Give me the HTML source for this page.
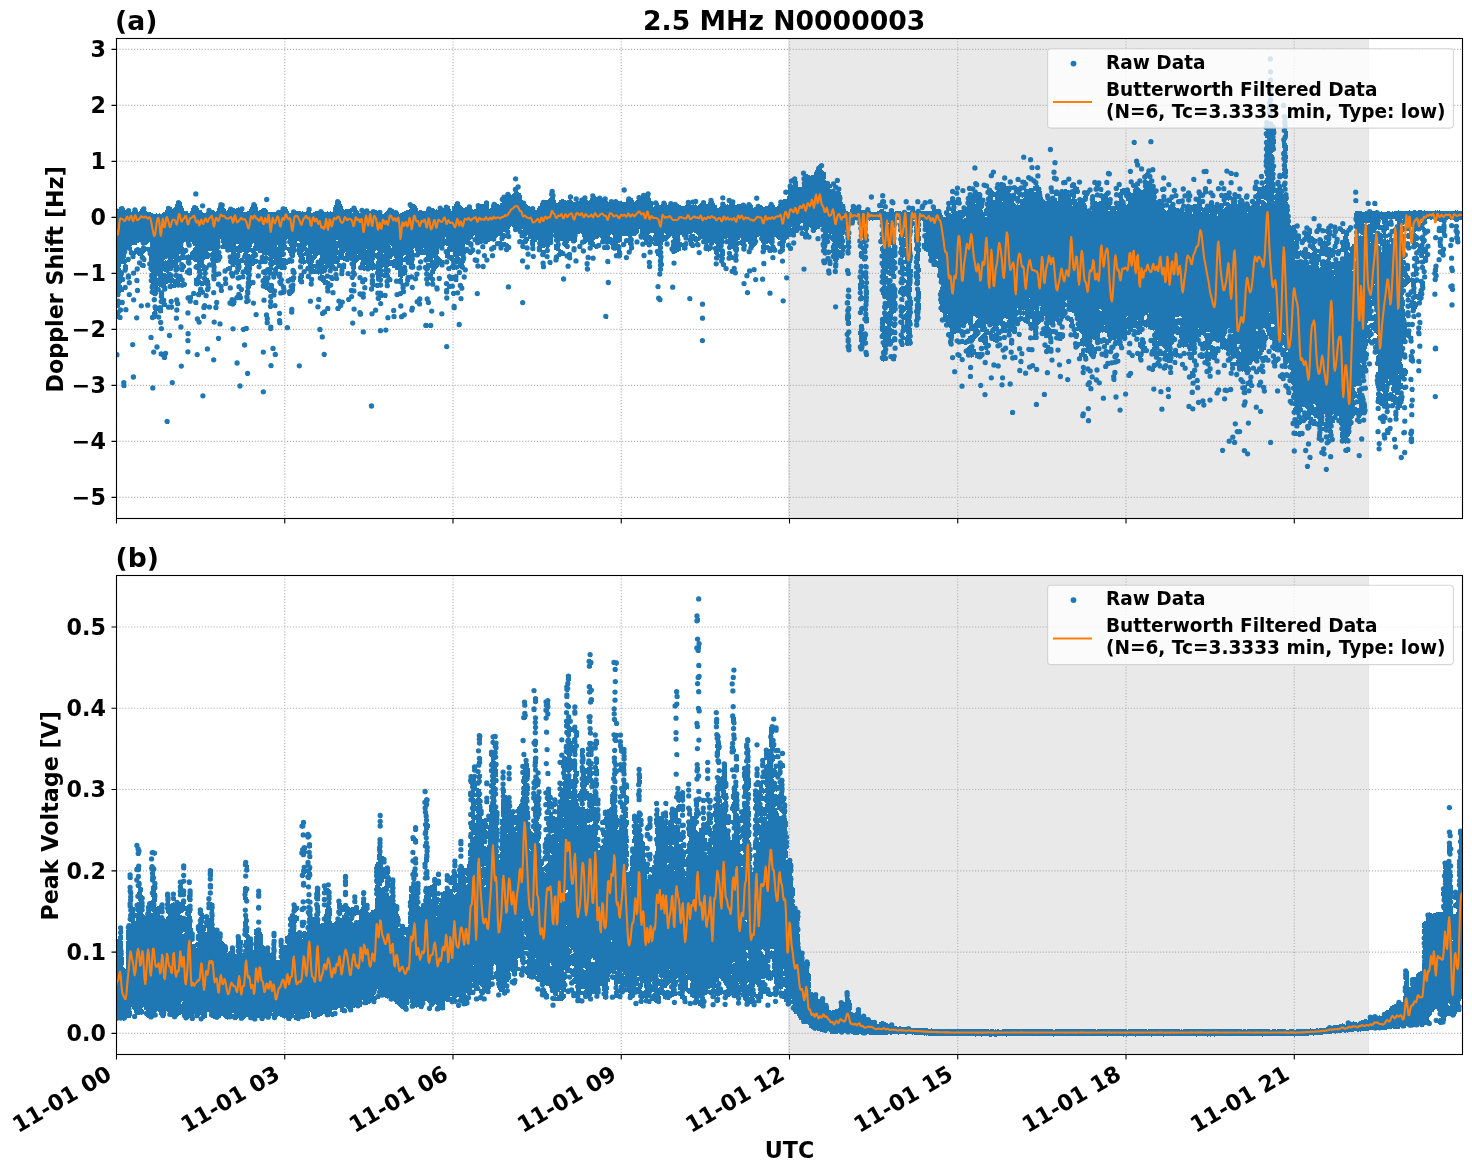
<!DOCTYPE html>
<html><head><meta charset="utf-8"><title>2.5 MHz N0000003</title>
<style>html,body{margin:0;padding:0;background:#fff}svg{display:block}</style></head>
<body>
<svg width="1472" height="1172" viewBox="0 0 1472 1172" font-family='"DejaVu Sans","Liberation Sans",sans-serif' font-weight="bold" fill="#000">
<rect width="1472" height="1172" fill="#fff"/>
<clipPath id="c1"><rect x="116.5" y="38.5" width="1346.0" height="480.0"/></clipPath>
<clipPath id="c2"><rect x="116.5" y="575.5" width="1346.0" height="479.0"/></clipPath>
<rect x="788.50" y="38.5" width="580.00" height="480.0" fill="#d3d3d3" fill-opacity="0.5" stroke="#d3d3d3" stroke-opacity="0.5" stroke-width="1"/>
<path d="M116.50 38.5V518.5M284.75 38.5V518.5M453.00 38.5V518.5M621.25 38.5V518.5M789.50 38.5V518.5M957.75 38.5V518.5M1126.00 38.5V518.5M1294.25 38.5V518.5M116.5 49.40H1462.5M116.5 105.40H1462.5M116.5 161.40H1462.5M116.5 217.40H1462.5M116.5 273.40H1462.5M116.5 329.40H1462.5M116.5 385.40H1462.5M116.5 441.40H1462.5M116.5 497.40H1462.5" stroke="#b0b0b0" stroke-width="1.1" stroke-dasharray="1.11 1.83" fill="none"/>
<g clip-path="url(#c1)"><path d="M114.5 220v4M115.5 213v25M115.5 239v5M115.5 245v14M115.5 263v4M115.5 272v4M115.5 290v4M115.5 302v4M116.5 209v69M116.5 279v4M116.5 289v7M116.5 300v8M116.5 311v8M116.5 353v4M117.5 209v88M117.5 299v9M117.5 311v8M117.5 353v4M118.5 209v88M118.5 299v9M118.5 310v9M118.5 353v4M119.5 207v90M119.5 299v8M119.5 308v12M120.5 207v60M120.5 268v16M120.5 285v8M120.5 301v4M120.5 308v5M120.5 315v5M121.5 206v58M121.5 270v13M121.5 285v7M121.5 301v4M121.5 308v4M121.5 316v4M122.5 207v57M122.5 272v10M122.5 287v5M122.5 301v4M122.5 381v6M123.5 207v57M123.5 267v8M123.5 278v4M123.5 286v6M123.5 301v4M123.5 381v7M124.5 208v64M124.5 286v4M124.5 381v7M125.5 210v48M125.5 259v13M125.5 286v4M125.5 308v4M125.5 381v7M126.5 210v40M126.5 258v5M126.5 265v7M126.5 286v4M126.5 308v4M127.5 209v40M127.5 258v4M127.5 265v5M127.5 274v5M127.5 308v4M128.5 209v41M128.5 258v4M128.5 274v5M128.5 281v4M128.5 293v4M129.5 209v41M129.5 258v4M129.5 274v5M129.5 281v4M129.5 293v4M130.5 209v46M130.5 275v4M130.5 281v4M130.5 293v4M131.5 212v34M131.5 247v11M131.5 343v4M132.5 211v34M132.5 251v8M132.5 271v4M132.5 298v4M132.5 343v4M132.5 375v4M133.5 209v36M133.5 251v8M133.5 271v4M133.5 298v4M133.5 343v4M133.5 375v4M134.5 208v37M134.5 251v8M134.5 271v4M134.5 298v4M134.5 375v4M135.5 208v37M135.5 249v6M135.5 268v7M135.5 316v4M136.5 208v37M136.5 248v6M136.5 267v4M136.5 279v4M136.5 289v4M136.5 316v4M137.5 210v33M137.5 248v7M137.5 267v4M137.5 279v4M137.5 289v4M137.5 316v4M138.5 212v31M138.5 248v8M138.5 261v4M138.5 267v4M138.5 279v4M138.5 289v4M139.5 211v31M139.5 248v8M139.5 261v4M140.5 209v33M140.5 248v8M140.5 261v6M140.5 304v4M141.5 208v36M141.5 248v12M141.5 262v5M141.5 304v4M142.5 208v37M142.5 246v15M142.5 263v5M142.5 304v4M143.5 207v38M143.5 246v8M143.5 256v6M143.5 263v5M144.5 207v38M144.5 246v7M144.5 256v6M144.5 264v4M145.5 207v38M145.5 247v5M145.5 258v4M146.5 211v34M146.5 247v4M146.5 303v4M147.5 212v32M147.5 247v5M147.5 303v4M148.5 212v31M148.5 247v4M148.5 303v4M149.5 212v30M149.5 247v11M149.5 262v4M150.5 212v60M150.5 273v10M150.5 336v4M151.5 213v76M151.5 290v4M151.5 316v4M151.5 336v4M152.5 213v82M152.5 312v8M152.5 336v4M152.5 350v4M152.5 386v4M153.5 214v75M153.5 290v5M153.5 298v4M153.5 306v4M153.5 311v9M153.5 350v4M153.5 386v4M154.5 214v82M154.5 298v4M154.5 305v14M154.5 350v4M154.5 386v4M155.5 214v82M155.5 298v4M155.5 305v14M156.5 213v83M156.5 305v13M156.5 345v4M157.5 214v62M157.5 278v16M157.5 307v4M157.5 315v4M157.5 345v4M158.5 214v72M158.5 287v5M158.5 306v6M158.5 315v4M158.5 345v4M159.5 213v74M159.5 288v4M159.5 306v7M159.5 315v4M159.5 321v4M160.5 214v73M160.5 291v13M160.5 306v7M160.5 321v4M160.5 327v4M160.5 352v4M161.5 214v74M161.5 291v13M161.5 306v7M161.5 321v4M161.5 327v4M161.5 352v5M162.5 213v75M162.5 291v14M162.5 306v7M162.5 327v4M162.5 352v4M163.5 212v59M163.5 273v34M163.5 352v8M164.5 212v48M164.5 261v11M164.5 273v18M164.5 298v9M164.5 352v8M165.5 210v49M165.5 260v12M165.5 273v18M165.5 303v4M165.5 351v9M166.5 208v51M166.5 261v12M166.5 274v10M166.5 286v5M166.5 303v4M166.5 352v7M166.5 420v4M167.5 207v48M167.5 260v13M167.5 274v10M167.5 305v4M167.5 420v4M168.5 207v76M168.5 305v4M168.5 334v4M168.5 420v4M169.5 207v64M169.5 272v11M169.5 285v4M169.5 305v4M169.5 334v4M170.5 207v64M170.5 272v17M170.5 300v4M170.5 305v4M170.5 334v4M171.5 207v64M171.5 273v16M171.5 300v4M171.5 305v5M171.5 381v4M172.5 209v61M172.5 274v9M172.5 284v4M172.5 300v4M172.5 305v4M172.5 381v4M173.5 208v51M173.5 260v8M173.5 278v10M173.5 381v4M174.5 207v65M174.5 279v9M175.5 204v68M175.5 274v4M175.5 279v9M175.5 298v6M175.5 316v4M176.5 202v70M176.5 274v13M176.5 298v8M176.5 308v4M176.5 316v4M177.5 201v71M177.5 274v13M177.5 298v8M177.5 308v4M177.5 316v4M178.5 201v61M178.5 265v6M178.5 275v12M178.5 299v7M178.5 308v4M179.5 201v53M179.5 256v6M179.5 275v12M180.5 201v53M180.5 258v4M180.5 275v7M180.5 325v4M180.5 364v4M181.5 202v58M181.5 263v9M181.5 275v7M181.5 283v4M181.5 325v4M181.5 364v4M182.5 206v54M182.5 263v9M182.5 277v11M182.5 325v4M182.5 364v4M183.5 208v35M183.5 247v13M183.5 263v9M183.5 278v9M184.5 211v31M184.5 249v11M184.5 264v5M184.5 282v5M185.5 211v31M185.5 248v6M185.5 283v4M186.5 211v33M186.5 249v4M186.5 255v5M186.5 270v4M187.5 211v36M187.5 255v10M187.5 270v5M187.5 296v4M187.5 311v4M187.5 332v4M187.5 339v4M187.5 350v4M188.5 213v34M188.5 254v11M188.5 268v7M188.5 296v7M188.5 311v4M188.5 332v4M188.5 339v4M188.5 350v4M189.5 213v34M189.5 255v10M189.5 268v7M189.5 296v7M189.5 311v4M189.5 332v4M189.5 339v4M189.5 350v4M190.5 211v31M190.5 243v4M190.5 252v13M190.5 268v7M190.5 295v8M191.5 208v34M191.5 251v9M191.5 269v6M191.5 296v7M192.5 207v37M192.5 250v10M192.5 292v7M193.5 206v40M193.5 248v13M193.5 292v4M194.5 206v40M194.5 247v15M194.5 278v7M194.5 292v4M195.5 192v4M195.5 205v57M195.5 264v5M195.5 278v8M195.5 301v4M196.5 192v4M196.5 206v56M196.5 264v6M196.5 277v9M196.5 301v4M196.5 317v4M196.5 353v4M197.5 192v4M197.5 206v67M197.5 276v10M197.5 292v5M197.5 301v4M197.5 317v7M197.5 353v4M198.5 208v78M198.5 289v8M198.5 317v7M198.5 353v4M199.5 210v75M199.5 287v10M199.5 318v6M200.5 210v69M200.5 280v6M200.5 287v9M200.5 320v4M201.5 204v4M201.5 210v58M201.5 269v8M201.5 281v5M201.5 287v7M202.5 204v4M202.5 212v59M202.5 281v5M202.5 288v7M202.5 315v4M202.5 394v4M203.5 204v4M203.5 213v62M203.5 276v10M203.5 290v4M203.5 304v6M203.5 315v4M203.5 394v4M204.5 213v47M204.5 264v11M204.5 276v9M204.5 291v6M204.5 304v6M204.5 315v4M204.5 394v4M205.5 213v46M205.5 265v10M205.5 276v9M205.5 294v4M205.5 304v6M206.5 212v47M206.5 266v9M206.5 277v15M206.5 294v4M206.5 304v4M206.5 347v4M207.5 209v50M207.5 265v5M207.5 278v14M207.5 294v4M207.5 347v4M208.5 209v42M208.5 252v7M208.5 263v4M208.5 278v14M208.5 305v4M208.5 347v4M209.5 209v42M209.5 253v5M209.5 263v4M209.5 280v11M209.5 305v4M210.5 209v42M210.5 253v4M210.5 263v4M210.5 305v4M211.5 210v41M211.5 252v15M212.5 210v59M212.5 274v7M212.5 291v4M212.5 358v4M213.5 210v71M213.5 291v4M213.5 320v4M213.5 358v4M214.5 211v70M214.5 291v4M214.5 320v4M214.5 358v4M215.5 212v69M215.5 301v4M215.5 306v4M215.5 320v4M216.5 211v52M216.5 272v5M216.5 301v9M217.5 208v55M217.5 273v4M217.5 282v4M217.5 301v4M217.5 306v4M217.5 337v4M218.5 206v56M218.5 272v4M218.5 282v4M218.5 337v4M219.5 203v46M219.5 250v12M219.5 272v4M219.5 282v6M219.5 322v4M219.5 337v4M220.5 203v36M220.5 251v10M220.5 272v4M220.5 283v10M220.5 322v4M221.5 203v40M221.5 245v4M221.5 255v4M221.5 285v8M221.5 322v4M222.5 203v46M222.5 285v8M223.5 203v46M224.5 208v41M224.5 269v4M224.5 277v9M225.5 209v40M225.5 269v4M225.5 277v9M226.5 211v41M226.5 267v6M226.5 277v9M227.5 210v42M227.5 267v4M228.5 209v43M228.5 266v5M229.5 207v45M229.5 255v9M229.5 266v5M229.5 286v4M229.5 301v4M230.5 207v45M230.5 255v9M230.5 267v4M230.5 272v5M230.5 286v4M230.5 298v8M231.5 207v63M231.5 272v6M231.5 286v4M231.5 298v8M232.5 208v59M232.5 272v6M232.5 298v8M232.5 327v4M233.5 208v59M233.5 272v6M233.5 298v8M233.5 327v4M234.5 208v59M234.5 299v7M234.5 327v4M235.5 209v56M235.5 270v4M235.5 300v5M236.5 208v36M236.5 246v6M236.5 253v21M236.5 295v5M236.5 361v4M237.5 208v36M237.5 246v28M237.5 276v4M237.5 293v7M237.5 361v4M238.5 207v37M238.5 245v29M238.5 276v4M238.5 285v4M238.5 293v7M238.5 361v4M239.5 208v50M239.5 259v13M239.5 276v4M239.5 285v5M239.5 293v7M239.5 384v4M240.5 208v45M240.5 259v11M240.5 276v4M240.5 285v7M240.5 293v7M240.5 384v4M241.5 207v46M241.5 259v4M241.5 287v5M241.5 294v6M241.5 384v4M242.5 207v45M242.5 259v4M242.5 270v4M242.5 275v4M242.5 288v4M242.5 328v4M243.5 207v4M243.5 212v40M243.5 253v10M243.5 270v4M243.5 275v4M243.5 328v4M243.5 343v4M244.5 212v47M244.5 260v5M244.5 267v7M244.5 275v4M244.5 327v5M244.5 343v4M245.5 212v62M245.5 300v4M245.5 327v4M245.5 343v4M246.5 212v63M246.5 290v14M246.5 327v4M246.5 372v4M247.5 211v65M247.5 277v27M247.5 327v4M247.5 372v4M248.5 211v42M248.5 254v49M248.5 372v4M249.5 209v43M249.5 254v35M249.5 290v5M249.5 299v4M250.5 207v45M250.5 255v33M251.5 205v42M251.5 248v5M251.5 254v16M251.5 281v5M252.5 203v41M252.5 248v18M252.5 281v4M252.5 301v4M253.5 203v40M253.5 246v20M253.5 281v4M253.5 301v4M254.5 203v62M254.5 281v4M254.5 301v4M255.5 203v55M255.5 259v5M255.5 313v4M256.5 204v47M256.5 252v5M256.5 259v5M256.5 313v4M257.5 207v44M257.5 259v4M257.5 274v4M257.5 313v4M258.5 211v42M258.5 265v4M258.5 274v4M259.5 210v43M259.5 260v4M259.5 265v4M259.5 274v4M260.5 210v43M260.5 260v4M260.5 265v4M261.5 209v44M261.5 256v8M262.5 208v47M262.5 256v8M262.5 270v4M262.5 278v5M262.5 284v4M262.5 350v4M262.5 390v4M263.5 208v56M263.5 270v5M263.5 276v12M263.5 298v4M263.5 350v4M263.5 390v4M264.5 208v47M264.5 256v8M264.5 269v6M264.5 276v13M264.5 298v4M264.5 350v4M264.5 390v4M265.5 198v4M265.5 208v56M265.5 269v21M265.5 298v4M265.5 313v4M266.5 198v4M266.5 209v55M266.5 268v7M266.5 276v14M266.5 313v12M267.5 198v4M267.5 210v45M267.5 256v4M267.5 268v6M267.5 276v15M267.5 313v12M268.5 212v44M268.5 257v4M268.5 267v7M268.5 276v9M268.5 286v6M268.5 314v11M269.5 212v63M269.5 276v4M269.5 284v9M269.5 300v4M269.5 305v4M269.5 326v5M270.5 212v63M270.5 284v9M270.5 295v4M270.5 300v4M270.5 305v4M270.5 325v6M270.5 364v4M271.5 212v63M271.5 284v9M271.5 295v4M271.5 300v4M271.5 305v4M271.5 325v6M271.5 364v4M272.5 212v58M272.5 272v7M272.5 284v9M272.5 294v5M272.5 325v5M272.5 347v4M272.5 364v4M273.5 212v47M273.5 260v6M273.5 275v4M273.5 284v13M273.5 347v4M274.5 212v53M274.5 267v12M274.5 289v8M274.5 304v4M274.5 347v4M274.5 353v4M275.5 212v53M275.5 266v13M275.5 289v8M275.5 304v4M275.5 353v4M276.5 212v63M276.5 304v4M276.5 353v4M277.5 211v34M277.5 247v28M278.5 211v58M278.5 272v7M278.5 312v4M278.5 319v6M279.5 210v59M279.5 272v14M279.5 312v4M279.5 319v6M280.5 210v60M280.5 272v14M280.5 291v4M280.5 312v4M280.5 319v6M281.5 208v62M281.5 273v14M281.5 291v4M281.5 319v6M282.5 207v50M282.5 258v12M282.5 278v17M283.5 207v50M283.5 258v12M283.5 284v11M284.5 207v44M284.5 252v4M284.5 258v12M284.5 285v9M285.5 207v43M285.5 258v12M285.5 286v8M286.5 207v33M286.5 245v5M286.5 259v6M286.5 326v4M287.5 209v30M287.5 247v4M287.5 260v5M287.5 279v4M287.5 326v4M288.5 211v33M288.5 247v6M288.5 258v6M288.5 278v5M288.5 290v6M288.5 326v4M289.5 213v33M289.5 247v6M289.5 258v6M289.5 277v6M289.5 289v7M290.5 213v44M290.5 258v5M290.5 277v5M290.5 285v11M290.5 308v6M291.5 212v46M291.5 259v5M291.5 269v5M291.5 276v6M291.5 284v11M291.5 308v6M292.5 210v48M292.5 259v4M292.5 269v5M292.5 276v6M292.5 283v11M292.5 308v6M293.5 210v48M293.5 269v13M293.5 283v10M293.5 308v6M294.5 210v47M294.5 269v6M294.5 276v6M294.5 283v8M295.5 211v41M295.5 270v5M295.5 276v4M296.5 211v36M297.5 211v30M297.5 243v12M298.5 211v30M298.5 243v14M298.5 276v6M298.5 364v4M299.5 211v31M299.5 243v15M299.5 265v4M299.5 275v8M299.5 364v4M300.5 211v52M300.5 265v4M300.5 274v10M300.5 364v4M301.5 212v52M301.5 265v4M301.5 274v10M302.5 211v53M302.5 270v14M303.5 212v40M303.5 253v12M303.5 270v8M303.5 280v4M304.5 212v39M304.5 252v4M304.5 257v7M304.5 270v4M305.5 212v44M305.5 260v4M305.5 270v4M306.5 211v35M306.5 247v16M306.5 267v4M307.5 208v37M307.5 248v16M307.5 267v4M307.5 275v4M308.5 208v63M308.5 275v4M309.5 208v66M309.5 275v4M309.5 299v4M310.5 208v66M310.5 275v11M310.5 299v4M311.5 213v61M311.5 278v8M311.5 299v4M312.5 213v41M312.5 255v19M312.5 278v8M313.5 212v51M313.5 264v10M314.5 212v48M314.5 264v4M314.5 270v4M315.5 211v48M315.5 264v10M316.5 211v47M316.5 261v8M316.5 270v4M317.5 211v45M317.5 260v14M317.5 305v4M318.5 211v44M318.5 260v15M318.5 298v4M318.5 305v4M319.5 210v45M319.5 258v16M319.5 276v4M319.5 298v4M319.5 305v4M319.5 328v4M320.5 210v71M320.5 298v4M320.5 328v4M321.5 210v72M321.5 312v4M321.5 328v4M321.5 335v4M322.5 210v64M322.5 275v8M322.5 312v4M322.5 335v4M323.5 211v63M323.5 275v10M323.5 310v6M323.5 335v4M323.5 353v4M324.5 212v52M324.5 265v8M324.5 276v9M324.5 310v5M324.5 353v4M325.5 212v61M325.5 276v9M325.5 310v4M325.5 353v4M326.5 212v60M326.5 274v4M326.5 280v5M326.5 286v7M326.5 307v7M327.5 211v58M327.5 274v4M327.5 280v13M327.5 307v4M328.5 212v56M328.5 274v4M328.5 281v12M328.5 307v4M329.5 212v61M329.5 275v4M329.5 281v12M329.5 307v4M330.5 211v62M330.5 275v5M330.5 283v5M331.5 212v61M331.5 275v6M331.5 283v4M332.5 212v57M332.5 275v6M332.5 291v4M333.5 207v62M333.5 277v4M333.5 291v4M334.5 205v59M334.5 265v6M334.5 291v4M335.5 202v62M335.5 267v4M335.5 273v8M336.5 200v40M336.5 241v23M336.5 267v4M336.5 273v8M337.5 200v40M337.5 241v14M337.5 256v8M337.5 267v4M337.5 273v8M337.5 307v4M338.5 200v48M338.5 250v18M338.5 299v4M338.5 305v6M339.5 200v62M339.5 264v4M339.5 299v12M340.5 201v59M340.5 264v11M340.5 299v10M341.5 204v56M341.5 264v12M341.5 300v8M342.5 206v54M342.5 263v13M342.5 300v7M343.5 209v52M343.5 263v13M343.5 300v4M344.5 210v43M344.5 256v5M344.5 263v6M345.5 209v43M345.5 253v8M345.5 264v5M346.5 209v53M347.5 209v53M347.5 272v4M347.5 298v4M348.5 209v53M348.5 272v4M348.5 298v4M349.5 209v51M349.5 272v4M349.5 298v4M350.5 208v53M350.5 289v4M350.5 295v6M351.5 208v53M351.5 262v4M351.5 276v4M351.5 289v4M351.5 295v4M351.5 321v4M352.5 207v5M352.5 213v57M352.5 271v9M352.5 289v4M352.5 295v4M352.5 321v4M353.5 206v64M353.5 271v9M353.5 283v4M353.5 289v4M353.5 307v4M353.5 321v4M354.5 206v64M354.5 271v6M354.5 283v4M354.5 289v4M354.5 307v4M355.5 206v63M355.5 271v5M355.5 283v4M355.5 289v4M355.5 307v4M356.5 208v55M357.5 210v44M357.5 255v7M358.5 211v50M358.5 311v4M359.5 213v47M359.5 266v4M359.5 276v4M359.5 292v4M359.5 311v5M360.5 213v47M360.5 265v5M360.5 276v4M360.5 292v5M360.5 311v5M361.5 209v61M361.5 276v8M361.5 292v6M361.5 311v5M362.5 209v61M362.5 279v5M362.5 292v7M362.5 312v4M362.5 330v4M363.5 209v62M363.5 278v6M363.5 292v7M363.5 330v4M364.5 210v61M364.5 278v6M364.5 286v4M364.5 292v7M364.5 330v4M365.5 210v55M365.5 266v4M365.5 278v4M365.5 286v4M366.5 209v40M366.5 250v21M366.5 278v4M366.5 286v4M367.5 209v62M368.5 209v62M369.5 211v60M370.5 211v59M370.5 287v4M370.5 404v4M371.5 211v59M371.5 274v4M371.5 279v12M371.5 312v4M371.5 404v4M372.5 210v61M372.5 274v4M372.5 279v12M372.5 312v4M372.5 404v4M373.5 210v60M373.5 274v4M373.5 279v12M373.5 312v4M374.5 210v50M374.5 263v7M374.5 279v8M374.5 308v4M375.5 210v41M375.5 253v5M375.5 308v4M376.5 210v40M376.5 253v6M376.5 261v18M376.5 284v4M376.5 308v4M377.5 211v40M377.5 252v29M377.5 284v4M377.5 291v4M377.5 296v5M378.5 211v70M378.5 284v4M378.5 291v10M379.5 211v71M379.5 283v4M379.5 291v10M379.5 302v4M379.5 329v4M380.5 211v71M380.5 283v4M380.5 291v9M380.5 302v4M380.5 329v4M381.5 211v66M381.5 278v4M381.5 283v4M381.5 291v7M381.5 302v4M381.5 329v4M382.5 214v54M382.5 269v8M382.5 292v6M383.5 214v39M383.5 254v13M383.5 273v5M384.5 213v55M384.5 273v5M384.5 294v4M385.5 212v66M385.5 294v4M385.5 328v4M386.5 211v67M386.5 280v8M386.5 294v4M386.5 328v4M387.5 210v78M387.5 316v4M387.5 328v4M388.5 209v58M388.5 268v20M388.5 316v4M389.5 208v58M389.5 269v4M389.5 275v7M389.5 316v4M390.5 208v37M390.5 246v13M390.5 260v6M390.5 277v5M391.5 208v38M391.5 248v11M391.5 260v6M391.5 278v4M392.5 209v48M392.5 260v8M392.5 309v4M393.5 209v47M393.5 259v9M393.5 309v4M393.5 315v4M394.5 211v47M394.5 259v9M394.5 309v4M394.5 315v4M395.5 211v59M395.5 279v4M395.5 315v4M396.5 211v59M396.5 279v4M396.5 293v4M397.5 211v59M397.5 279v4M397.5 293v4M398.5 212v65M398.5 279v4M398.5 293v4M399.5 214v63M399.5 278v6M399.5 292v4M400.5 213v71M400.5 292v4M400.5 304v4M400.5 315v4M401.5 213v77M401.5 292v4M401.5 304v4M401.5 315v4M402.5 212v53M402.5 266v12M402.5 279v16M402.5 304v4M402.5 315v4M403.5 212v44M403.5 258v4M403.5 266v10M403.5 284v10M403.5 313v5M404.5 211v44M404.5 257v5M404.5 266v10M404.5 284v10M404.5 313v4M405.5 211v44M405.5 256v6M405.5 266v9M405.5 313v4M406.5 210v54M406.5 266v9M406.5 276v10M407.5 210v55M407.5 276v10M408.5 210v55M408.5 275v11M409.5 203v5M409.5 209v56M409.5 276v6M410.5 203v66M410.5 275v4M410.5 308v4M411.5 203v66M411.5 275v4M411.5 286v4M411.5 306v6M412.5 204v66M412.5 275v4M412.5 286v4M412.5 306v6M413.5 204v45M413.5 250v19M413.5 286v4M413.5 306v6M414.5 204v44M414.5 253v4M414.5 264v5M414.5 277v4M415.5 205v46M415.5 253v4M415.5 277v4M416.5 206v51M416.5 272v4M416.5 277v4M416.5 300v4M417.5 208v49M417.5 272v4M417.5 299v6M418.5 211v46M418.5 266v4M418.5 272v4M418.5 298v8M419.5 210v46M419.5 260v4M419.5 266v4M419.5 297v9M420.5 210v45M420.5 260v4M420.5 266v4M420.5 297v9M421.5 210v45M421.5 260v4M421.5 297v4M422.5 211v44M423.5 211v37M423.5 249v6M424.5 211v44M424.5 266v4M425.5 211v44M425.5 257v5M425.5 265v6M425.5 272v4M425.5 277v4M425.5 323v5M426.5 209v53M426.5 263v8M426.5 272v4M426.5 277v4M426.5 282v4M426.5 297v4M426.5 323v5M427.5 208v54M427.5 263v8M427.5 272v4M427.5 277v4M427.5 282v4M427.5 297v8M427.5 323v5M428.5 207v55M428.5 263v8M428.5 273v8M428.5 282v4M428.5 297v8M429.5 207v55M429.5 263v7M429.5 273v7M429.5 301v4M429.5 324v4M430.5 207v61M430.5 272v8M430.5 309v4M430.5 324v4M431.5 208v78M431.5 309v4M431.5 324v4M432.5 208v78M432.5 309v4M433.5 208v50M433.5 260v14M433.5 278v8M434.5 209v65M435.5 210v61M435.5 287v4M436.5 209v60M436.5 286v5M437.5 210v58M437.5 286v5M438.5 207v47M438.5 256v11M438.5 277v4M438.5 286v5M439.5 206v42M439.5 257v8M439.5 277v4M440.5 206v44M440.5 258v9M440.5 277v4M441.5 206v44M441.5 259v8M441.5 312v4M442.5 208v42M442.5 260v7M442.5 312v4M443.5 208v42M443.5 260v7M443.5 312v4M444.5 207v39M445.5 205v32M445.5 239v6M445.5 250v8M445.5 260v4M445.5 282v4M445.5 289v5M445.5 345v4M446.5 205v41M446.5 249v9M446.5 260v4M446.5 282v4M446.5 289v5M446.5 296v4M446.5 345v4M447.5 205v41M447.5 247v12M447.5 260v4M447.5 282v4M447.5 289v5M447.5 296v4M447.5 345v4M448.5 206v52M448.5 267v4M448.5 275v4M448.5 282v12M448.5 296v4M449.5 206v54M449.5 266v5M449.5 275v5M449.5 285v4M450.5 209v43M450.5 255v6M450.5 265v6M450.5 275v6M450.5 285v4M451.5 211v41M451.5 255v6M451.5 264v5M451.5 275v6M451.5 284v4M452.5 206v46M452.5 255v15M452.5 275v6M452.5 284v4M452.5 292v4M452.5 305v4M453.5 206v64M453.5 275v5M453.5 284v4M453.5 292v4M453.5 305v5M454.5 204v53M454.5 258v12M454.5 275v6M454.5 292v4M454.5 305v5M455.5 202v62M455.5 265v4M455.5 275v7M455.5 305v5M456.5 202v62M456.5 265v5M456.5 275v7M456.5 291v4M457.5 202v62M457.5 265v4M457.5 275v7M457.5 291v4M458.5 202v67M458.5 271v4M458.5 291v4M458.5 323v4M459.5 202v54M459.5 257v11M459.5 271v4M459.5 284v4M459.5 323v4M460.5 205v51M460.5 258v11M460.5 271v4M460.5 284v6M460.5 297v4M460.5 323v4M461.5 206v63M461.5 284v6M461.5 297v4M462.5 207v63M462.5 284v6M462.5 297v4M463.5 208v61M463.5 275v4M463.5 286v4M464.5 208v55M464.5 266v6M464.5 275v4M465.5 207v37M465.5 248v6M465.5 268v4M465.5 275v4M466.5 207v38M466.5 248v5M466.5 268v4M467.5 206v39M467.5 248v5M468.5 205v40M468.5 248v6M469.5 205v42M469.5 249v6M470.5 205v35M470.5 241v6M470.5 250v5M471.5 206v33M471.5 242v5M471.5 248v7M472.5 209v30M472.5 242v5M472.5 248v6M473.5 210v26M473.5 248v5M474.5 209v26M474.5 238v4M474.5 258v4M475.5 209v34M475.5 258v5M476.5 204v41M476.5 258v5M476.5 292v4M477.5 204v41M477.5 250v4M477.5 259v4M477.5 264v4M477.5 292v4M478.5 203v42M478.5 250v4M478.5 264v4M478.5 292v4M479.5 204v40M479.5 250v4M479.5 264v4M480.5 204v40M481.5 204v40M482.5 204v39M482.5 245v4M482.5 265v4M483.5 204v36M483.5 245v4M483.5 254v4M483.5 265v4M484.5 203v41M484.5 245v4M484.5 254v4M484.5 265v4M485.5 201v43M485.5 254v4M486.5 201v43M486.5 258v4M487.5 201v42M487.5 258v4M488.5 202v40M488.5 258v4M489.5 209v33M490.5 208v33M490.5 247v4M491.5 208v33M491.5 247v4M491.5 254v4M492.5 203v38M492.5 246v5M492.5 254v4M493.5 203v39M493.5 246v5M493.5 254v4M494.5 203v38M494.5 246v4M495.5 203v38M495.5 246v4M496.5 203v35M496.5 242v4M497.5 204v33M497.5 242v4M498.5 204v32M498.5 241v5M499.5 205v31M499.5 241v5M500.5 203v47M501.5 198v4M501.5 203v47M502.5 196v45M502.5 242v8M503.5 195v37M503.5 233v8M503.5 242v5M504.5 195v37M504.5 233v6M504.5 242v5M505.5 195v37M505.5 234v4M505.5 242v10M506.5 193v45M506.5 243v9M507.5 193v46M507.5 243v9M507.5 285v4M508.5 193v46M508.5 244v7M508.5 285v4M509.5 193v36M509.5 230v9M509.5 246v4M509.5 285v4M510.5 194v33M511.5 195v31M512.5 194v33M513.5 193v35M514.5 177v4M514.5 188v44M515.5 177v4M515.5 188v44M516.5 177v4M516.5 186v46M517.5 185v46M518.5 185v4M518.5 192v40M519.5 185v4M519.5 193v41M519.5 240v4M520.5 193v45M520.5 239v5M521.5 195v34M521.5 230v8M521.5 240v4M521.5 259v4M521.5 301v4M522.5 200v29M522.5 230v8M522.5 240v4M522.5 245v4M522.5 259v4M522.5 301v4M523.5 201v37M523.5 239v10M523.5 259v4M523.5 301v4M524.5 201v37M524.5 239v5M524.5 245v4M525.5 202v42M525.5 246v4M526.5 204v32M526.5 237v7M526.5 246v4M526.5 265v4M527.5 205v30M527.5 237v6M527.5 246v4M527.5 252v4M527.5 265v4M528.5 206v35M528.5 246v4M528.5 252v4M528.5 265v4M529.5 206v33M529.5 252v4M530.5 207v32M530.5 240v4M531.5 207v39M532.5 207v44M532.5 255v4M533.5 207v44M533.5 255v4M534.5 207v44M534.5 255v4M535.5 210v32M536.5 210v32M537.5 208v32M538.5 206v46M539.5 206v46M540.5 203v49M541.5 202v55M542.5 201v47M542.5 250v7M542.5 261v8M543.5 201v47M543.5 250v7M543.5 261v8M544.5 201v47M544.5 250v7M544.5 261v8M545.5 200v47M545.5 250v4M546.5 200v48M546.5 249v4M546.5 255v4M547.5 200v48M547.5 249v4M547.5 255v4M548.5 199v49M548.5 249v4M548.5 255v4M549.5 198v49M549.5 261v4M550.5 190v6M550.5 197v48M550.5 261v4M551.5 190v55M551.5 261v4M552.5 190v54M553.5 190v43M554.5 194v44M554.5 244v6M555.5 200v42M555.5 244v6M555.5 255v7M556.5 203v48M556.5 255v7M557.5 203v48M557.5 253v9M558.5 202v57M559.5 200v42M559.5 243v14M560.5 200v41M560.5 249v8M561.5 199v42M561.5 250v6M562.5 199v42M562.5 250v6M562.5 277v4M563.5 199v47M563.5 251v5M563.5 277v4M564.5 200v47M564.5 252v4M564.5 277v4M565.5 200v47M565.5 254v4M566.5 201v48M566.5 254v4M567.5 200v49M567.5 254v5M567.5 264v4M568.5 200v43M568.5 245v4M568.5 253v7M568.5 264v4M569.5 195v46M569.5 253v7M569.5 264v4M570.5 195v46M570.5 253v7M571.5 195v4M571.5 200v42M571.5 253v7M572.5 201v42M572.5 247v5M573.5 202v41M573.5 247v5M574.5 202v41M574.5 247v5M575.5 197v4M575.5 202v41M575.5 247v5M575.5 259v4M576.5 197v45M576.5 259v4M577.5 197v37M577.5 259v4M578.5 201v33M579.5 201v33M579.5 245v4M580.5 199v34M580.5 245v4M581.5 198v36M581.5 240v9M582.5 198v39M582.5 240v4M582.5 249v4M583.5 197v47M583.5 249v4M584.5 196v48M584.5 249v4M585.5 196v48M586.5 196v47M586.5 262v4M586.5 267v4M587.5 200v42M587.5 256v4M587.5 262v4M587.5 267v4M588.5 201v44M588.5 256v4M588.5 262v4M588.5 267v4M589.5 200v45M589.5 246v4M589.5 256v4M590.5 198v52M591.5 195v55M592.5 194v53M592.5 256v4M593.5 194v53M593.5 256v4M594.5 194v46M594.5 242v6M594.5 256v4M595.5 196v43M595.5 244v5M596.5 197v42M596.5 244v5M597.5 197v42M597.5 244v5M598.5 196v42M598.5 243v5M599.5 196v41M599.5 244v4M600.5 196v42M601.5 197v47M602.5 198v46M603.5 198v46M603.5 246v4M604.5 197v47M604.5 246v4M605.5 197v47M605.5 246v4M605.5 315v4M606.5 197v47M606.5 246v4M606.5 315v4M607.5 201v43M607.5 245v5M607.5 260v4M607.5 281v4M607.5 315v4M608.5 202v42M608.5 246v4M608.5 260v4M608.5 281v4M609.5 201v43M609.5 260v4M609.5 281v4M610.5 200v35M610.5 237v8M611.5 200v34M611.5 237v9M612.5 200v35M612.5 238v12M613.5 200v50M614.5 200v50M615.5 200v50M615.5 254v4M616.5 200v50M616.5 253v5M617.5 200v58M618.5 201v42M618.5 244v14M619.5 201v42M619.5 244v14M620.5 201v41M620.5 245v13M621.5 201v41M621.5 251v6M622.5 202v34M622.5 243v4M623.5 188v4M623.5 202v34M623.5 243v4M624.5 188v4M624.5 202v34M624.5 243v4M625.5 188v4M625.5 202v34M625.5 239v7M625.5 256v4M626.5 199v37M626.5 239v4M626.5 256v4M627.5 198v38M627.5 239v4M627.5 256v4M628.5 197v40M628.5 239v6M628.5 250v4M629.5 197v49M629.5 250v4M630.5 197v57M631.5 198v53M632.5 198v38M632.5 238v12M633.5 200v36M634.5 202v34M635.5 201v35M636.5 200v35M636.5 240v4M637.5 196v38M637.5 240v4M638.5 196v37M638.5 240v4M639.5 195v34M640.5 196v43M641.5 195v44M642.5 194v45M642.5 242v4M643.5 194v46M643.5 242v4M643.5 254v4M644.5 194v52M644.5 254v4M645.5 194v51M645.5 254v4M646.5 193v52M647.5 192v55M648.5 192v48M648.5 242v5M648.5 261v8M649.5 192v42M649.5 235v12M649.5 250v4M649.5 261v8M650.5 198v35M650.5 235v12M650.5 250v4M650.5 261v8M651.5 201v32M651.5 236v10M651.5 250v4M652.5 202v31M652.5 237v7M653.5 207v26M653.5 235v6M654.5 206v35M654.5 242v4M655.5 201v45M656.5 201v45M656.5 250v6M657.5 201v45M657.5 249v7M657.5 285v4M657.5 296v4M658.5 203v54M658.5 285v4M658.5 296v5M659.5 205v66M659.5 272v4M659.5 285v4M659.5 296v6M660.5 205v71M660.5 297v5M661.5 204v46M661.5 251v20M661.5 272v4M661.5 298v4M662.5 202v43M662.5 255v12M663.5 201v41M664.5 201v32M664.5 235v6M665.5 201v33M665.5 235v6M666.5 203v38M666.5 242v4M667.5 205v35M667.5 242v4M668.5 204v35M668.5 242v4M669.5 202v36M670.5 202v35M671.5 202v34M671.5 244v8M671.5 285v4M672.5 202v36M672.5 240v14M672.5 285v4M673.5 203v51M673.5 261v4M673.5 285v4M674.5 203v51M674.5 261v4M675.5 203v50M675.5 261v4M676.5 203v50M677.5 204v48M678.5 204v48M679.5 205v46M680.5 205v30M680.5 242v9M681.5 206v29M681.5 242v5M682.5 206v31M682.5 243v7M683.5 206v31M683.5 243v7M684.5 206v34M684.5 242v9M685.5 205v35M685.5 242v8M686.5 203v37M686.5 242v8M687.5 201v39M687.5 242v4M688.5 201v33M689.5 201v33M689.5 235v11M689.5 297v4M690.5 201v45M690.5 297v4M691.5 205v43M691.5 297v4M692.5 200v4M692.5 205v28M692.5 234v14M693.5 200v32M693.5 234v7M693.5 242v6M694.5 200v4M694.5 205v28M694.5 234v8M695.5 199v34M695.5 236v6M696.5 200v4M696.5 205v29M696.5 236v11M697.5 206v29M697.5 237v5M697.5 243v4M698.5 205v36M698.5 243v4M698.5 251v4M699.5 204v37M699.5 243v4M699.5 251v4M700.5 203v37M700.5 251v4M701.5 202v37M701.5 302v4M701.5 316v4M701.5 339v4M702.5 201v38M702.5 240v4M702.5 302v4M702.5 316v4M702.5 339v4M703.5 201v43M703.5 302v4M703.5 316v4M703.5 339v4M704.5 201v43M705.5 201v43M705.5 245v6M706.5 204v47M707.5 204v40M707.5 245v6M708.5 202v41M708.5 245v7M709.5 199v45M709.5 246v5M710.5 199v52M711.5 199v46M711.5 246v4M712.5 199v46M713.5 201v44M714.5 203v40M714.5 247v7M715.5 205v39M715.5 246v9M715.5 256v4M715.5 262v4M716.5 205v55M716.5 262v4M717.5 208v52M717.5 262v4M718.5 208v52M719.5 207v45M719.5 254v4M720.5 206v46M720.5 254v9M721.5 203v60M722.5 196v4M722.5 202v46M722.5 249v18M723.5 196v4M723.5 202v42M723.5 249v18M724.5 196v4M724.5 202v37M724.5 250v6M724.5 263v7M725.5 204v35M725.5 263v8M726.5 205v34M726.5 240v4M726.5 267v4M727.5 204v34M727.5 239v5M727.5 267v4M728.5 199v4M728.5 205v45M728.5 252v8M729.5 199v51M729.5 252v8M730.5 199v51M730.5 252v8M731.5 200v49M731.5 252v8M731.5 270v4M732.5 200v49M732.5 255v5M732.5 267v7M733.5 200v51M733.5 256v4M733.5 267v7M734.5 200v52M734.5 254v8M734.5 267v8M735.5 205v48M735.5 254v8M735.5 267v8M736.5 205v48M736.5 254v8M736.5 271v4M737.5 204v49M737.5 254v8M738.5 204v36M738.5 241v5M738.5 247v4M739.5 204v36M739.5 241v4M740.5 204v34M740.5 240v5M741.5 204v42M742.5 203v43M742.5 247v4M743.5 203v48M743.5 282v4M744.5 203v48M744.5 282v4M745.5 204v39M745.5 244v7M745.5 282v4M746.5 205v37M746.5 274v4M746.5 291v4M747.5 203v39M747.5 274v4M747.5 291v4M748.5 203v41M748.5 250v4M748.5 269v9M748.5 291v4M749.5 203v51M749.5 269v4M750.5 203v51M750.5 269v4M751.5 204v46M752.5 205v45M753.5 208v40M753.5 268v4M754.5 207v40M754.5 268v4M754.5 278v4M755.5 196v4M755.5 207v39M755.5 268v4M755.5 278v4M756.5 196v4M756.5 205v40M756.5 278v4M757.5 196v4M757.5 205v32M758.5 204v33M759.5 205v31M760.5 205v36M761.5 205v38M761.5 245v4M761.5 277v4M762.5 206v48M762.5 277v4M763.5 207v47M763.5 262v4M763.5 277v4M764.5 207v47M764.5 262v4M765.5 206v46M765.5 262v4M766.5 206v38M766.5 245v5M767.5 206v38M767.5 245v5M768.5 205v38M768.5 245v7M769.5 203v41M769.5 246v7M769.5 291v4M770.5 203v42M770.5 247v6M770.5 291v4M771.5 203v42M771.5 246v7M771.5 291v4M772.5 203v49M772.5 256v4M773.5 204v40M773.5 245v7M773.5 256v4M774.5 205v32M774.5 245v7M774.5 256v4M775.5 207v30M775.5 247v5M776.5 207v31M777.5 206v33M778.5 204v36M779.5 201v39M779.5 241v5M779.5 250v4M780.5 200v54M781.5 200v54M781.5 259v4M782.5 200v53M782.5 259v4M782.5 299v4M783.5 199v53M783.5 259v4M783.5 299v4M784.5 199v49M784.5 299v4M785.5 190v4M785.5 199v44M785.5 276v4M786.5 190v5M786.5 199v41M786.5 276v4M787.5 190v4M787.5 196v43M787.5 243v4M787.5 276v4M788.5 185v54M788.5 243v4M789.5 184v53M789.5 243v8M790.5 179v4M790.5 184v53M790.5 244v7M791.5 179v4M791.5 184v43M791.5 228v8M791.5 247v4M792.5 179v4M792.5 185v52M792.5 241v4M793.5 177v60M793.5 241v4M794.5 177v60M794.5 241v4M795.5 177v60M796.5 178v55M797.5 181v52M798.5 187v45M799.5 187v43M800.5 187v37M800.5 226v4M801.5 187v36M801.5 226v4M801.5 232v4M802.5 171v4M802.5 184v39M802.5 226v4M802.5 232v4M803.5 171v5M803.5 177v4M803.5 182v48M803.5 232v4M803.5 267v4M804.5 171v60M804.5 232v7M804.5 267v4M805.5 172v67M805.5 267v4M806.5 174v65M807.5 174v65M808.5 175v55M808.5 233v6M809.5 175v52M809.5 235v4M810.5 176v52M810.5 235v4M811.5 175v56M812.5 175v58M813.5 175v58M814.5 172v61M815.5 170v62M816.5 169v61M817.5 167v62M817.5 237v4M818.5 165v64M818.5 237v4M819.5 164v65M819.5 237v4M820.5 164v63M821.5 163v64M822.5 164v4M822.5 170v62M822.5 235v4M822.5 242v6M822.5 249v4M822.5 259v4M823.5 171v84M823.5 259v6M824.5 172v83M824.5 259v6M825.5 172v7M825.5 180v75M825.5 259v6M826.5 182v66M826.5 250v5M826.5 257v7M827.5 181v63M827.5 250v4M827.5 257v4M827.5 269v6M828.5 182v51M828.5 234v10M828.5 250v5M828.5 257v8M828.5 269v6M829.5 182v57M829.5 250v4M829.5 257v9M829.5 269v6M830.5 184v4M830.5 189v51M830.5 250v4M830.5 260v6M830.5 270v5M831.5 184v4M831.5 190v44M831.5 235v6M831.5 249v4M831.5 260v6M832.5 182v4M832.5 190v52M832.5 243v11M832.5 255v4M833.5 182v4M833.5 190v71M834.5 182v80M834.5 263v5M834.5 270v4M834.5 305v4M835.5 182v7M835.5 191v77M835.5 270v4M835.5 305v4M836.5 179v4M836.5 185v4M836.5 191v77M836.5 270v4M836.5 305v4M837.5 179v4M837.5 186v76M837.5 263v5M838.5 179v4M838.5 187v61M838.5 249v11M839.5 187v62M839.5 250v8M840.5 187v4M840.5 192v57M840.5 250v8M841.5 195v64M842.5 202v56M843.5 204v31M843.5 236v22M844.5 204v30M844.5 245v7M845.5 209v19M845.5 245v4M845.5 315v4M846.5 211v12M846.5 224v12M846.5 242v6M846.5 250v5M846.5 269v5M846.5 301v4M846.5 313v11M846.5 333v4M846.5 338v5M847.5 211v44M847.5 269v7M847.5 288v4M847.5 294v5M847.5 301v4M847.5 307v19M847.5 331v6M847.5 338v6M847.5 345v7M848.5 212v43M848.5 269v7M848.5 288v4M848.5 294v5M848.5 301v4M848.5 307v19M848.5 330v7M848.5 338v14M849.5 212v11M849.5 224v31M849.5 269v7M849.5 288v4M849.5 294v5M849.5 301v4M849.5 307v19M849.5 330v5M849.5 338v14M850.5 209v16M850.5 231v4M850.5 245v4M850.5 295v4M850.5 307v4M850.5 315v4M850.5 321v4M850.5 330v4M850.5 344v8M851.5 208v17M852.5 205v20M853.5 205v20M854.5 205v18M855.5 205v15M856.5 206v14M857.5 206v14M858.5 205v15M858.5 283v7M858.5 331v4M859.5 205v15M859.5 221v4M859.5 239v9M859.5 275v20M859.5 296v5M859.5 311v4M859.5 327v15M859.5 345v6M860.5 205v33M860.5 239v10M860.5 252v7M860.5 265v4M860.5 270v4M860.5 275v26M860.5 307v8M860.5 325v26M861.5 210v28M861.5 239v11M861.5 252v7M861.5 265v36M861.5 307v8M861.5 325v26M862.5 210v28M862.5 240v20M862.5 265v4M862.5 270v19M862.5 295v6M862.5 307v7M862.5 325v26M863.5 210v16M863.5 228v16M863.5 246v15M863.5 271v7M863.5 280v8M863.5 296v4M863.5 307v4M863.5 325v6M863.5 333v17M864.5 210v14M864.5 227v27M864.5 256v5M864.5 264v5M864.5 271v8M864.5 285v4M864.5 295v11M864.5 308v4M864.5 313v9M864.5 332v13M864.5 351v4M865.5 210v14M865.5 227v27M865.5 255v6M865.5 264v5M865.5 271v9M865.5 281v4M865.5 286v21M865.5 308v15M865.5 332v14M865.5 351v6M866.5 208v16M866.5 227v16M866.5 244v10M866.5 256v5M866.5 264v5M866.5 271v36M866.5 308v15M866.5 332v8M866.5 341v4M866.5 351v6M867.5 208v15M867.5 234v8M867.5 244v4M867.5 265v4M867.5 271v9M867.5 281v4M867.5 286v21M867.5 312v11M867.5 351v6M868.5 208v12M868.5 290v5M868.5 317v6M869.5 208v13M870.5 195v4M870.5 211v9M871.5 195v4M871.5 212v8M872.5 195v4M872.5 212v9M873.5 212v8M874.5 212v8M875.5 212v8M876.5 212v8M877.5 211v9M878.5 204v4M878.5 211v9M879.5 203v5M879.5 210v10M880.5 203v5M880.5 209v11M880.5 237v7M880.5 247v4M881.5 194v4M881.5 200v8M881.5 209v19M881.5 229v15M881.5 246v7M881.5 254v4M881.5 262v6M881.5 274v10M881.5 287v8M881.5 318v14M881.5 333v6M881.5 356v5M882.5 194v4M882.5 200v8M882.5 209v35M882.5 245v24M882.5 270v15M882.5 286v10M882.5 317v22M882.5 341v6M882.5 350v11M883.5 194v4M883.5 199v5M883.5 209v89M883.5 302v7M883.5 311v37M883.5 349v13M884.5 200v4M884.5 205v4M884.5 211v88M884.5 302v8M884.5 311v50M885.5 205v4M885.5 211v88M885.5 301v9M885.5 311v12M885.5 326v35M886.5 205v4M886.5 212v62M886.5 276v8M886.5 286v14M886.5 302v8M886.5 312v12M886.5 326v29M886.5 357v4M887.5 212v62M887.5 276v32M887.5 312v35M888.5 212v11M888.5 224v45M888.5 271v4M888.5 278v30M888.5 311v35M889.5 210v66M889.5 278v68M890.5 209v36M890.5 246v24M890.5 271v5M890.5 279v67M890.5 355v4M891.5 200v4M891.5 209v21M891.5 231v14M891.5 248v29M891.5 279v4M891.5 284v42M891.5 328v8M891.5 339v7M891.5 354v6M892.5 200v5M892.5 209v21M892.5 232v46M892.5 284v36M892.5 321v6M892.5 329v6M892.5 338v7M892.5 355v6M893.5 200v5M893.5 209v20M893.5 236v43M893.5 284v30M893.5 317v4M893.5 322v6M893.5 329v6M893.5 337v6M893.5 354v7M894.5 201v4M894.5 212v16M894.5 236v22M894.5 259v20M894.5 284v29M894.5 317v4M894.5 322v6M894.5 330v5M894.5 337v5M894.5 346v4M894.5 355v6M895.5 211v16M895.5 237v21M895.5 261v4M895.5 266v5M895.5 274v5M895.5 286v27M895.5 317v4M895.5 322v6M895.5 330v5M895.5 337v5M895.5 346v4M895.5 355v6M896.5 211v15M896.5 245v12M896.5 266v4M896.5 288v10M896.5 301v10M896.5 317v4M896.5 322v4M896.5 331v4M896.5 337v5M896.5 346v4M897.5 211v9M898.5 211v9M899.5 211v9M899.5 223v9M899.5 234v11M899.5 247v8M899.5 258v7M899.5 270v4M899.5 288v6M899.5 340v4M900.5 211v46M900.5 258v7M900.5 269v6M900.5 278v7M900.5 287v8M900.5 305v13M900.5 320v5M900.5 333v5M900.5 339v7M901.5 212v45M901.5 258v18M901.5 277v8M901.5 286v10M901.5 298v4M901.5 305v14M901.5 320v5M901.5 329v18M902.5 212v46M902.5 259v17M902.5 277v8M902.5 286v11M902.5 298v4M902.5 305v42M903.5 211v14M903.5 227v31M903.5 260v5M903.5 266v10M903.5 277v8M903.5 286v11M903.5 298v4M903.5 305v8M903.5 315v18M903.5 335v5M903.5 341v6M904.5 211v14M904.5 227v10M904.5 238v19M904.5 260v4M904.5 266v5M904.5 272v4M904.5 278v5M904.5 286v11M904.5 306v6M904.5 314v6M904.5 325v8M904.5 336v4M905.5 200v4M905.5 211v36M905.5 248v16M905.5 267v4M905.5 279v4M905.5 285v11M905.5 305v6M905.5 313v19M905.5 337v5M906.5 200v4M906.5 211v53M906.5 265v11M906.5 280v17M906.5 301v9M906.5 311v23M906.5 335v11M907.5 200v4M907.5 212v87M907.5 301v45M908.5 206v4M908.5 212v134M909.5 206v4M909.5 212v133M910.5 206v4M910.5 211v135M911.5 207v30M911.5 243v20M911.5 269v17M911.5 287v5M911.5 297v19M911.5 320v6M911.5 328v10M911.5 339v6M912.5 206v22M912.5 269v4M912.5 300v6M913.5 207v13M913.5 222v4M914.5 207v13M915.5 211v10M915.5 226v25M915.5 254v15M915.5 271v14M915.5 297v4M915.5 307v7M915.5 315v12M916.5 210v76M916.5 287v15M916.5 303v24M917.5 200v4M917.5 210v76M917.5 287v40M918.5 200v4M918.5 210v76M918.5 287v35M919.5 200v4M919.5 210v51M919.5 264v9M919.5 274v5M919.5 280v5M919.5 288v27M919.5 316v4M920.5 211v10M920.5 228v4M920.5 236v5M920.5 248v4M920.5 268v4M920.5 291v8M920.5 303v7M921.5 205v5M921.5 211v9M922.5 204v6M922.5 211v10M922.5 243v4M923.5 201v9M923.5 211v16M923.5 243v6M924.5 201v7M924.5 211v21M924.5 234v17M925.5 201v4M925.5 211v21M925.5 233v18M926.5 201v4M926.5 211v41M927.5 211v41M928.5 211v45M929.5 200v4M929.5 211v47M930.5 200v4M930.5 211v52M931.5 200v4M931.5 211v52M932.5 205v61M933.5 205v62M934.5 205v62M935.5 206v61M936.5 209v50M936.5 260v7M937.5 210v49M937.5 261v7M938.5 209v69M939.5 210v72M939.5 290v14M940.5 210v74M940.5 287v25M941.5 213v99M941.5 318v4M942.5 215v98M942.5 318v4M943.5 217v105M944.5 217v105M945.5 211v5M945.5 217v105M945.5 323v4M946.5 211v116M947.5 202v4M947.5 207v107M947.5 315v12M947.5 333v4M948.5 202v4M948.5 207v120M948.5 332v6M949.5 202v4M949.5 207v4M949.5 213v115M949.5 332v14M950.5 200v5M950.5 207v4M950.5 213v133M951.5 190v4M951.5 197v8M951.5 208v5M951.5 214v132M951.5 356v4M952.5 190v4M952.5 197v149M952.5 356v4M953.5 190v4M953.5 197v141M953.5 356v4M953.5 370v4M954.5 190v4M954.5 197v137M954.5 370v4M955.5 191v4M955.5 200v134M955.5 370v4M956.5 186v4M956.5 191v4M956.5 199v6M956.5 211v122M956.5 339v4M957.5 186v4M957.5 191v4M957.5 198v7M957.5 211v122M957.5 339v5M957.5 353v4M958.5 186v4M958.5 198v7M958.5 210v123M958.5 339v5M958.5 353v5M959.5 198v7M959.5 210v122M959.5 340v4M959.5 353v5M960.5 198v7M960.5 210v125M960.5 340v4M960.5 354v7M961.5 210v117M961.5 329v8M961.5 340v4M961.5 358v4M961.5 384v4M962.5 189v4M962.5 207v121M962.5 330v7M962.5 340v4M962.5 358v4M962.5 384v4M963.5 189v4M963.5 206v12M963.5 219v109M963.5 330v7M963.5 340v4M963.5 358v4M963.5 384v4M964.5 189v4M964.5 206v11M964.5 218v110M964.5 330v7M964.5 341v4M965.5 206v10M965.5 218v109M965.5 330v4M965.5 340v5M965.5 349v4M966.5 207v117M966.5 329v5M966.5 340v5M966.5 348v6M967.5 197v126M967.5 329v5M967.5 338v6M967.5 347v10M968.5 187v4M968.5 193v132M968.5 329v4M968.5 336v8M968.5 346v11M969.5 187v4M969.5 193v140M969.5 336v7M969.5 345v12M969.5 366v4M969.5 375v4M970.5 187v4M970.5 193v138M970.5 335v8M970.5 345v12M970.5 366v4M970.5 375v4M971.5 187v4M971.5 193v138M971.5 335v8M971.5 345v13M971.5 366v4M971.5 375v4M972.5 187v4M972.5 194v137M972.5 334v9M972.5 345v12M973.5 187v129M973.5 324v18M973.5 345v12M974.5 166v4M974.5 182v4M974.5 187v129M974.5 323v18M974.5 349v6M975.5 166v4M975.5 182v5M975.5 190v13M975.5 204v113M975.5 321v18M975.5 349v9M976.5 166v4M976.5 182v5M976.5 190v128M976.5 320v18M976.5 352v6M977.5 182v5M977.5 192v126M977.5 319v18M977.5 352v7M978.5 192v136M978.5 329v7M978.5 352v7M979.5 192v136M979.5 331v4M979.5 338v4M979.5 352v7M979.5 384v4M980.5 192v136M980.5 336v6M980.5 347v4M980.5 352v7M980.5 384v4M981.5 193v139M981.5 335v7M981.5 347v4M981.5 352v7M981.5 384v4M982.5 198v11M982.5 210v122M982.5 334v9M982.5 347v4M982.5 353v5M983.5 183v4M983.5 198v10M983.5 212v120M983.5 333v12M983.5 353v4M984.5 183v5M984.5 198v4M984.5 209v136M984.5 361v4M984.5 393v4M985.5 183v5M985.5 208v8M985.5 217v133M985.5 361v4M985.5 393v4M986.5 184v4M986.5 202v14M986.5 217v107M986.5 327v23M986.5 351v4M986.5 361v4M986.5 393v4M987.5 184v4M987.5 190v5M987.5 197v127M987.5 329v6M987.5 336v14M987.5 351v4M988.5 185v142M988.5 329v6M988.5 343v5M988.5 351v4M989.5 188v139M989.5 331v7M989.5 343v5M990.5 174v4M990.5 188v139M990.5 331v9M990.5 376v4M991.5 174v4M991.5 189v138M991.5 329v12M991.5 376v4M992.5 170v8M992.5 190v136M992.5 327v14M992.5 376v4M993.5 170v7M993.5 191v6M993.5 200v133M993.5 334v8M993.5 363v4M994.5 170v4M994.5 192v5M994.5 200v142M994.5 363v4M995.5 192v139M995.5 333v10M995.5 363v4M996.5 183v7M996.5 191v140M996.5 333v10M996.5 364v4M997.5 183v160M997.5 344v4M997.5 364v4M998.5 182v144M998.5 327v9M998.5 337v5M998.5 343v5M998.5 364v4M999.5 183v4M999.5 188v137M999.5 331v4M999.5 336v5M999.5 343v5M999.5 364v4M1000.5 182v144M1000.5 329v6M1000.5 337v4M1000.5 343v4M1001.5 182v151M1001.5 376v4M1001.5 383v4M1002.5 182v19M1002.5 202v131M1002.5 348v4M1002.5 376v4M1002.5 383v4M1003.5 176v4M1003.5 183v136M1003.5 321v12M1003.5 336v4M1003.5 348v4M1003.5 355v4M1003.5 376v4M1003.5 383v4M1004.5 176v4M1004.5 183v135M1004.5 321v12M1004.5 336v4M1004.5 346v6M1004.5 355v4M1005.5 176v4M1005.5 184v134M1005.5 322v11M1005.5 336v4M1005.5 346v5M1005.5 355v4M1006.5 186v133M1006.5 322v6M1006.5 329v4M1006.5 346v4M1007.5 186v133M1007.5 320v8M1008.5 186v151M1009.5 180v4M1009.5 186v151M1009.5 341v4M1009.5 382v4M1010.5 180v4M1010.5 186v6M1010.5 193v144M1010.5 339v6M1010.5 350v4M1010.5 382v4M1011.5 180v4M1011.5 186v4M1011.5 194v138M1011.5 339v7M1011.5 350v4M1011.5 356v4M1011.5 382v4M1011.5 411v4M1012.5 194v138M1012.5 339v6M1012.5 350v4M1012.5 356v4M1012.5 411v4M1013.5 186v4M1013.5 194v140M1013.5 339v6M1013.5 356v4M1013.5 411v4M1014.5 186v7M1014.5 194v7M1014.5 203v131M1014.5 356v4M1015.5 186v15M1015.5 204v121M1015.5 326v8M1015.5 356v4M1016.5 186v8M1016.5 196v7M1016.5 205v121M1016.5 327v6M1016.5 356v4M1017.5 178v4M1017.5 187v7M1017.5 196v7M1017.5 204v104M1017.5 310v6M1017.5 317v9M1018.5 178v4M1018.5 187v17M1018.5 205v110M1018.5 317v9M1018.5 333v4M1018.5 347v4M1019.5 178v4M1019.5 187v16M1019.5 205v110M1019.5 316v9M1019.5 333v4M1019.5 347v4M1019.5 369v4M1020.5 186v5M1020.5 192v5M1020.5 199v123M1020.5 333v4M1020.5 347v4M1020.5 360v4M1020.5 369v4M1021.5 186v5M1021.5 192v5M1021.5 199v116M1021.5 316v5M1021.5 352v4M1021.5 360v4M1021.5 369v4M1022.5 155v4M1022.5 180v4M1022.5 186v4M1022.5 193v5M1022.5 199v111M1022.5 311v4M1022.5 316v5M1022.5 352v4M1022.5 360v4M1023.5 155v4M1023.5 180v5M1023.5 186v4M1023.5 192v5M1023.5 198v118M1023.5 317v5M1023.5 352v4M1024.5 155v4M1024.5 180v130M1024.5 311v4M1024.5 317v6M1024.5 371v4M1025.5 180v143M1025.5 371v4M1026.5 182v4M1026.5 189v135M1026.5 371v4M1027.5 176v4M1027.5 189v135M1028.5 176v4M1028.5 189v137M1028.5 348v4M1028.5 365v4M1029.5 158v4M1029.5 176v5M1029.5 188v110M1029.5 299v31M1029.5 336v4M1029.5 347v5M1029.5 365v4M1030.5 158v4M1030.5 176v5M1030.5 188v131M1030.5 322v8M1030.5 336v4M1030.5 348v4M1030.5 365v4M1031.5 158v4M1031.5 166v4M1031.5 177v4M1031.5 188v131M1031.5 322v9M1031.5 336v4M1031.5 348v4M1031.5 364v5M1032.5 166v4M1032.5 177v6M1032.5 188v142M1032.5 336v4M1032.5 348v4M1032.5 364v4M1033.5 166v4M1033.5 179v4M1033.5 186v147M1033.5 334v6M1033.5 348v4M1033.5 364v4M1034.5 179v5M1034.5 186v5M1034.5 192v118M1034.5 311v29M1035.5 179v12M1035.5 192v148M1035.5 368v4M1035.5 403v4M1036.5 166v4M1036.5 181v159M1036.5 368v4M1036.5 403v4M1037.5 166v4M1037.5 174v4M1037.5 181v159M1037.5 368v4M1037.5 403v4M1038.5 166v4M1038.5 174v4M1038.5 185v140M1039.5 174v4M1039.5 187v119M1039.5 311v13M1040.5 187v119M1040.5 307v16M1041.5 191v131M1041.5 332v4M1042.5 197v125M1042.5 327v9M1043.5 199v122M1043.5 327v9M1043.5 393v4M1044.5 200v116M1044.5 326v12M1044.5 343v4M1044.5 393v4M1045.5 201v116M1045.5 321v17M1045.5 343v5M1045.5 349v5M1045.5 393v4M1046.5 194v6M1046.5 201v137M1046.5 343v11M1046.5 371v4M1047.5 194v144M1047.5 345v9M1047.5 371v4M1048.5 194v145M1048.5 345v8M1048.5 371v4M1049.5 148v4M1049.5 195v130M1049.5 327v17M1049.5 345v8M1050.5 148v4M1050.5 186v7M1050.5 200v125M1050.5 328v16M1050.5 347v6M1051.5 148v4M1051.5 186v8M1051.5 197v130M1051.5 329v15M1051.5 347v6M1051.5 358v4M1052.5 186v8M1052.5 196v131M1052.5 329v5M1052.5 337v7M1052.5 348v5M1052.5 358v4M1053.5 170v4M1053.5 176v4M1053.5 190v4M1053.5 196v131M1053.5 329v5M1053.5 358v4M1054.5 161v4M1054.5 170v4M1054.5 176v5M1054.5 191v136M1054.5 329v5M1055.5 161v4M1055.5 170v4M1055.5 176v5M1055.5 190v6M1055.5 198v123M1055.5 330v5M1055.5 336v4M1056.5 161v4M1056.5 177v4M1056.5 190v6M1056.5 198v124M1056.5 330v10M1057.5 177v4M1057.5 190v6M1057.5 201v123M1057.5 331v9M1057.5 348v4M1058.5 191v134M1058.5 332v8M1058.5 348v4M1058.5 363v4M1059.5 192v125M1059.5 318v7M1059.5 332v9M1059.5 348v4M1059.5 363v4M1059.5 375v4M1060.5 190v139M1060.5 332v9M1060.5 363v4M1060.5 375v4M1061.5 190v139M1061.5 332v9M1061.5 375v4M1062.5 181v4M1062.5 189v132M1062.5 325v4M1062.5 333v6M1063.5 181v4M1063.5 190v129M1063.5 325v4M1063.5 333v6M1064.5 180v5M1064.5 189v129M1064.5 334v4M1065.5 181v4M1065.5 189v112M1065.5 302v5M1065.5 309v7M1066.5 181v4M1066.5 189v111M1066.5 303v4M1066.5 310v5M1066.5 316v4M1066.5 378v4M1067.5 190v109M1067.5 303v4M1067.5 316v5M1067.5 360v4M1067.5 378v4M1068.5 177v4M1068.5 190v121M1068.5 316v5M1068.5 360v4M1068.5 378v4M1069.5 177v4M1069.5 194v118M1069.5 317v5M1069.5 360v4M1070.5 177v4M1070.5 190v122M1070.5 317v11M1070.5 333v4M1071.5 184v4M1071.5 190v7M1071.5 199v113M1071.5 317v11M1071.5 333v4M1072.5 183v5M1072.5 189v16M1072.5 206v107M1072.5 317v14M1072.5 333v4M1073.5 183v130M1073.5 319v18M1074.5 183v133M1074.5 324v14M1074.5 342v7M1075.5 183v15M1075.5 199v118M1075.5 328v11M1075.5 342v7M1076.5 186v8M1076.5 199v122M1076.5 327v4M1076.5 332v7M1076.5 342v7M1077.5 187v7M1077.5 202v119M1077.5 322v9M1077.5 333v6M1077.5 342v7M1078.5 180v4M1078.5 187v7M1078.5 198v133M1078.5 333v4M1078.5 342v6M1078.5 357v4M1079.5 180v4M1079.5 198v134M1079.5 342v5M1079.5 353v8M1080.5 180v4M1080.5 197v136M1080.5 339v7M1080.5 353v8M1081.5 198v136M1081.5 338v8M1081.5 352v8M1082.5 198v148M1082.5 349v8M1082.5 366v4M1082.5 371v4M1082.5 412v6M1083.5 191v4M1083.5 196v151M1083.5 349v9M1083.5 366v9M1083.5 412v6M1084.5 191v155M1084.5 349v12M1084.5 366v4M1084.5 371v4M1084.5 412v6M1085.5 191v11M1085.5 203v144M1085.5 348v4M1085.5 354v7M1086.5 191v10M1086.5 205v148M1086.5 354v7M1087.5 190v9M1087.5 210v143M1087.5 356v5M1087.5 367v4M1087.5 383v4M1087.5 407v4M1087.5 419v4M1088.5 189v7M1088.5 209v145M1088.5 367v6M1088.5 381v6M1088.5 407v4M1088.5 419v4M1089.5 188v6M1089.5 209v147M1089.5 367v6M1089.5 381v9M1089.5 407v4M1089.5 419v4M1090.5 188v4M1090.5 209v148M1090.5 369v4M1090.5 381v4M1090.5 387v4M1091.5 188v4M1091.5 195v15M1091.5 211v147M1091.5 369v4M1091.5 375v4M1091.5 387v4M1092.5 195v144M1092.5 344v15M1092.5 375v4M1092.5 387v4M1093.5 195v145M1093.5 345v14M1093.5 375v4M1094.5 181v4M1094.5 195v145M1094.5 347v12M1095.5 181v10M1095.5 201v142M1095.5 347v10M1095.5 378v4M1096.5 181v10M1096.5 193v4M1096.5 201v144M1096.5 346v8M1096.5 368v4M1096.5 378v4M1097.5 181v10M1097.5 193v4M1097.5 202v143M1097.5 347v4M1097.5 368v4M1097.5 378v4M1098.5 181v7M1098.5 193v4M1098.5 202v143M1098.5 347v4M1098.5 368v4M1098.5 379v6M1099.5 181v6M1099.5 201v108M1099.5 310v34M1099.5 347v4M1099.5 381v4M1100.5 181v5M1100.5 188v4M1100.5 194v4M1100.5 201v108M1100.5 311v22M1100.5 338v5M1100.5 347v4M1100.5 381v4M1101.5 188v4M1101.5 194v116M1101.5 311v21M1101.5 339v5M1101.5 352v4M1102.5 188v4M1102.5 194v139M1102.5 338v5M1102.5 352v5M1102.5 396v4M1103.5 194v138M1103.5 338v5M1103.5 345v4M1103.5 352v4M1103.5 396v4M1104.5 193v132M1104.5 326v6M1104.5 338v5M1104.5 345v4M1104.5 350v7M1104.5 365v4M1104.5 396v4M1105.5 192v141M1105.5 338v11M1105.5 350v8M1105.5 365v4M1106.5 181v4M1106.5 192v141M1106.5 339v9M1106.5 350v8M1106.5 362v7M1107.5 172v4M1107.5 181v4M1107.5 191v146M1107.5 339v6M1107.5 350v8M1107.5 362v6M1108.5 172v4M1108.5 181v4M1108.5 191v5M1108.5 198v12M1108.5 211v134M1108.5 362v4M1109.5 172v4M1109.5 191v4M1109.5 197v13M1109.5 211v132M1109.5 350v4M1109.5 362v4M1110.5 172v4M1110.5 198v145M1110.5 346v8M1110.5 361v4M1111.5 198v7M1111.5 206v135M1111.5 346v8M1111.5 361v4M1112.5 206v134M1112.5 345v8M1112.5 361v4M1112.5 375v6M1113.5 206v134M1113.5 345v5M1113.5 361v4M1113.5 371v11M1114.5 206v134M1114.5 341v8M1114.5 354v5M1114.5 360v4M1114.5 371v11M1115.5 187v4M1115.5 193v4M1115.5 201v145M1115.5 353v6M1115.5 360v4M1115.5 371v11M1115.5 395v4M1116.5 187v4M1116.5 193v4M1116.5 201v9M1116.5 211v128M1116.5 340v6M1116.5 353v6M1116.5 360v4M1116.5 371v4M1116.5 395v4M1117.5 183v8M1117.5 193v4M1117.5 201v144M1117.5 353v5M1117.5 359v5M1117.5 395v4M1118.5 183v7M1118.5 193v5M1118.5 201v145M1118.5 359v4M1119.5 183v4M1119.5 192v156M1119.5 359v4M1119.5 408v4M1120.5 183v4M1120.5 189v161M1120.5 408v4M1121.5 189v161M1121.5 408v4M1122.5 188v151M1122.5 344v6M1123.5 188v7M1123.5 199v142M1124.5 188v8M1124.5 201v140M1124.5 392v4M1125.5 189v9M1125.5 204v137M1125.5 392v4M1126.5 188v13M1126.5 205v112M1126.5 318v22M1126.5 392v4M1127.5 188v13M1127.5 204v112M1127.5 317v12M1127.5 331v4M1128.5 188v147M1128.5 342v4M1128.5 351v4M1128.5 374v4M1129.5 170v4M1129.5 189v146M1129.5 342v4M1129.5 351v4M1129.5 372v6M1130.5 170v4M1130.5 180v4M1130.5 192v142M1130.5 342v4M1130.5 351v4M1130.5 372v6M1131.5 170v4M1131.5 180v5M1131.5 193v139M1131.5 342v4M1131.5 354v4M1131.5 372v4M1132.5 180v8M1132.5 193v139M1132.5 354v4M1133.5 141v4M1133.5 183v5M1133.5 189v139M1133.5 329v8M1133.5 354v4M1134.5 141v4M1134.5 184v144M1134.5 329v8M1135.5 141v4M1135.5 159v4M1135.5 184v144M1135.5 329v8M1136.5 159v8M1136.5 182v147M1136.5 330v5M1136.5 337v4M1136.5 352v4M1137.5 159v8M1137.5 182v138M1137.5 321v14M1137.5 337v4M1137.5 352v4M1138.5 160v7M1138.5 180v6M1138.5 187v148M1138.5 337v4M1138.5 342v5M1138.5 352v8M1139.5 179v7M1139.5 188v147M1139.5 342v6M1139.5 352v10M1140.5 167v4M1140.5 179v4M1140.5 189v145M1140.5 341v8M1140.5 352v10M1141.5 167v4M1141.5 179v4M1141.5 190v144M1141.5 338v11M1141.5 352v10M1142.5 167v4M1142.5 190v136M1142.5 327v5M1142.5 338v19M1142.5 358v4M1143.5 189v137M1143.5 327v4M1143.5 338v15M1144.5 174v5M1144.5 180v136M1144.5 320v7M1144.5 338v15M1145.5 173v142M1145.5 320v7M1145.5 346v7M1146.5 172v7M1146.5 180v135M1146.5 319v9M1146.5 346v7M1147.5 170v8M1147.5 181v146M1147.5 349v4M1148.5 169v9M1148.5 181v132M1148.5 314v15M1148.5 366v4M1149.5 169v10M1149.5 180v149M1149.5 366v4M1150.5 140v4M1150.5 169v4M1150.5 175v155M1150.5 339v4M1150.5 352v4M1150.5 366v4M1151.5 140v4M1151.5 168v4M1151.5 175v155M1151.5 338v5M1151.5 350v6M1151.5 368v4M1152.5 140v4M1152.5 168v4M1152.5 179v4M1152.5 185v145M1152.5 338v8M1152.5 347v9M1152.5 368v4M1153.5 168v4M1153.5 179v4M1153.5 185v146M1153.5 333v23M1153.5 364v8M1153.5 387v4M1154.5 168v4M1154.5 185v145M1154.5 331v25M1154.5 364v7M1154.5 387v4M1155.5 189v170M1155.5 364v4M1155.5 387v4M1156.5 189v5M1156.5 200v159M1156.5 362v5M1157.5 189v4M1157.5 201v139M1157.5 341v9M1157.5 351v9M1157.5 361v5M1158.5 200v168M1159.5 200v146M1159.5 350v6M1159.5 357v11M1160.5 200v146M1160.5 350v6M1160.5 358v4M1160.5 363v5M1160.5 390v4M1161.5 188v4M1161.5 200v146M1161.5 350v6M1161.5 364v4M1161.5 390v4M1161.5 407v4M1162.5 176v4M1162.5 187v5M1162.5 195v152M1162.5 351v5M1162.5 366v4M1162.5 390v4M1162.5 407v4M1163.5 176v4M1163.5 187v5M1163.5 195v153M1163.5 351v6M1163.5 365v5M1163.5 407v4M1164.5 176v4M1164.5 187v5M1164.5 195v7M1164.5 204v4M1164.5 209v140M1164.5 350v11M1164.5 364v6M1165.5 187v4M1165.5 195v7M1165.5 203v4M1165.5 210v152M1165.5 364v6M1166.5 203v4M1166.5 211v151M1166.5 364v6M1167.5 198v4M1167.5 203v4M1167.5 210v142M1167.5 353v10M1167.5 388v4M1167.5 395v4M1168.5 183v4M1168.5 198v5M1168.5 204v159M1168.5 388v4M1168.5 395v4M1169.5 183v4M1169.5 198v5M1169.5 205v158M1169.5 366v4M1169.5 371v4M1169.5 388v4M1169.5 395v4M1170.5 183v4M1170.5 196v7M1170.5 204v159M1170.5 366v4M1170.5 371v4M1171.5 195v168M1171.5 366v4M1171.5 371v4M1172.5 195v5M1172.5 203v142M1172.5 351v10M1173.5 189v4M1173.5 195v4M1173.5 203v141M1173.5 350v6M1174.5 189v4M1174.5 194v4M1174.5 203v131M1174.5 336v6M1174.5 349v8M1174.5 361v4M1175.5 189v4M1175.5 194v4M1175.5 207v110M1175.5 319v14M1175.5 338v4M1175.5 349v8M1175.5 361v4M1176.5 194v4M1176.5 208v109M1176.5 319v11M1176.5 331v4M1176.5 349v9M1176.5 361v4M1177.5 194v4M1177.5 200v4M1177.5 208v109M1177.5 319v16M1177.5 349v8M1178.5 200v4M1178.5 208v109M1178.5 319v6M1178.5 326v9M1178.5 344v4M1178.5 353v5M1179.5 199v5M1179.5 209v107M1179.5 319v6M1179.5 327v11M1179.5 340v8M1179.5 354v4M1180.5 199v5M1180.5 208v108M1180.5 318v30M1180.5 354v4M1181.5 199v4M1181.5 208v109M1181.5 318v29M1181.5 354v4M1181.5 363v4M1182.5 187v4M1182.5 199v148M1182.5 352v4M1182.5 363v4M1183.5 187v4M1183.5 199v4M1183.5 204v144M1183.5 352v4M1183.5 363v7M1184.5 187v4M1184.5 194v4M1184.5 204v4M1184.5 212v135M1184.5 352v4M1184.5 363v7M1185.5 194v4M1185.5 205v137M1185.5 343v4M1185.5 352v4M1185.5 366v4M1186.5 193v5M1186.5 206v141M1186.5 366v4M1187.5 191v6M1187.5 198v4M1187.5 205v144M1188.5 191v6M1188.5 198v4M1188.5 205v138M1188.5 344v7M1188.5 352v4M1188.5 375v4M1188.5 405v4M1189.5 191v11M1189.5 205v146M1189.5 352v8M1189.5 375v4M1189.5 405v4M1190.5 192v6M1190.5 205v146M1190.5 352v8M1190.5 371v8M1190.5 405v4M1191.5 194v4M1191.5 205v146M1191.5 352v8M1191.5 371v8M1191.5 390v5M1191.5 407v4M1192.5 205v7M1192.5 214v146M1192.5 370v8M1192.5 381v4M1192.5 390v5M1192.5 407v4M1193.5 178v4M1193.5 204v159M1193.5 368v10M1193.5 381v4M1193.5 390v5M1193.5 407v4M1194.5 178v4M1194.5 204v151M1194.5 359v5M1194.5 368v10M1194.5 381v4M1194.5 407v4M1195.5 178v4M1195.5 197v4M1195.5 204v151M1195.5 359v8M1195.5 368v4M1195.5 379v4M1196.5 197v5M1196.5 204v138M1196.5 360v7M1196.5 379v4M1196.5 386v4M1197.5 191v4M1197.5 197v145M1197.5 363v4M1197.5 379v4M1197.5 386v4M1197.5 401v4M1198.5 190v138M1198.5 329v14M1198.5 379v4M1198.5 386v4M1198.5 401v4M1199.5 190v147M1199.5 338v8M1199.5 354v4M1199.5 401v4M1200.5 190v147M1200.5 342v5M1200.5 353v6M1201.5 192v6M1201.5 200v11M1201.5 212v123M1201.5 342v8M1201.5 353v6M1202.5 193v5M1202.5 199v5M1202.5 207v128M1202.5 342v9M1202.5 353v6M1202.5 399v8M1203.5 170v4M1203.5 192v5M1203.5 200v4M1203.5 208v128M1203.5 341v10M1203.5 353v6M1203.5 399v8M1204.5 169v5M1204.5 187v10M1204.5 207v131M1204.5 341v10M1204.5 354v4M1204.5 361v4M1204.5 399v8M1205.5 170v4M1205.5 187v7M1205.5 208v142M1205.5 352v13M1205.5 403v4M1206.5 170v4M1206.5 187v7M1206.5 204v128M1206.5 333v18M1206.5 352v14M1206.5 370v4M1207.5 170v4M1207.5 187v7M1207.5 204v128M1207.5 333v33M1207.5 369v5M1208.5 180v4M1208.5 204v128M1208.5 333v17M1208.5 352v22M1209.5 180v4M1209.5 203v10M1209.5 214v118M1209.5 333v17M1209.5 352v9M1209.5 362v11M1209.5 374v4M1209.5 398v4M1210.5 180v4M1210.5 191v4M1210.5 201v160M1210.5 367v6M1210.5 374v4M1210.5 398v4M1211.5 191v6M1211.5 201v143M1211.5 345v14M1211.5 367v4M1211.5 374v4M1211.5 398v4M1212.5 191v7M1212.5 201v141M1212.5 345v14M1213.5 193v5M1213.5 201v140M1213.5 346v14M1214.5 194v4M1214.5 205v136M1214.5 346v14M1215.5 203v138M1215.5 347v16M1216.5 203v139M1216.5 347v11M1216.5 359v4M1216.5 391v4M1217.5 187v4M1217.5 203v11M1217.5 216v126M1217.5 347v8M1217.5 359v4M1217.5 370v4M1217.5 388v7M1218.5 187v4M1218.5 203v140M1218.5 347v6M1218.5 359v4M1218.5 370v4M1218.5 388v7M1219.5 187v4M1219.5 204v138M1219.5 347v6M1219.5 370v4M1219.5 388v4M1220.5 181v4M1220.5 194v4M1220.5 203v146M1221.5 181v4M1221.5 194v4M1221.5 203v146M1221.5 449v4M1222.5 181v4M1222.5 194v7M1222.5 203v147M1222.5 449v4M1223.5 187v4M1223.5 194v14M1223.5 209v140M1223.5 364v4M1223.5 397v4M1223.5 449v4M1224.5 187v4M1224.5 193v13M1224.5 208v142M1224.5 364v4M1224.5 388v4M1224.5 397v4M1225.5 187v4M1225.5 193v13M1225.5 207v129M1225.5 338v12M1225.5 364v4M1225.5 388v5M1225.5 397v4M1226.5 169v4M1226.5 193v7M1226.5 202v132M1226.5 339v12M1226.5 388v5M1227.5 169v4M1227.5 192v8M1227.5 202v127M1227.5 338v18M1227.5 358v4M1227.5 389v4M1228.5 169v4M1228.5 191v10M1228.5 202v126M1228.5 335v21M1228.5 357v5M1228.5 439v4M1229.5 171v4M1229.5 191v9M1229.5 203v125M1229.5 329v4M1229.5 335v21M1229.5 357v5M1229.5 388v4M1229.5 439v4M1230.5 172v4M1230.5 181v4M1230.5 191v9M1230.5 204v129M1230.5 334v21M1230.5 357v9M1230.5 371v4M1230.5 388v4M1230.5 439v4M1231.5 172v4M1231.5 181v4M1231.5 196v4M1231.5 203v130M1231.5 335v20M1231.5 356v5M1231.5 362v8M1231.5 371v4M1231.5 388v4M1232.5 172v4M1232.5 181v4M1232.5 197v136M1232.5 334v25M1232.5 362v8M1232.5 371v4M1232.5 435v4M1233.5 193v165M1233.5 362v8M1233.5 435v4M1233.5 441v4M1234.5 193v165M1234.5 362v4M1234.5 422v4M1234.5 435v4M1234.5 441v4M1235.5 173v4M1235.5 193v165M1235.5 362v4M1235.5 373v4M1235.5 422v4M1235.5 441v4M1236.5 173v4M1236.5 193v166M1236.5 360v6M1236.5 373v4M1236.5 422v4M1236.5 430v4M1237.5 173v4M1237.5 194v5M1237.5 204v140M1237.5 347v22M1237.5 373v4M1237.5 430v4M1238.5 195v4M1238.5 200v144M1238.5 347v24M1238.5 430v4M1239.5 187v4M1239.5 195v149M1239.5 351v20M1239.5 429v5M1240.5 187v4M1240.5 195v154M1240.5 352v19M1240.5 378v4M1240.5 430v4M1241.5 187v4M1241.5 198v173M1241.5 378v6M1242.5 198v174M1242.5 378v6M1242.5 386v4M1243.5 199v172M1243.5 380v4M1243.5 386v9M1243.5 401v6M1243.5 449v4M1244.5 204v168M1244.5 380v4M1244.5 385v10M1244.5 400v7M1244.5 449v4M1245.5 195v4M1245.5 203v170M1245.5 386v9M1245.5 400v7M1245.5 449v4M1246.5 194v5M1246.5 202v173M1246.5 382v7M1246.5 391v4M1246.5 400v5M1246.5 449v7M1247.5 194v5M1247.5 202v10M1247.5 213v162M1247.5 382v4M1247.5 421v4M1247.5 452v4M1248.5 194v5M1248.5 202v173M1248.5 380v6M1248.5 389v4M1248.5 421v4M1248.5 452v4M1249.5 204v161M1249.5 366v8M1249.5 380v7M1249.5 389v4M1249.5 421v4M1250.5 206v159M1250.5 368v4M1250.5 375v13M1250.5 389v4M1251.5 200v4M1251.5 205v159M1251.5 375v13M1252.5 200v162M1252.5 366v4M1252.5 375v4M1252.5 384v4M1253.5 200v161M1253.5 366v4M1254.5 185v6M1254.5 195v4M1254.5 200v162M1254.5 366v4M1255.5 180v4M1255.5 185v6M1255.5 194v5M1255.5 201v162M1255.5 367v7M1255.5 405v4M1256.5 180v4M1256.5 185v6M1256.5 193v136M1256.5 331v32M1256.5 370v4M1256.5 405v4M1257.5 180v4M1257.5 186v143M1257.5 331v32M1257.5 370v4M1257.5 405v4M1258.5 187v162M1258.5 351v12M1258.5 367v7M1258.5 382v5M1259.5 187v172M1259.5 367v5M1259.5 380v7M1259.5 410v4M1260.5 175v4M1260.5 187v17M1260.5 206v154M1260.5 366v6M1260.5 380v7M1260.5 410v4M1261.5 175v4M1261.5 181v4M1261.5 187v12M1261.5 200v155M1261.5 356v6M1261.5 364v9M1261.5 380v8M1261.5 410v4M1262.5 175v4M1262.5 181v4M1262.5 186v13M1262.5 200v129M1262.5 330v22M1262.5 356v7M1262.5 364v10M1262.5 386v4M1263.5 181v18M1263.5 200v128M1263.5 330v22M1263.5 356v7M1263.5 364v4M1263.5 369v5M1263.5 386v7M1264.5 180v4M1264.5 186v14M1264.5 201v127M1264.5 331v19M1264.5 356v7M1264.5 370v4M1264.5 386v7M1265.5 126v4M1265.5 132v6M1265.5 141v28M1265.5 170v6M1265.5 178v6M1265.5 185v15M1265.5 202v127M1265.5 333v17M1265.5 356v5M1265.5 386v7M1266.5 121v17M1266.5 140v61M1266.5 203v129M1266.5 335v6M1266.5 356v6M1267.5 121v219M1267.5 356v6M1268.5 84v5M1268.5 100v5M1268.5 106v10M1268.5 121v215M1268.5 350v4M1268.5 358v4M1269.5 57v4M1269.5 70v4M1269.5 78v4M1269.5 84v7M1269.5 92v4M1269.5 98v18M1269.5 122v190M1269.5 313v26M1269.5 350v4M1269.5 358v4M1269.5 441v4M1270.5 57v4M1270.5 70v4M1270.5 78v4M1270.5 84v7M1270.5 92v4M1270.5 98v18M1270.5 121v219M1270.5 350v4M1270.5 441v4M1271.5 57v4M1271.5 70v4M1271.5 78v4M1271.5 85v6M1271.5 92v4M1271.5 98v18M1271.5 122v202M1271.5 327v13M1271.5 345v4M1271.5 441v4M1272.5 104v4M1272.5 122v31M1272.5 154v170M1272.5 327v14M1272.5 345v5M1272.5 354v4M1273.5 124v28M1273.5 155v169M1273.5 327v24M1273.5 354v14M1274.5 125v26M1274.5 164v7M1274.5 172v8M1274.5 182v11M1274.5 195v5M1274.5 201v124M1274.5 326v25M1274.5 354v14M1275.5 126v9M1275.5 139v5M1275.5 188v5M1275.5 194v158M1275.5 355v13M1276.5 181v5M1276.5 188v163M1276.5 357v11M1276.5 389v4M1277.5 181v5M1277.5 188v164M1277.5 357v6M1277.5 389v4M1278.5 174v4M1278.5 181v158M1278.5 340v12M1278.5 357v5M1278.5 389v4M1279.5 174v5M1279.5 181v158M1279.5 340v12M1279.5 357v4M1279.5 374v4M1280.5 173v6M1280.5 185v167M1280.5 374v5M1281.5 174v5M1281.5 185v172M1281.5 364v4M1281.5 373v7M1282.5 104v4M1282.5 142v6M1282.5 151v5M1282.5 172v6M1282.5 183v4M1282.5 189v157M1282.5 347v10M1282.5 364v5M1282.5 373v8M1283.5 104v4M1283.5 115v5M1283.5 121v12M1283.5 135v28M1283.5 164v14M1283.5 181v6M1283.5 188v5M1283.5 194v139M1283.5 334v11M1283.5 348v10M1283.5 364v4M1283.5 373v8M1284.5 104v4M1284.5 115v64M1284.5 181v10M1284.5 193v141M1284.5 335v12M1284.5 348v21M1284.5 373v8M1285.5 115v64M1285.5 181v10M1285.5 193v176M1285.5 373v4M1285.5 384v4M1286.5 115v25M1286.5 143v20M1286.5 164v15M1286.5 181v5M1286.5 187v4M1286.5 193v158M1286.5 352v17M1286.5 373v4M1286.5 384v6M1287.5 131v6M1287.5 145v6M1287.5 155v4M1287.5 169v5M1287.5 193v8M1287.5 202v148M1287.5 352v12M1287.5 373v5M1287.5 384v10M1288.5 204v159M1288.5 373v5M1288.5 386v9M1289.5 214v155M1289.5 374v4M1289.5 379v4M1289.5 387v8M1289.5 400v4M1290.5 225v145M1290.5 372v11M1290.5 391v4M1290.5 400v5M1291.5 226v158M1291.5 400v5M1292.5 225v160M1292.5 386v4M1292.5 393v12M1292.5 422v4M1293.5 225v175M1293.5 402v4M1293.5 408v6M1293.5 418v8M1293.5 431v4M1293.5 449v4M1294.5 225v15M1294.5 241v165M1294.5 407v8M1294.5 418v8M1294.5 431v5M1294.5 449v4M1295.5 225v33M1295.5 260v154M1295.5 418v10M1295.5 431v5M1295.5 449v4M1296.5 224v4M1296.5 230v29M1296.5 260v154M1296.5 418v10M1296.5 431v5M1297.5 224v4M1297.5 234v25M1297.5 260v155M1297.5 418v10M1297.5 432v4M1298.5 224v4M1298.5 234v15M1298.5 251v8M1298.5 260v159M1298.5 420v8M1298.5 431v6M1299.5 234v7M1299.5 251v7M1299.5 260v165M1299.5 431v6M1300.5 235v9M1300.5 250v6M1300.5 260v153M1300.5 415v10M1300.5 431v6M1301.5 239v6M1301.5 251v6M1301.5 260v152M1301.5 416v8M1301.5 432v4M1302.5 239v6M1302.5 250v8M1302.5 260v147M1302.5 408v4M1302.5 419v4M1302.5 432v4M1303.5 231v4M1303.5 238v7M1303.5 249v10M1303.5 260v147M1303.5 411v12M1303.5 432v4M1304.5 231v12M1304.5 248v159M1304.5 411v12M1304.5 449v4M1305.5 231v11M1305.5 248v160M1305.5 411v11M1305.5 449v4M1306.5 226v4M1306.5 232v9M1306.5 248v161M1306.5 412v9M1306.5 425v5M1306.5 449v4M1306.5 465v4M1307.5 226v5M1307.5 232v10M1307.5 248v11M1307.5 260v160M1307.5 424v6M1307.5 442v4M1307.5 465v4M1308.5 226v17M1308.5 252v7M1308.5 262v158M1308.5 421v9M1308.5 442v4M1308.5 465v4M1309.5 228v15M1309.5 244v4M1309.5 252v7M1309.5 265v165M1309.5 442v4M1309.5 456v4M1310.5 228v15M1310.5 244v5M1310.5 253v11M1310.5 265v164M1310.5 456v4M1311.5 229v5M1311.5 236v7M1311.5 244v6M1311.5 253v162M1311.5 417v8M1311.5 456v4M1312.5 236v15M1312.5 252v163M1312.5 417v9M1313.5 217v4M1313.5 237v167M1313.5 405v11M1313.5 419v7M1314.5 217v4M1314.5 238v166M1314.5 407v11M1314.5 419v7M1315.5 217v4M1315.5 239v5M1315.5 246v159M1315.5 407v11M1315.5 419v7M1316.5 228v6M1316.5 239v4M1316.5 248v170M1316.5 421v5M1317.5 225v9M1317.5 249v4M1317.5 254v165M1317.5 422v5M1318.5 224v10M1318.5 249v4M1318.5 254v11M1318.5 266v160M1318.5 431v10M1319.5 224v8M1319.5 238v8M1319.5 249v13M1319.5 268v173M1320.5 224v7M1320.5 238v28M1320.5 267v175M1321.5 228v4M1321.5 238v18M1321.5 260v177M1321.5 438v4M1321.5 451v4M1322.5 229v4M1322.5 239v17M1322.5 260v166M1322.5 427v4M1322.5 438v4M1322.5 447v9M1323.5 229v4M1323.5 241v15M1323.5 260v166M1323.5 427v4M1323.5 447v9M1324.5 229v4M1324.5 240v16M1324.5 260v154M1324.5 422v9M1324.5 447v9M1325.5 229v4M1325.5 236v4M1325.5 241v16M1325.5 260v157M1325.5 422v10M1325.5 435v4M1325.5 452v4M1325.5 468v4M1326.5 229v5M1326.5 235v5M1326.5 241v16M1326.5 259v173M1326.5 435v4M1326.5 441v4M1326.5 468v4M1327.5 227v13M1327.5 241v191M1327.5 435v10M1327.5 468v4M1328.5 226v20M1328.5 247v181M1328.5 429v4M1328.5 434v11M1329.5 225v20M1329.5 247v191M1329.5 440v4M1329.5 455v4M1330.5 224v17M1330.5 247v13M1330.5 261v177M1330.5 455v4M1331.5 224v5M1331.5 230v6M1331.5 248v10M1331.5 262v166M1331.5 429v13M1331.5 455v4M1332.5 224v4M1332.5 248v10M1332.5 262v7M1332.5 270v145M1332.5 416v12M1332.5 430v12M1333.5 225v4M1333.5 234v4M1333.5 245v12M1333.5 262v7M1333.5 270v144M1333.5 416v7M1333.5 438v4M1334.5 225v13M1334.5 241v16M1334.5 258v17M1334.5 276v147M1335.5 225v24M1335.5 250v4M1335.5 258v162M1336.5 225v9M1336.5 238v11M1336.5 250v5M1336.5 258v162M1337.5 238v7M1337.5 249v7M1337.5 258v158M1338.5 238v6M1338.5 249v7M1338.5 261v155M1338.5 419v4M1339.5 227v4M1339.5 249v7M1339.5 261v164M1340.5 227v5M1340.5 248v6M1340.5 261v165M1340.5 432v6M1341.5 227v7M1341.5 241v11M1341.5 257v186M1342.5 222v4M1342.5 228v6M1342.5 240v12M1342.5 257v186M1343.5 222v4M1343.5 229v5M1343.5 236v16M1343.5 257v186M1344.5 222v4M1344.5 229v214M1345.5 230v13M1345.5 244v200M1345.5 449v4M1346.5 230v213M1346.5 448v5M1347.5 229v214M1347.5 448v5M1348.5 228v8M1348.5 239v11M1348.5 252v185M1348.5 438v5M1348.5 448v4M1349.5 226v6M1349.5 243v8M1349.5 253v183M1349.5 439v4M1349.5 448v4M1350.5 226v6M1350.5 247v187M1351.5 226v4M1351.5 246v180M1352.5 244v26M1352.5 271v148M1352.5 421v4M1353.5 244v25M1353.5 271v147M1354.5 190v4M1354.5 213v4M1354.5 237v20M1354.5 259v10M1354.5 271v116M1354.5 388v11M1354.5 402v14M1355.5 190v4M1355.5 199v4M1355.5 211v18M1355.5 231v27M1355.5 261v126M1355.5 391v7M1355.5 400v5M1355.5 407v8M1356.5 190v4M1356.5 199v4M1356.5 211v175M1356.5 392v6M1356.5 400v4M1356.5 407v8M1356.5 418v4M1357.5 199v4M1357.5 211v175M1357.5 388v5M1357.5 394v5M1357.5 400v4M1357.5 408v9M1357.5 418v4M1358.5 211v23M1358.5 235v151M1358.5 388v16M1358.5 408v16M1358.5 454v4M1359.5 211v22M1359.5 236v150M1359.5 387v31M1359.5 419v5M1359.5 454v4M1360.5 211v23M1360.5 235v128M1360.5 364v22M1360.5 387v31M1360.5 420v4M1360.5 437v4M1360.5 454v4M1361.5 211v24M1361.5 236v127M1361.5 365v13M1361.5 380v5M1361.5 387v29M1361.5 437v4M1362.5 212v23M1362.5 236v147M1362.5 387v4M1362.5 393v22M1362.5 418v4M1362.5 437v4M1363.5 212v171M1363.5 387v4M1363.5 394v21M1363.5 418v4M1364.5 212v11M1364.5 224v159M1364.5 386v4M1364.5 396v19M1364.5 418v4M1365.5 211v12M1365.5 224v149M1365.5 386v4M1365.5 402v13M1366.5 211v13M1366.5 225v124M1366.5 351v10M1366.5 365v8M1366.5 386v4M1366.5 404v4M1366.5 409v5M1367.5 202v4M1367.5 211v12M1367.5 225v98M1367.5 325v13M1367.5 339v7M1367.5 353v7M1367.5 368v5M1368.5 202v4M1368.5 210v13M1368.5 224v97M1368.5 325v18M1368.5 362v4M1369.5 202v4M1369.5 210v13M1369.5 224v97M1369.5 324v20M1369.5 362v4M1370.5 210v32M1370.5 243v78M1370.5 323v5M1370.5 329v9M1370.5 339v6M1370.5 362v4M1371.5 210v89M1371.5 300v8M1371.5 309v12M1371.5 323v14M1371.5 340v5M1372.5 211v95M1372.5 309v4M1372.5 315v6M1372.5 323v7M1372.5 332v4M1372.5 339v6M1373.5 211v22M1373.5 234v72M1373.5 315v6M1373.5 322v9M1373.5 338v7M1374.5 202v4M1374.5 211v22M1374.5 234v50M1374.5 285v23M1374.5 314v19M1374.5 338v6M1374.5 346v8M1375.5 202v4M1375.5 211v21M1375.5 234v78M1375.5 314v19M1375.5 338v17M1376.5 202v4M1376.5 210v20M1376.5 232v102M1376.5 338v16M1376.5 356v10M1376.5 372v16M1376.5 397v6M1377.5 211v18M1377.5 232v103M1377.5 336v18M1377.5 355v11M1377.5 372v19M1377.5 392v12M1377.5 407v4M1377.5 430v4M1378.5 211v19M1378.5 232v12M1378.5 245v146M1378.5 392v12M1378.5 407v4M1378.5 430v4M1378.5 442v4M1378.5 447v4M1379.5 212v18M1379.5 232v12M1379.5 246v145M1379.5 392v13M1379.5 407v4M1379.5 416v4M1379.5 430v4M1379.5 442v4M1379.5 447v4M1380.5 212v7M1380.5 225v5M1380.5 233v13M1380.5 247v144M1380.5 393v13M1380.5 416v5M1380.5 442v4M1380.5 447v4M1381.5 211v9M1381.5 225v5M1381.5 233v13M1381.5 252v139M1381.5 393v13M1381.5 416v7M1382.5 212v12M1382.5 225v7M1382.5 234v158M1382.5 394v13M1382.5 414v10M1383.5 212v26M1383.5 239v169M1383.5 414v10M1383.5 433v7M1384.5 212v196M1384.5 414v10M1384.5 433v7M1385.5 212v171M1385.5 384v25M1385.5 415v5M1385.5 433v7M1386.5 212v19M1386.5 234v4M1386.5 240v174M1386.5 416v4M1386.5 429v6M1387.5 211v19M1387.5 234v4M1387.5 239v170M1387.5 410v4M1387.5 429v6M1388.5 211v8M1388.5 221v9M1388.5 240v139M1388.5 381v11M1388.5 393v8M1388.5 404v5M1388.5 410v4M1388.5 427v8M1389.5 211v8M1389.5 221v5M1389.5 233v4M1389.5 238v148M1389.5 393v8M1389.5 404v4M1389.5 418v4M1389.5 427v8M1390.5 212v7M1390.5 220v6M1390.5 230v12M1390.5 244v141M1390.5 393v8M1390.5 418v4M1390.5 427v4M1391.5 212v7M1391.5 220v6M1391.5 230v155M1391.5 387v4M1391.5 393v9M1391.5 404v4M1391.5 418v4M1391.5 427v4M1392.5 211v8M1392.5 220v6M1392.5 230v4M1392.5 238v164M1392.5 404v4M1393.5 212v7M1393.5 230v4M1393.5 238v155M1393.5 394v14M1393.5 438v4M1394.5 211v8M1394.5 228v4M1394.5 237v156M1394.5 395v12M1394.5 411v5M1394.5 438v4M1394.5 445v4M1395.5 211v10M1395.5 226v6M1395.5 237v168M1395.5 410v11M1395.5 438v4M1395.5 445v4M1396.5 211v10M1396.5 225v21M1396.5 247v148M1396.5 396v9M1396.5 406v15M1396.5 445v4M1397.5 211v12M1397.5 225v170M1397.5 397v24M1398.5 210v164M1398.5 375v20M1398.5 396v14M1399.5 211v199M1400.5 211v14M1400.5 229v161M1400.5 391v17M1400.5 456v4M1401.5 211v14M1401.5 227v5M1401.5 233v128M1401.5 362v17M1401.5 383v6M1401.5 391v17M1401.5 456v4M1402.5 211v8M1402.5 220v5M1402.5 227v5M1402.5 234v124M1402.5 364v15M1402.5 383v6M1402.5 391v13M1402.5 456v4M1403.5 211v14M1403.5 227v5M1403.5 234v25M1403.5 260v17M1403.5 278v10M1403.5 289v6M1403.5 297v47M1403.5 347v12M1403.5 368v13M1403.5 385v5M1403.5 395v6M1403.5 406v4M1403.5 431v4M1403.5 451v4M1404.5 211v13M1404.5 227v4M1404.5 235v14M1404.5 251v8M1404.5 261v4M1404.5 266v12M1404.5 279v8M1404.5 289v4M1404.5 300v6M1404.5 309v35M1404.5 353v6M1404.5 368v13M1404.5 385v5M1404.5 406v4M1404.5 419v4M1404.5 431v4M1404.5 451v4M1405.5 211v13M1405.5 242v6M1405.5 252v6M1405.5 261v26M1405.5 318v26M1405.5 353v6M1405.5 368v8M1405.5 377v4M1405.5 385v5M1405.5 406v4M1405.5 419v4M1405.5 431v4M1405.5 451v4M1406.5 211v12M1406.5 225v5M1406.5 234v4M1406.5 242v6M1406.5 253v4M1406.5 264v22M1406.5 311v6M1406.5 324v12M1406.5 340v4M1406.5 354v5M1406.5 369v7M1406.5 385v4M1406.5 419v4M1407.5 211v9M1407.5 225v6M1407.5 233v6M1407.5 242v8M1407.5 263v8M1407.5 273v12M1407.5 293v4M1407.5 298v4M1407.5 304v4M1407.5 311v7M1407.5 323v4M1407.5 329v9M1407.5 370v4M1407.5 385v4M1408.5 211v8M1408.5 224v7M1408.5 233v6M1408.5 242v8M1408.5 264v7M1408.5 275v9M1408.5 293v9M1408.5 304v5M1408.5 311v7M1408.5 323v4M1408.5 329v9M1409.5 210v11M1409.5 223v16M1409.5 242v8M1409.5 264v6M1409.5 276v7M1409.5 291v6M1409.5 298v4M1409.5 303v5M1409.5 311v7M1409.5 323v4M1409.5 329v14M1409.5 431v4M1410.5 211v18M1410.5 230v8M1410.5 246v4M1410.5 278v4M1410.5 290v7M1410.5 300v8M1410.5 329v14M1410.5 354v8M1410.5 378v4M1410.5 404v4M1410.5 429v7M1410.5 437v7M1411.5 211v16M1411.5 230v10M1411.5 277v10M1411.5 290v5M1411.5 300v12M1411.5 323v4M1411.5 336v7M1411.5 350v13M1411.5 378v4M1411.5 388v4M1411.5 398v4M1411.5 404v4M1411.5 413v4M1411.5 429v15M1412.5 211v38M1412.5 273v4M1412.5 278v16M1412.5 296v17M1412.5 323v4M1412.5 336v7M1412.5 350v13M1412.5 378v4M1412.5 388v4M1412.5 398v4M1412.5 404v4M1412.5 413v4M1412.5 429v7M1412.5 437v7M1413.5 210v39M1413.5 257v4M1413.5 264v4M1413.5 272v5M1413.5 278v16M1413.5 295v18M1413.5 315v4M1413.5 323v4M1413.5 350v4M1413.5 356v7M1413.5 388v4M1413.5 398v4M1413.5 413v4M1413.5 430v4M1413.5 437v6M1414.5 210v39M1414.5 257v4M1414.5 264v13M1414.5 279v21M1414.5 301v12M1414.5 315v4M1414.5 359v4M1415.5 210v22M1415.5 233v16M1415.5 251v4M1415.5 256v6M1415.5 264v13M1415.5 278v21M1415.5 301v10M1415.5 315v4M1416.5 211v20M1416.5 234v7M1416.5 242v6M1416.5 251v13M1416.5 265v11M1416.5 278v5M1416.5 294v5M1416.5 302v7M1417.5 211v20M1417.5 235v6M1417.5 242v5M1417.5 251v4M1417.5 256v8M1417.5 267v9M1417.5 278v4M1417.5 294v6M1417.5 303v4M1417.5 313v4M1417.5 331v4M1418.5 210v14M1418.5 225v6M1418.5 236v4M1418.5 243v5M1418.5 249v6M1418.5 257v7M1418.5 267v4M1418.5 292v8M1418.5 301v4M1418.5 313v4M1418.5 326v10M1418.5 360v4M1418.5 369v4M1419.5 210v13M1419.5 226v5M1419.5 244v9M1419.5 289v16M1419.5 313v4M1419.5 321v4M1419.5 326v10M1419.5 344v4M1419.5 360v4M1419.5 369v4M1420.5 210v12M1420.5 224v7M1420.5 237v4M1420.5 244v14M1420.5 280v7M1420.5 289v16M1420.5 321v4M1420.5 326v4M1420.5 331v5M1420.5 344v4M1420.5 360v4M1420.5 369v4M1421.5 210v10M1421.5 224v6M1421.5 235v23M1421.5 260v4M1421.5 266v4M1421.5 280v21M1421.5 321v4M1421.5 344v4M1422.5 211v21M1422.5 235v23M1422.5 260v4M1422.5 266v7M1422.5 280v20M1423.5 211v53M1423.5 266v8M1423.5 275v4M1423.5 281v10M1423.5 292v4M1424.5 210v15M1424.5 227v17M1424.5 247v7M1424.5 256v8M1424.5 266v8M1424.5 275v4M1424.5 281v9M1425.5 211v13M1425.5 228v7M1425.5 239v4M1425.5 247v16M1425.5 270v4M1425.5 275v4M1426.5 211v9M1426.5 229v6M1426.5 245v18M1427.5 211v8M1427.5 229v5M1427.5 244v18M1428.5 211v8M1428.5 229v4M1428.5 244v4M1428.5 253v4M1429.5 211v8M1429.5 244v4M1430.5 211v9M1431.5 211v9M1432.5 211v8M1433.5 211v8M1434.5 211v9M1434.5 236v4M1434.5 265v17M1434.5 292v4M1434.5 346v5M1434.5 395v4M1435.5 210v10M1435.5 236v4M1435.5 264v18M1435.5 292v4M1435.5 346v5M1435.5 395v4M1436.5 211v9M1436.5 236v4M1436.5 264v18M1436.5 292v4M1436.5 346v5M1436.5 395v4M1437.5 210v11M1437.5 264v8M1437.5 273v5M1437.5 347v4M1438.5 211v10M1438.5 227v6M1438.5 258v4M1439.5 210v12M1439.5 227v6M1439.5 237v11M1439.5 250v4M1439.5 258v4M1440.5 211v11M1440.5 227v6M1440.5 237v11M1440.5 250v5M1440.5 258v4M1441.5 211v11M1441.5 226v7M1441.5 237v20M1442.5 211v12M1442.5 224v11M1442.5 244v13M1443.5 211v26M1443.5 247v10M1444.5 211v27M1444.5 247v10M1445.5 211v27M1446.5 211v9M1446.5 234v4M1447.5 211v9M1448.5 211v8M1449.5 211v8M1449.5 244v4M1450.5 211v9M1450.5 224v4M1450.5 244v4M1450.5 256v4M1450.5 266v5M1450.5 285v5M1451.5 211v9M1451.5 224v4M1451.5 238v4M1451.5 244v4M1451.5 256v4M1451.5 266v7M1451.5 284v8M1451.5 303v4M1452.5 211v9M1452.5 224v4M1452.5 238v4M1452.5 256v4M1452.5 266v7M1452.5 284v8M1452.5 303v4M1453.5 211v9M1453.5 238v4M1453.5 267v6M1453.5 284v8M1453.5 303v4M1454.5 211v9M1455.5 210v12M1455.5 225v10M1456.5 211v11M1456.5 225v19M1457.5 210v12M1457.5 225v19M1458.5 211v10M1458.5 230v14M1459.5 211v9M1459.5 237v7M1460.5 211v9M1461.5 211v9M1462.5 211v8M1463.5 211v8M1464.5 213v5" stroke="#1f77b4" stroke-width="1.06" fill="none" shape-rendering="crispEdges"/>
<path d="M116.5 232.8h0m0-6.9h0m.1-7.6h0m0-3.5h0m.1 59.4h0m0 17.3h0m0-26.3h0m.2 89.5h0m.4-143.5h0m.2 94.1h0m.1 11.1h0m.1-55.9h0m.1 52.2h0m.2-18.2h0m.2 6.6h0m.3-15.1h0m1.5 31.4h0m.5-7.4h0m1-36.6h0m.4-64.8h0m.3 93.9h0m.5-23.1h0m1.1 103.2h0m.1 2.8h0m.8-133.6h0m.3 18.4h0m.2 17.3h0m.3-20.8h0m.4 43h0m2.3-50.4h0m.1 17.9h0m.2-1.3h0m.1-65.2h0m.7 72h0m0 11.9h0m0-46.4h0m2.1 4.5h0m1.3 91.9h0m.3-88.1h0m.4 120.5h0m.2-103.9h0m.1 26.7h0m1.2-90h0m1.7 40.5h0m.1 67.5h0m.2-37.3h0m.3-11.5h0m.3 21.5h0m.3-40.9h0m1.7 13.2h0m1.8 43h0m1-48.3h0m.9-14.8h0m0 22.7h0m.4-17.6h0m.2-39h0m.1 50.5h0m3.8 45.9h0m2.1-41.2h0m.4-10.3h0m.2-1.4h0m.6 16.1h0m0 69h0m.3-56.8h0m.1-20.9h0m.3 16.1h0m.5 16.3h0m0-4.9h0m.2-1h0m.1 31.3h0m.3 70.4h0m.9-35.8h0m.6-52.4h0m.7-6h0m0 19.9h0m.1-6.7h0m1.9 40.1h0m1.2-57.6h0m.5 27.7h0m1.3-9.5h0m.4 3.2h0m.3 11.7h0m.5-20.9h0m0 52.3h0m.1-61h0m.1 3.7h0m0 32h0m2.3-28.4h0m.6 4.1h0m.1 53.1h0m.4-68.4h0m.8 64.3h0m1.5 68h0m1.4-213h0m.1 98.9h0m.8-50.7h0m0 17.7h0m.1 61.3h0m.6-49h0m.5-18.1h0m.3 7.1h0m.3 26h0m.3 5.5h0m.8 75.6h0m3.7-112.6h0m.2 5.5h0m.2 42.7h0m.3-18.3h0m.1 10.1h0m.4-42.2h0m.5 35.9h0m.5-18.7h0m.3-82.4h0m.4 57.3h0m1.2 16.4h0m.7-32h0m.1 82.7h0m.4 39.1h0m.5-101.5h0m0 4.8h0m.3 15.8h0m.1-5.4h0m.1-23.2h0m1.2 9.7h0m.9 18h0m1.3-33.9h0m1.3 7.1h0m.5 14.5h0m.4 68.6h0m0 11.2h0m0-38.9h0m.2 20.8h0m0-35.8h0m.3-35.7h0m.4-17.9h0m.2 18.7h0m.2-17.8h0m.2 24.9h0m0 3h0m.8 28.1h0m.2-3.5h0m3.3-4.3h0m.8-85.8h0m1.3-13.7h0m0 108.5h0m.3-35.3h0m.5 16.7h0m.6 70.8h0m.2-35.7h0m1.3-24.2h0m.4 27.4h0m.1-45.1h0m.8-2.9h0m.7 15.1h0m1.7 2.9h0m.2-86.3h0m.3 190h0m.8-79.5h0m.2-8.9h0m.5-29.2h0m.2 27.4h0m.6-32.4h0m.9-5.3h0m0 27.8h0m1.3 53.2h0m.2-59.4h0m.3-5h0m.3 3.2h0m.8-77.2h0m.4 96.6h0m.2-42.2h0m2.9-5.6h0m1.1 16.5h0m.1 16.9h0m0 67.1h0m.3-89h0m0 8h0m.1-11.6h0m.1 54.9h0m1.7-14.6h0m.8-5.1h0m1.2-60.4h0m.2 18.1h0m.2-13.5h0m.1 37.6h0m.1 54.1h0m.3-85.8h0m.1 21.3h0m.9-16.6h0m.2 66.7h0m.9-119.2h0m.1 81.8h0m.4 3.9h0m.8-85.2h0m2.9 65.8h0m.3 7.9h0m.3 4.5h0m2.1-33.3h0m1.7 18.5h0m.5 34.4h0m.2-46h0m.1 30.9h0m.4-78.7h0m0 52.3h0m.9 12h0m.5 26.1h0m.5-23.6h0m.2 28h0m.2-39.4h0m0 64.2h0m1-26.7h0m2.4-29.9h0m.5 25.5h0m.2 65.3h0m.6-95.3h0m.1-12.3h0m.3 22.7h0m.8 16.4h0m.1-7.8h0m.1-20h0m.1 10.9h0m.8 108.4h0m.4-88.3h0m1-8.4h0m.3-28.8h0m.2-51.7h0m.9 68h0m.4-4.8h0m.3 57.3h0m1.1 15.7h0m.1-88.3h0m1.6 71.7h0m.4-26.8h0m.2-4.6h0m.7-5.5h0m0 81.8h0m.2-80.4h0m.3-5.9h0m0 13.6h0m.2-17.7h0m.3-4.5h0m.3-7.6h0m.4 4.2h0m3.7 7.5h0m.5 20.6h0m.4-98.5h0m1.7 50.3h0m.3 6.2h0m.2 53.5h0m2.2-38.7h0m.8-9.1h0m1.2-4.7h0m2-4.7h0m.8 23.5h0m.2 71.2h0m0-66.1h0m0 105.8h0m.1-111.1h0m.3-8.8h0m.3 28.3h0m1.2-38.7h0m0 11.6h0m1.3 41.9h0m.2-115.5h0m.3 83.7h0m.2 39.5h0m.1-4h0m.4-49h0m.4 8.2h0m2.2-4.9h0m.2 33.3h0m.2 22.3h0m0-64.9h0m0 38h0m.1-5.4h0m0 30.8h0m.2 38.5h0m.3-80.2h0m1.7 63h0m.8-71.4h0m.1 17.9h0m.6-4h0m.5 14.7h0m.3-35.8h0m0 84.6h0m.3-81.2h0m3.1-60.7h0m.8 108.2h0m0-7.4h0m.1-36.7h0m.1-2.4h0m.1 48.6h0m.1-40.7h0m.9 10.8h0m.1-9.1h0m.5-4h0m1.7-70.8h0m.3 44.9h0m.1 33.2h0m.4 4.7h0m.1-1.8h0m.2-22.6h0m0-25.2h0m3.2 85.5h0m.8-46.7h0m1.3 10.7h0m.1 1.6h0m.1-33.4h0m0-18.1h0m1.5 44.6h0m.5-32.1h0m0 6.6h0m0 51.1h0m.1-2.6h0m.3-18.5h0m.4-35.4h0m.4 29.5h0m.1-14.6h0m.6-58.5h0m.1 65.7h0m.2-5.1h0m.5-22.3h0m4.9 115.6h0m1.2-98.9h0m.3-5.8h0m.5 14.2h0m0-15.3h0m.1 21.8h0m.1-.4h0m2.7-9.7h0m3.7-3.2h0m.5 8h0m.7-67h0m1.3 91.7h0m.7-29.4h0m.1 12.2h0m.4-4.5h0m3.2-8.1h0m3.1 35.4h0m.2-44.6h0m.7 37.2h0m1.1 30.1h0m.3-51.4h0m.7-66.4h0m1.4 125.2h0m.3-23.5h0m1.6 40.9h0m.1-83.7h0m.2 41.3h0m2.8-35.7h0m.4 11.3h0m.1 3.4h0m0 17.5h0m2.4-37.8h0m.5 14.5h0m1.2-6.8h0m1.1 14.4h0m2.3-23.9h0m.7 5.8h0m.5 3.8h0m1.2-76.7h0m.2 106.7h0m1-7.3h0m.5-35.5h0m1.3 39.9h0m1.1-31.8h0m.2-3.2h0m.3 31.6h0m1.4-37h0m3.4-5.7h0m1 14.2h0m.6 25.7h0m2.7-8.8h0m.2 6.1h0m.5-32.8h0m.1 13.5h0m.5 45.8h0m.6-50.7h0m.2-5h0m.3 17.2h0m.1 6.3h0m.1-82.7h0m.1 100.9h0m.3-34.9h0m5.5 38.4h0m.1-34.9h0m0 16.3h0m.3 20.2h0m.4-46.5h0m1.2-57.4h0m.7 53.4h0m.1 18.1h0m.5 12h0m.1 3.3h0m0 34.8h0m1.5-44.2h0m.1-8.1h0m1.9-68.6h0m1 57.9h0m3.7 20.1h0m0 117h0m.5-92.2h0m.3-30.5h0m.1-7.6h0m0 4.6h0m.9-68.6h0m2.3 98.5h0m1.6-24.9h0m.3-12.4h0m0-5.1h0m.1-2.3h0m.3 27.7h0m.3 5.1h0m.4-19.1h0m1.2-66.7h0m.6 118.2h0m0-51h0m.1 13.4h0m.1-8.1h0m.1 18.6h0m.1-33h0m4.3 24.7h0m.7-24.8h0m0 59.6h0m1.3-48.6h0m.2-5.5h0m0 9.7h0m.6 32h0m.2-47.4h0m1.8 9.3h0m.2-69.4h0m3.6 100.2h0m.3 6.1h0m1.8-103.8h0m.8 68.5h0m.4 13.4h0m3.3-1h0m.2-11.8h0m.3 24.2h0m.8 10.7h0m1.5-31.3h0m0 2.4h0m.4 3.9h0m.8 23.1h0m.1-47.3h0m.6 3.2h0m1.8 13.4h0m.9-4.1h0m.4-2.6h0m.1-14.9h0m2-57.9h0m1.2 62.4h0m.1 9.9h0m.3 33.2h0m.3-52.3h0m.2 50.4h0m0-20.9h0m0-28h0m.5 7.8h0m2.7 11.7h0m1.4-4.6h0m.2-19.3h0m.1 46.8h0m1.7-33.6h0m.6 35.8h0m.2-36.2h0m.1 31.2h0m.8-37.1h0m4.9 5.7h0m.3 57.9h0m.1-65.4h0m.8 19.2h0m0-5.3h0m.1-4.9h0m.4 30h0m.3-15.2h0m.9 18.6h0m.6-93.5h0m1.7 116.5h0m1-14.3h0m.7-39.3h0m.2 7.5h0m.1 4.9h0m4.2 3.8h0m.2 .9h0m2.2-10.4h0m.9-70.4h0m1.6 105.7h0m.1-65.8h0m.1 16.9h0m4.2-13.2h0m.1-44.6h0m.2 76.5h0m.1 8.3h0m.1 54.7h0m0-84.7h0m0 28.5h0m.1 7.6h0m2-29.4h0m.7 8h0m.1 9.8h0m1-28.6h0m.3 20.9h0m1.4 7.5h0m1.3 7.1h0m.1-31.1h0m.4 44.1h0m.1 1.4h0m1.6-28.1h0m.1-3h0m.4-9.6h0m1.2-63.4h0m.1 89.2h0m1.6 31.7h0m.2-52.1h0m.9 13.1h0m.7 13.1h0m.8-10.4h0m.5-21.3h0m.7-12h0m.1 4.9h0m.6-1.7h0m.5 18.9h0m1.1-7.2h0m1.6-20.4h0m2.5-42.5h0m.8 45.4h0m.7-8.3h0m.1 1.1h0m1.7 4.9h0m2.4-10.3h0m.1 20.3h0m1.5 .4h0m.6 33.2h0m.3-50.9h0m.3 23.3h0m.3-60.4h0m.1 46.2h0m2.3-10.4h0m2.2 5.3h0m.3 19.8h0m1.3-10.9h0m1.2-13.9h0m.9-38.9h0m.4 57.3h0m4.8-11.1h0m.8 6.7h0m1-49.5h0m.2 32.9h0m.1 8.4h0m.4-43.2h0m3.3 39.4h0m3.5 4.2h0m1-9.5h0m.3-39.1h0m1.7-2.2h0m2.6 52.4h0m1.2-17.4h0m.1-37.7h0m.5 92.5h0m.3-50.4h0m0 10.9h0m6.7-58h0m.2-10.6h0m0 50.8h0m2.5-42.6h0m1.7 54.7h0m.5-10.1h0m1.7 4.2h0m.6 25.1h0m.1 41.7h0m.1-56.3h0m.8-43.1h0m1.7 38.3h0m1-2.4h0m.8 8.8h0m.3 19.2h0m.7-12.9h0m4.4-10.4h0m.2-35.2h0m.1 39.9h0m.5 7.8h0m6.1-6.5h0m0-1.8h0m.3-4.7h0m3 11.3h0m.4 8.6h0m.3-60.8h0m.1 64.3h0m3.6-10.1h0m.2-6.1h0m2.7 11.8h0m.7-19.8h0m1-48.3h0m.5-2.8h0m.8 4h0m2.6 40h0m.4 24.5h0m.4-3h0m.1-16.8h0m1.7 4.3h0m4.6 9h0m.8 25.6h0m1-35.4h0m2.6 12.3h0m.1-9.6h0m.8 19.9h0m1.4-11.9h0m.2 3.5h0m.8-60.8h0m3.1 43.9h0m.4 9h0m.1-1.3h0m1-13.3h0m.9 25.6h0m.2-61.9h0m3.6 47.5h0m2-46.3h0m.8 42h0m.8 8.8h0m1.5-53.1h0m2.2 65.8h0m.3 5.3h0m.7-11.6h0m2.1-9.4h0m2.6-52.2h0m.3 62.4h0m5.6-12.7h0m1-47.3h0m3 43.6h0m1.9 5.6h0m.6-48.5h0m.6 117.4h0m1.1-74.1h0m.6 5.3h0m.3 14h0m.5 21h0m3.1-80.9h0m2.1 45.8h0m1.2 .8h0m1-46.6h0m.7 54.1h0m2.4-8.3h0m.2 8.5h0m.8-2.1h0m3.8-9.3h0m.6-54.5h0m2.2 67.6h0m.1-17h0m2.4-41.8h0m.3 53.3h0m1.4-13.3h0m.6 5.4h0m.1-4.4h0m.3 8h0m5.4-5.9h0m2-44.3h0m2 38.4h0m.3 1.1h0m1.5 7.1h0m.8-48.9h0m.4 60.2h0m4.1-61.6h0m1.1 50.9h0m.1 17.5h0m.3 4.2h0m.5-14.3h0m.4-10.3h0m.5-38.5h0m4.5 40h0m.3-40.5h0m1.6 48.6h0m.6 35.1h0m.7 11.6h0m1.1-24.1h0m.1 25.5h0m.5-38.6h0m.1 4.1h0m0-17.5h0m0 21.6h0m.2-16.8h0m.3 4.5h0m.4 7.6h0m2.5-61.4h0m1.3 35.7h0m1.9 5.2h0m3.8-40.3h0m1.1 45.3h0m.7 38.2h0m.7-45.4h0m.3 9.5h0m.3 11.8h0m1.2-58.7h0m2.7 35.5h0m7.1 8h0m1-4.2h0m0-5.8h0m.1-2.4h0m2.2-33h0m1.5 96.1h0m.5-58.6h0m2.4 5.4h0m.1-43.3h0m2.9-.7h0m1.7 42.9h0m.6 .5h0m1.2 7.8h0m3.2 88h0m.1-36.4h0m0 14h0m1-115.5h0m.2 39h0m2.4 6.8h0m.4-2.1h0m3.9 1.4h0m.6-47.3h0m.3 42.7h0m4.2 5.3h0m.7 15.3h0m.4-5.9h0m4.5-12.2h0m.5 15.3h0m.2-18.9h0m.5 8.9h0m0 7.3h0m0-4.4h0m.5-56.1h0m0 6.4h0m.6 60.4h0m2.7 4h0m.7-26.9h0m2.3 16.5h0m.1-57.8h0m.2 53h0m.2-6.1h0m2.5 24h0m.7-69.3h0m1.4 66.4h0m1.2 4.4h0m.6-17.5h0m0 4.9h0m.2-9.9h0m7.1-45.2h0m.5 43.2h0m.1 .8h0m.1 34.5h0m.3-38.1h0m2.6 30.2h0m.6 16.9h0m1.5-87.9h0m.2 47h0m.4 19.2h0m1.3-22.9h0m3.2 21.6h0m1.5-28.1h0m.1 38.1h0m1-81.4h0m1.5 8.3h0m3.5 32h0m.9 40.7h0m.5-27.5h0m.7 11.8h0m6.1-13.1h0m.1 42.8h0m1.2-88.9h0m.9 37.7h0m0-3.1h0m.8 7.9h0m0 10.8h0m1.8-7.4h0m5.1-6.5h0m.5 8h0m.5-49.6h0m1.6 47.8h0m.1 11.2h0m.7 39.7h0m2.6-108.6h0m.9 85.6h0m1.8-32.6h0m1.7-59h0m.3 62.2h0m1-67.5h0m1.9 54h0m.3 8.1h0m1-64.1h0m2 51.5h0m4.4-2.2h0m1.1 5.2h0m1.3-60.2h0m.5 5.5h0m0 90.4h0m.3-85.8h0m1.3 53.6h0m3.4 .2h0m4.3-6.8h0m4.7 8.4h0m.7-70.3h0m2.9-2.8h0m1.5 64h0m.1 14.6h0m.2 1.2h0m0-8.9h0m.1 14.3h0m.2 10.2h0m.5-11h0m.1-9.6h0m0 22.3h0m.5-17.4h0m.4 7.7h0m2.1-69.5h0m.3 58h0m.4 17h0m.6-6.3h0m.1 18.6h0m.3 2.3h0m.8-11.6h0m.2 1.9h0m3.1-72h0m.2 65.1h0m.1-9.5h0m.1-63.1h0m1.8 87.6h0m.3-5.3h0m0 40.6h0m.1-119.7h0m.1 77.3h0m1.6-84.1h0m1.4 8.8h0m1.1 9.1h0m1.5 58h0m.9-2.1h0m.4-13.2h0m.3-33.4h0m4.1 26.1h0m.1 100.7h0m.1-31.3h0m.2-.3h0m0-32.1h0m.1-41.3h0m0 89.8h0m.2-8.7h0m.1-84.3h0m0 25.4h0m.1-13.6h0m0 76.4h0m.1-61.2h0m0 93.6h0m.1-5.4h0m0-1.9h0m0-43.5h0m.1 27.5h0m0-50h0m.1-35.7h0m.2 52.5h0m0-48.3h0m.2 54.9h0m0 11.6h0m0-61.6h0m0 85.1h0m.1 14h0m0 3.9h0m0-117h0m3.3-9.9h0m1.1-16.6h0m4 11.6h0m1.6-10.9h0m1 33.9h0m0-18.1h0m.2 54.1h0m.2 15.8h0m.1-46.6h0m0 100.9h0m0-34.4h0m.1-13.8h0m.3-27.4h0m.1-43h0m.3 120.5h0m.1-82.4h0m0-30.9h0m.1 17.9h0m0 2.2h0m.1-24.1h0m0 94.7h0m.2-17.4h0m.2 20.2h0m.1 17.8h0m.2-38.5h0m2.3-49.5h0m.4-7.2h0m0 67.4h0m.3 14.7h0m.1-104.6h0m.2 80.1h0m0 25.4h0m0 8.2h0m0-121.4h0m0 36h0m.3 56.7h0m0-41.5h0m.1 14.7h0m.1 17.3h0m0 47.6h0m0-106.4h0m0 31.4h0m.1-41.8h0m.1 65.3h0m0-33.9h0m.1 24.2h0m0 2h0m0 27.9h0m.1-23.6h0m.1-14.8h0m0 72h0m.1-114.5h0m1.2-30.4h0m3.6-12.7h0m8.3 8.5h0m1.1 36h0m1.2 14.6h0m.1 7.3h0m0-29.4h0m0 47.9h0m.1 54.5h0m0-46.3h0m.1-13.7h0m0-50.8h0m.1 101.3h0m0 2.5h0m0 28.3h0m.1-34.8h0m0-3.4h0m0-98.5h0m.2-19.3h0m0-6h0m.3 75.8h0m.2 71.1h0m.3 10.1h0m.1-151h0m.5 81.6h0m.5 29.7h0m0-6h0m.2-10.4h0m.3 56.3h0m.1-45.2h0m0-4.4h0m.1-96.6h0m.3 151.7h0m.1-9h0m3.3-77h0m1 71.8h0m.1-63.6h0m.8 76h0m.3-123.3h0m.2-22.7h0m.6-8.9h0m.9 1h0m.2 83h0m.3 73.1h0m.5-120.5h0m0 38.1h0m.3 48.9h0m0 31h0m.3-93.8h0m.1 76.2h0m.3-19.9h0m0-29.5h0m0 43.2h0m0 7.2h0m.1-87.4h0m0-4.8h0m0 76.3h0m0-100h0m0 31.1h0m.1 49.6h0m0-8.3h0m0 52h0m.1-39.2h0m0-41.1h0m5.1 4.2h0m.1-9.2h0m.1 29.1h0m.1-67.3h0m0 5.4h0m.1 9.2h0m0 20.5h0m0-33.7h0m0 26.2h0m.1 54.7h0m0 15.1h0m.1 19h0m.2-58.8h0m.1 52.5h0m0-19.2h0m.2-4.3h0m.3 11.2h0m.1-23.2h0m0-16.6h0m.1-3.9h0m.2 65.5h0m.3-76.8h0m.6 63.3h0m.1-56.8h0m.6 52.9h0m.7-114.4h0m1.8-10.8h0m1 72.4h0m.1 28.8h0m.2 40.4h0m1.3-78.5h0m.1-56.9h0m.3 109h0m0-76.7h0m.5 57.9h0m.1-63.8h0m.1 18.7h0m0 55.5h0m.1-26.3h0m.1-23.3h0m0 20.6h0m0-49.3h0m.1 93.9h0m0 12h0m.1 6.7h0m.1-111.3h0m0 80.7h0m.1-56.4h0m0 19.6h0m2.1-67h0m.1 15.1h0m3.6 53h0m0-3.4h0m.1-42h0m0 30.8h0m0 37.2h0m.1-50.3h0m0-10.3h0m0 28.5h0m.1-39.2h0m0 13.3h0m0 70.3h0m.1-75.9h0m0 85.2h0m0-63.1h0m0 67.4h0m.1-41.7h0m.6 21.7h0m.2-15.9h0m0 24.6h0m.1-91.9h0m.1 55.4h0m0-75.5h0m.2 109.7h0m0-11.1h0m.1 17.6h0m.1-106.4h0m.4 13.2h0m.1 19.8h0m3.5-37h0m.6-1.5h0m1.7 41h0m.3-11.1h0m.4-33.2h0m0 26.8h0m5-27.8h0m.7 58.8h0m2.4-53.6h0m.7 57.5h0m4.6-53.1h0m.3 .4h0m.7 63.7h0m.9 19h0m.2 5.1h0m.3 8.6h0m.3-26.1h0m1.1 38h0m4.1-107.3h0m.1 112.3h0m2 9.7h0m0-126.3h0m.1-5.1h0m1.8 138.7h0m.7 2.1h0m0-4.8h0m1.4 18.3h0m0-166.1h0m0 7.1h0m1.3 8.9h0m.8 164.2h0m2-178.5h0m.5 147.6h0m.3-152.7h0m.4 166.5h0m.4-155.1h0m.8 155.8h0m.1-13.4h0m0-138.8h0m2.1 128.4h0m.7 54.7h0m.2-26.6h0m0-18.3h0m.7-150.7h0m.1 144.6h0m.4-9.6h0m.6-117.8h0m2.2 143.3h0m1.2-9.6h0m.3-10.3h0m.3-128.2h0m.3-4.6h0m.3 156.6h0m.9-166.6h0m.7 6.3h0m.2 181.7h0m.2-8.9h0m.4-26.3h0m1 5.4h0m.8-157.8h0m2.1-20.9h0m.3 24h0m.5-8.3h0m1 1.1h0m1.3 147.7h0m1.8 24.4h0m0-161.8h0m.8 144.4h0m.1 45.9h0m.8-36.8h0m.6 6h0m.4-25.1h0m.3-129.3h0m1.3-15h0m.9 209.5h0m.2-32.1h0m.9-15.2h0m.4-161.5h0m.5 18.1h0m.5 148.7h0m.4-160.3h0m.5 153.1h0m.1-146.5h0m1.1-8.8h0m.3 134.7h0m1.4 53h0m0-202.1h0m.5 162.6h0m1-7.8h0m.6-158.4h0m.5 192.9h0m3.3-177.2h0m.7-3.2h0m.1 161.2h0m.2 20.1h0m.1-33.1h0m1.3 5.7h0m.1 6.4h0m1.6-13.8h0m.7 53.7h0m.6-7h0m.5-27.7h0m.2-165h0m1 152.3h0m.2 19.7h0m.2-179.1h0m.9 170.2h0m.1-17.8h0m3.5 4.6h0m.7-146.8h0m.3 195.8h0m.1-202h0m.9 170.2h0m.4-9.4h0m.1-2.3h0m.9 71.9h0m.1-54.4h0m.6-162.7h0m1-7.6h0m.1 143.8h0m.7 25.9h0m2.3-33.7h0m.6-122.7h0m.1-21.6h0m1.1 154.9h0m.3-141h0m.1 155.4h0m.2 21.8h0m1.1-9h0m.2-173.6h0m.7 165.7h0m.3-158.8h0m.7-12.7h0m.9-24.9h0m.1 30.5h0m1.8-3.7h0m0 189.2h0m3.1-195.6h0m.2 171.7h0m.7 17.8h0m1-29.3h0m0-178.1h0m.3 19.2h0m.3 149.1h0m.8 21.7h0m0-182.1h0m.6 198.1h0m1.4-184.9h0m1.8 1.9h0m.2 150.6h0m.1-6h0m.1 10h0m.2 67.1h0m.3-34.9h0m.1-62h0m.8-139.9h0m.3 8.3h0m.9 13.2h0m1 6.6h0m2 123.4h0m.3 14.4h0m1.6-4.5h0m.7 65.4h0m.6-49.4h0m1.4-22h0m.2 28.5h0m.7-33.3h0m.1 54.5h0m.2-176.8h0m.4 2.2h0m2.4-48.6h0m.4 188.9h0m.1 3.4h0m0 7.7h0m.1 1.7h0m.2-163.3h0m.7 3.7h0m.1 168.5h0m.8-161.9h0m.2 126.7h0m1-152.7h0m.5 6h0m.5-15.5h0m.6 169.3h0m.6-153h0m.4 13h0m.1 145.8h0m1.3 12.3h0m1.5 14.7h0m0-41.8h0m.5 15.4h0m.4 38.1h0m.3-56.9h0m1.2-127.9h0m.3 135.3h0m.4 7.9h0m1.1-152.2h0m1.3-.3h0m.1 130.4h0m2.5 5.2h0m.1 61.6h0m1-18.3h0m.1-182.2h0m.1 130h0m.5-8.1h0m.3 7.5h0m1.3 26.3h0m.5-9h0m.1-133.9h0m.9-6.2h0m.8-1h0m.9 144.7h0m1.4 14.3h0m.4 3.3h0m.1-10.7h0m1.2-17.7h0m.1-127.2h0m.8 132.6h0m1.3-141.9h0m0 176.6h0m.3-159.1h0m3 216.1h0m.4-43.2h0m.1 41.4h0m.1-46.6h0m.2-16.9h0m1-157.7h0m.6 6.5h0m.6 159.9h0m1.7-166.5h0m.4 176.4h0m.2 15.4h0m.2 24.2h0m.2 12.1h0m.3-209.9h0m.6 171.9h0m.4-42h0m.2-150.7h0m.2 180.9h0m.7 17.8h0m1.3-11.8h0m.1-169.4h0m.1-8.1h0m.3-2.8h0m0 6.6h0m.5 153.4h0m1.6-174.2h0m1.3 6.8h0m.3 190.8h0m.6-10h0m.5-175.1h0m.2 147.7h0m1.1-159.8h0m.2 165.8h0m.3 34.2h0m1.5-193.5h0m.4 6.4h0m.1 145.5h0m.7 13h0m1.4 44h0m.5-58.5h0m.5 7h0m1.3 19.7h0m.2-10.9h0m.2-3.8h0m.7-169.2h0m1 180.9h0m.4-170.6h0m.3-19.4h0m.8 .5h0m.6 28.7h0m.3-2.9h0m.4 152h0m1 11.1h0m.2-15.3h0m1.2-.5h0m.7 29.7h0m.2 2.6h0m1-22.6h0m0 15.7h0m.1-10.2h0m.3-6h0m.1-12.5h0m.5-1.5h0m.1 54.8h0m.3-208.6h0m.2 14.8h0m.1 151.9h0m0-160.4h0m1.2 166.4h0m1.4-176.7h0m.9 225.7h0m0-67.9h0m1.6 5.5h0m1.4-145.3h0m1.6 135.9h0m.1-.3h0m.8 56.1h0m1.1-198.3h0m.6-6h0m1.2 142.8h0m.4 42.7h0m.3-22.7h0m.4-8.9h0m.2-.3h0m.6-172.1h0m.2 202h0m.6-191.5h0m1.1 173.5h0m1.3-169.7h0m.4 148.7h0m.2-192h0m2.4 18.9h0m.2 178h0m.6-155.4h0m.2-18.9h0m0 188.4h0m2.2-172.4h0m1.2 179.2h0m.2-6.2h0m.4-185h0m.5 160.3h0m.2 10.4h0m1.1 10.7h0m.1-7.7h0m1.3-165.7h0m.3 5.2h0m.4 3.9h0m1 164.6h0m2.4-179.6h0m.3 197h0m.7-191.5h0m1-34.8h0m.1 198.8h0m.8-159.6h0m.1 173.1h0m.6 15.3h0m.1-17.8h0m.2-181.8h0m.4 16.7h0m.6 202.7h0m.5-192.2h0m0 168.5h0m.3-30.2h0m1.5-144.4h0m.3 166.4h0m.4-9.5h0m1.1 15.5h0m1.4-3.8h0m.4-157.9h0m.3 149.9h0m0 14.5h0m.9 25.8h0m1 17.5h0m.7-219.9h0m1 10.8h0m.1-22.2h0m.1 18.7h0m.1-7.7h0m.4 179.2h0m.5-9.3h0m.9 6.9h0m.8-160.7h0m1.8 184.3h0m.2 7.3h0m.1-196.4h0m.2-15.6h0m1.4 163.8h0m.2 19.1h0m.3 4.9h0m.3-15h0m1-160.5h0m1 7.4h0m1.4-13.8h0m.2 149h0m.3 22.8h0m.6-12h0m.4-154.7h0m1.8 136.7h0m.8-130.6h0m.1 118.9h0m.8 24.7h0m.8 10.6h0m.2-14.3h0m1.8-131.9h0m.1-8.7h0m.2 163.3h0m.8-175.3h0m.4 17.1h0m.4 147.3h0m.9-157.5h0m.2 172.3h0m.9-23.9h0m2.2-137.8h0m.3-13.5h0m.1 7.1h0m.3 206.3h0m.2-52.6h0m.2 23.2h0m.4-181.3h0m.6 161.9h0m1.8 34.8h0m.1-.2h0m.5 16.6h0m.3-25.6h0m.2-7.9h0m.5-196h0m.4 164.8h0m.2 8.3h0m.2 8.6h0m.1 9.2h0m0-22.3h0m1.3-148.8h0m.3 165.9h0m.9 15.5h0m.5 7.2h0m.5-47.7h0m.3 62.3h0m.6-210.3h0m.9 163.6h0m.5-11.8h0m.8 10.9h0m1.3-159.5h0m.1 6.3h0m.1 147.2h0m.1 52.1h0m.9 4.2h0m.3-233.4h0m.8 191h0m.6-173.9h0m.1 3.1h0m.5-20.5h0m.7 182.4h0m.2 17.8h0m.5-165.4h0m.7 157.9h0m1.1-182.5h0m.7 218.6h0m.1-31.4h0m0 7.5h0m.7-183.4h0m.7 9.8h0m1.4-6.9h0m.9 161.9h0m3.2 3.3h0m.1 32h0m.1-188.6h0m.5 135.8h0m.1 8.6h0m.2 1.7h0m.2 21.8h0m.3-183.5h0m.2 201.2h0m2.9-206.7h0m.1 12.1h0m.9 255h0m1.2-261.6h0m.3 11h0m.2 165.7h0m.3 33.4h0m.6-8.6h0m1.5 .4h0m.2-219.5h0m1.4 189.1h0m.1-6.6h0m.8 87.6h0m0-248.3h0m.8 143.4h0m.1-5.4h0m.1 27.8h0m.5 30.8h0m.4-216.2h0m0 9.4h0m.1 190.5h0m1.4-5h0m.2 69h0m.6-236.2h0m.1 155h0m1.1 86.4h0m.3-247.7h0m0 6.4h0m.4 222.7h0m.9-249.3h0m.5 200h0m.6 57.1h0m1.6-235.1h0m.6 172.6h0m.1 62.5h0m.3-242.8h0m1.1 190.9h0m.3-32.7h0m.7-145.1h0m.8 179.9h0m0 6h0m1.3 17.3h0m.1-12.5h0m.1 58h0m.2-63h0m.6 14.3h0m1.3-204.7h0m.5 6.8h0m.1-8.1h0m.3 176.8h0m.3 81.1h0m.4-70.5h0m.4 39.8h0m.4-53.6h0m.1 21.3h0m.7-28.4h0m.6 19.3h0m.7-4.6h0m.8 8.5h0m.8-184.1h0m.9 166.6h0m1.8-179.5h0m.2-1.7h0m.3 9.8h0m.6 210.5h0m.1-225h0m.2 189.6h0m.3-10.8h0m2.4 24.1h0m.1-16.3h0m.8-15.8h0m.4 58.3h0m0-29.1h0m.9-205.7h0m.5 6.5h0m.3 182.9h0m0-34h0m.6 39.6h0m.2-11.1h0m.6 27.1h0m.3-45.5h0m0 3.6h0m.4 45.5h0m1.1-33.5h0m.4-19.8h0m.3-210.5h0m0 34.4h0m.1-28h0m0 31.7h0m.1-16.4h0m.1-6.6h0m0 13.3h0m.1 16h0m.1-12.3h0m.1-36.8h0m1.2 237.6h0m1.1-8.7h0m.3-243.3h0m.1-22.4h0m.1 28h0m.1-11.2h0m.6-43.7h0m0 52.1h0m.1-30.8h0m.1-8.4h0m0 22.4h0m.1 348.2h0m0-342.6h0m.1-11.2h0m.1 16.8h0m1.3 56.1h0m.2-3.2h0m.3 188.7h0m.2-200.9h0m.1 32h0m.1-41.1h0m0 49.4h0m.1-12.3h0m.2 181.9h0m.1-207h0m.2 17.1h0m.2-33.7h0m0 229.8h0m.9-19.2h0m.1 22.9h0m2.8 25h0m.1-207.4h0m.4 175.4h0m0-176.4h0m.2 167.4h0m1.5-163.6h0m0-9.6h0m.1-1.4h0m.5 200.8h0m1.8-10.1h0m.2 8.7h0m.3-21.1h0m.5 25h0m.4-273.2h0m.1 48.3h0m.1-14h0m.1 18.9h0m.4 6.7h0m0-34.7h0m.1-14h0m.2 52.6h0m0-9.9h0m.2-6h0m0-31.1h0m.2 61h0m0 183.1h0m0-243.2h0m.1 66.1h0m0-71.4h0m.1 8.8h0m0 34.5h0m0-24h0m.2 39.2h0m.1 183.2h0m.2 2.5h0m.1 23.8h0m.1-191.2h0m.4 3.4h0m.3 176.7h0m.6-168.1h0m.2 3.5h0m.4 165.3h0m.4 13h0m0-172.2h0m.2 5h0m.4 171.3h0m1.2-12.1h0m.2-13.5h0m.1 34.4h0m1.4 1.8h0m1.4 20.4h0m.5-35.3h0m0 8.6h0m.4 36.4h0m.2-21h0m.1 38.7h0m.6-31.3h0m.1-187.5h0m1.8 15.1h0m.1 178.7h0m.3-199.9h0m.3 30.7h0m.6 156h0m.4-176.9h0m.8 181.1h0m1.5-155.3h0m1.3 171.9h0m.1-190.9h0m1.5 177.9h0m.9-187.7h0m0 6.6h0m0 176.8h0m.1-3.2h0m.8-163.5h0m.2 201h0m1.2-222.6h0m.6 238.4h0m.2-39.8h0m.3 1.6h0m.5 15.8h0m.4-17.1h0m.6-196.7h0m.2 11h0m.3 216.2h0m.3-211.5h0m.7 15.8h0m3.1-42.9h0m.9 22.5h0m1.9-9.8h0m.3 192.7h0m2 14.3h0m0-212.6h0m.3 209.2h0m.3-2.6h0m.1-192.8h0m.1 188.9h0m.2-184.9h0m1.2 196.4h0m.4 12.6h0m.1-35.3h0m.9-186.6h0m.4 31h0m.5 187.1h0m.4 5h0m2.2-16.9h0m0-199.3h0m0 231.7h0m.2-39.3h0m.7 12.8h0m.3-23.1h0m.4-176.9h0m.5 .3h0m.3 198.2h0m.1-213.3h0m0 10.5h0m1.9 218.2h0m.1-230.8h0m.3 209.3h0m.1-9.2h0m1.1 13.5h0m1.8-203.9h0m.7-8.5h0m.2 190.3h0m0-186.2h0m.1 15.3h0m.3-15.1h0m.4 28.2h0m1.4-20.2h0m.9 14.3h0m.8 167h0m1.1-192h0m1.9 200h0m.3-186.2h0m.1 198.5h0m.2-182.1h0m.3-35.3h0m3 226.7h0m1.5-206.4h0m.6 205.4h0m.2-8.4h0m.7-13.5h0m.1 4.1h0m.1-201.4h0m1.6-2.4h0m.5 194.7h0m4.6-230.2h0m.1 8.4h0m.2 18.3h0m.1 7.4h0m.4-6.4h0m0 181.9h0m.2-169.3h0m.9 187.5h0m1.3-4.7h0m.3 40.3h0m.1-34.3h0m.4-37.8h0m2 55.5h0m.2-43.6h0m.1-6.7h0m1.1-12.2h0m0 23h0m.6-18.9h0m0 39.5h0m.3-57.5h0m0 50.2h0m.1-9.1h0m1 6.6h0m.3-22.1h0m.4-17.2h0m0-12.8h0m.7-3.7h0m1.7-151.1h0m1.3 160.4h0m.2-152.2h0m1.5 99.4h0m.1 22.9h0m.7 9h0m1.6-112.5h0m1.2-27h0m.4 148.6h0m.4-4.6h0m1.1-37.5h0m.4-97.2h0m.2 167.8h0m.2-17.1h0m.1 12.7h0m.1 7.2h0m.2-149.8h0m.1 198.2h0m.1-30.1h0m.1 6.8h0m.1-187.6h0m.3 173.2h0m.5 54.8h0m0-59.9h0m0-140.4h0m.1 195.1h0m1.2-25.7h0m2.8 3.5h0m.3-5.3h0m.3-185.5h0m.4 204.4h0m.3-28.8h0m.2 31.8h0m.3-20.5h0m2-29.9h0m.2 23.9h0m.3 18.9h0m.5 1.9h0m.1-26.3h0m1.9 14.1h0m0-185.2h0m.1 193.4h0m.6-33.6h0m.2-172.5h0m.2-5.3h0m.1 7.3h0m.9 7.2h0m.3 174.3h0m2.1 33.6h0m.9 7.7h0m.2-217.3h0m.2 184.9h0m.1-2.5h0m.2 7h0m1.2-192.5h0m.5 180.9h0m1.1-27.5h0m.6-157.2h0m1.4 179.3h0m.3-9.2h0m.1 64.6h0m.7-60.7h0m.4-167.2h0m.3 118.8h0m.2-111.8h0m.1-8.2h0m.4 85.9h0m.1-23.5h0m.1-28.4h0m.2 170.4h0m.2-111.4h0m.3 57.7h0m0-157.5h0m.1 210.9h0m.2-77.5h0m0 52.7h0m.1 44.8h0m.1-31.3h0m.1-64.1h0m.2-15.5h0m.2-86.8h0m.5 132.3h0m1.6-121.7h0m.2 3.3h0m0-25h0m.2-15.2h0m.1 66.3h0m.1 11.4h0m0 6.5h0m.1-12.6h0m.1 15.6h0m.3 19.9h0m.1-11.1h0m.2-76.6h0m.1 82.9h0m1.9 102.7h0m0-95.4h0m.1 41.3h0m.2-38.4h0m0-49h0m.1 148.7h0m0-84.6h0m.1 4h0m.1 78.5h0m.1-7.4h0m.1-25.5h0m0 35.9h0m.2-26.9h0m.2-56.3h0m.1 30.9h0m.2 10.8h0m0-75.6h0m.1 27.1h0m.2 9.5h0m.6-50.4h0m.1-13.1h0m.1-23.1h0m.4 17.5h0m0-45.2h0m.1 69.5h0m.1-28.2h0m.2-13.8h0m.3-8.4h0m.1-7.5h0m1.7 15.3h0m.4-20.7h0m0 27h0m.3-11.2h0m.3-7.1h0m.1-23.8h0m1.2 76.9h0m.1 17.9h0m0-103.8h0m.1 132.4h0m0 9.4h0m0-42.9h0m.2 5.9h0m.4-83.4h0m0 52.6h0m.4 43.3h0m.1-23.9h0m1.2-24.5h0m.1-16.5h0m0 9.2h0m.3-35.1h0m.3 38.4h0m.1-68.4h0m.1 19.8h0m.3 16.9h0m0 5.4h0m.3-30.4h0m.2 50.8h0m1.4-66.6h0m0 50.3h0m.1-31.3h0m.4 36.6h0m0-54.8h0m.5 11h0m.4 27.3h0m2.1-5.9h0m0-23.3h0m.2 15h0m6.9 27.1h0m.1 20.9h0m.3-14.8h0m.1 117.2h0m0-47.8h0m.1-78.8h0m.2 78.1h0m.1-110.4h0m0-19.6h0m.3 48.1h0m.2 9.6h0m2.9-16.1h0m.1-29.1h0m.2-.8h0m0-1.4h0m.7 13.7h0m.2 9.8h0m.1-6.5h0m.2-6.2h0m2.6 15.8h0m.3-5.8h0m.3-18.6h0m.2-4.9h0m0 2.2h0m.1-7.1h0m.7 14.5h0m5.9 10h0m.2 41.1h0m.7-28.2h0m.1-32.5h0m0 42.4h0m.1-28.5h0m.2 65.3h0m.1-19h0m.2-15.5h0m.2 18.9h0m3.6-58.6h0m.3-4.4h0m.1-7h0m.3 18h0m.3-4.5h0m.2 5.7h0m0-6.2h0m.5 9.5h0m4.7-25.4h0" stroke="#1f77b4" stroke-width="5.3" stroke-linecap="round" fill="none"/>
<path d="M116.5 231.1L117.2 233.5L117.9 234.7L118.6 230.5L119.3 223.4L120.0 219.1L120.7 218.3L121.4 218.7L122.1 218.9L122.8 219.3L123.5 220.0L124.2 220.8L124.9 220.9L125.6 219.8L126.3 217.7L127.0 216.5L127.7 217.6L128.4 219.5L129.1 219.9L129.8 218.1L130.5 216.1L131.2 215.8L131.9 217.8L132.6 220.5L133.3 221.2L134.0 219.0L134.7 215.9L135.4 215.3L136.1 217.3L136.8 219.6L137.5 220.2L138.2 219.9L138.9 219.3L139.6 218.5L140.3 217.3L141.0 216.4L141.7 216.3L142.4 216.9L143.1 217.4L143.8 217.5L144.5 217.1L145.3 216.6L146.0 216.7L146.7 217.6L147.4 218.5L148.1 218.5L148.8 217.8L149.5 217.3L150.2 218.0L150.9 220.4L151.6 223.9L152.3 227.9L153.0 231.4L153.7 234.4L154.4 236.1L155.1 234.8L155.8 230.0L156.5 224.1L157.2 220.1L157.9 218.1L158.6 218.2L159.3 222.2L160.0 230.2L160.7 235.8L161.4 232.9L162.1 224.1L162.8 218.8L163.5 221.7L164.2 227.1L164.9 227.2L165.6 222.1L166.3 217.7L167.0 217.2L167.7 219.0L168.4 221.5L169.1 224.6L169.8 227.0L170.5 226.7L171.2 223.9L171.9 221.2L172.6 219.9L173.3 219.8L174.0 219.7L174.7 219.8L175.4 221.2L176.1 223.7L176.8 224.6L177.5 221.9L178.2 217.3L178.9 214.1L179.6 214.5L180.3 217.6L181.0 220.7L181.7 221.7L182.4 220.6L183.1 219.2L183.8 218.5L184.5 217.6L185.2 216.2L185.9 215.8L186.6 218.3L187.3 222.5L188.0 224.6L188.7 223.0L189.4 220.1L190.1 218.3L190.8 218.0L191.5 217.9L192.2 217.4L192.9 216.5L193.6 215.7L194.3 215.8L195.0 217.9L195.7 221.2L196.4 222.4L197.1 221.1L197.8 220.5L198.5 223.1L199.2 225.5L199.9 224.2L200.6 220.8L201.3 219.7L202.0 221.6L202.7 223.8L203.4 223.9L204.1 221.8L204.8 219.3L205.5 218.4L206.2 219.6L206.9 221.6L207.6 222.0L208.3 220.3L209.0 218.5L209.7 218.0L210.4 217.5L211.1 216.1L211.8 215.8L212.6 219.0L213.3 224.4L214.0 226.7L214.7 223.9L215.4 219.6L216.1 217.8L216.8 218.5L217.5 220.0L218.2 220.8L218.9 220.0L219.6 217.7L220.3 215.4L221.0 214.5L221.7 215.1L222.4 216.0L223.1 216.2L223.8 216.0L224.5 216.3L225.2 217.2L225.9 218.0L226.6 218.4L227.3 218.6L228.0 218.6L228.7 218.4L229.4 218.0L230.1 217.4L230.8 216.8L231.5 217.5L232.2 220.3L232.9 222.6L233.6 221.4L234.3 217.5L235.0 215.3L235.7 217.1L236.4 220.6L237.1 222.5L237.8 222.0L238.5 221.0L239.2 220.4L239.9 219.5L240.6 218.2L241.3 217.8L242.0 218.6L242.7 219.5L243.4 219.5L244.1 219.1L244.8 219.2L245.5 220.1L246.2 221.7L246.9 223.8L247.6 226.4L248.3 228.4L249.0 227.8L249.7 223.6L250.4 218.5L251.1 216.1L251.8 217.0L252.5 218.6L253.2 218.0L253.9 216.1L254.6 215.5L255.3 216.8L256.0 218.3L256.7 218.6L257.4 218.6L258.1 219.5L258.8 220.7L259.5 220.8L260.2 219.2L260.9 217.4L261.6 217.4L262.3 220.2L263.0 223.7L263.7 224.2L264.4 221.1L265.1 218.1L265.8 218.9L266.5 222.0L267.2 222.4L267.9 218.4L268.6 214.9L269.3 218.1L270.0 226.8L270.7 231.9L271.4 228.3L272.1 221.0L272.8 217.7L273.5 219.6L274.2 222.5L274.9 223.4L275.6 222.0L276.3 219.7L277.0 217.5L277.7 216.3L278.4 217.4L279.1 221.5L279.9 225.8L280.6 226.6L281.3 223.4L282.0 219.2L282.7 217.8L283.4 219.2L284.1 219.8L284.8 217.6L285.5 214.8L286.2 214.4L286.9 216.4L287.6 218.4L288.3 219.1L289.0 218.6L289.7 218.0L290.4 219.2L291.1 223.9L291.8 229.5L292.5 230.9L293.2 226.6L293.9 220.3L294.6 216.6L295.3 216.0L296.0 216.2L296.7 216.1L297.4 216.3L298.1 217.4L298.8 218.9L299.5 220.3L300.2 222.1L300.9 224.3L301.6 224.9L302.3 222.7L303.0 219.9L303.7 218.6L304.4 218.1L305.1 217.0L305.8 215.8L306.5 216.4L307.2 218.1L307.9 218.8L308.6 217.7L309.3 217.7L310.0 221.0L310.7 225.3L311.4 225.8L312.1 221.9L312.8 217.8L313.5 217.2L314.2 219.5L314.9 221.3L315.6 220.3L316.3 218.7L317.0 219.7L317.7 222.8L318.4 223.8L319.1 221.9L319.8 221.0L320.5 223.7L321.2 227.2L321.9 228.0L322.6 226.8L323.3 227.1L324.0 228.9L324.7 227.9L325.4 222.6L326.1 218.7L326.8 221.7L327.5 228.2L328.2 229.8L328.9 224.5L329.6 219.4L330.3 220.1L331.0 224.3L331.7 226.4L332.4 224.8L333.1 221.3L333.8 218.6L334.5 217.9L335.2 218.6L335.9 219.1L336.6 218.5L337.3 217.3L338.0 216.6L338.7 216.7L339.4 217.8L340.1 219.8L340.8 221.7L341.5 222.7L342.2 222.8L342.9 222.4L343.6 220.8L344.3 218.4L345.0 217.0L345.7 217.7L346.4 219.4L347.2 220.2L347.9 219.6L348.6 218.9L349.3 218.8L350.0 219.0L350.7 219.3L351.4 219.8L352.1 221.2L352.8 223.7L353.5 226.2L354.2 225.4L354.9 221.1L355.6 217.4L356.3 217.5L357.0 219.6L357.7 220.0L358.4 219.1L359.1 219.8L359.8 222.0L360.5 221.9L361.2 219.1L361.9 219.3L362.6 225.3L363.3 231.8L364.0 231.7L364.7 225.3L365.4 218.2L366.1 215.6L366.8 218.2L367.5 223.1L368.2 225.5L368.9 222.2L369.6 216.1L370.3 214.1L371.0 218.8L371.7 225.1L372.4 226.0L373.1 221.2L373.8 216.5L374.5 215.9L375.2 217.2L375.9 218.4L376.6 221.4L377.3 226.8L378.0 229.8L378.7 226.8L379.4 222.8L380.1 224.2L380.8 228.5L381.5 228.6L382.2 223.8L382.9 219.7L383.6 220.4L384.3 223.3L385.0 223.8L385.7 221.7L386.4 221.1L387.1 223.4L387.8 224.9L388.5 222.4L389.2 218.1L389.9 215.6L390.6 215.5L391.3 216.4L392.0 217.6L392.7 219.4L393.4 220.4L394.1 219.5L394.8 218.2L395.5 218.9L396.2 220.8L396.9 220.9L397.6 218.7L398.3 217.7L399.0 221.7L399.7 228.9L400.4 239.0L401.1 234.9L401.8 226.8L402.5 222.4L403.2 223.8L403.9 226.0L404.6 225.2L405.3 222.6L406.0 221.9L406.7 224.2L407.4 226.5L408.1 225.4L408.8 221.1L409.5 217.8L410.2 219.4L410.9 225.1L411.6 229.3L412.3 227.7L413.0 221.8L413.7 216.7L414.5 215.6L415.2 217.6L415.9 220.2L416.6 221.5L417.3 221.2L418.0 221.0L418.7 223.0L419.4 225.8L420.1 226.2L420.8 223.4L421.5 220.7L422.2 220.7L422.9 221.8L423.6 221.3L424.3 219.7L425.0 220.0L425.7 223.5L426.4 227.4L427.1 227.2L427.8 222.7L428.5 218.4L429.2 218.8L429.9 223.5L430.6 228.1L431.3 229.5L432.0 228.3L432.7 225.9L433.4 222.8L434.1 220.1L434.8 220.3L435.5 224.1L436.2 227.8L436.9 227.1L437.6 222.8L438.3 219.8L439.0 219.7L439.7 220.8L440.4 221.4L441.1 221.8L441.8 221.9L442.5 221.2L443.2 219.7L443.9 218.0L444.6 217.4L445.3 219.2L446.0 222.5L446.7 224.0L447.4 222.3L448.1 220.3L448.8 220.5L449.5 222.1L450.2 223.0L450.9 222.9L451.6 222.5L452.3 222.6L453.0 223.4L453.7 224.9L454.4 226.6L455.1 227.2L455.8 225.3L456.5 221.4L457.2 218.7L457.9 220.0L458.6 223.8L459.3 225.6L460.0 223.7L460.7 221.4L461.4 222.3L462.1 225.3L462.8 226.3L463.5 224.0L464.2 220.7L464.9 218.9L465.6 218.9L466.3 219.6L467.0 219.7L467.7 219.0L468.4 218.0L469.1 218.1L469.8 219.2L470.5 220.4L471.2 220.5L471.9 219.5L472.6 218.6L473.3 218.4L474.0 218.3L474.7 217.5L475.4 217.0L476.1 218.3L476.8 220.8L477.5 222.0L478.2 220.4L478.9 218.2L479.6 217.8L480.3 219.1L481.0 219.8L481.8 219.4L482.5 218.9L483.2 219.3L483.9 219.9L484.6 219.5L485.3 218.1L486.0 217.2L486.7 217.9L487.4 219.4L488.1 220.1L488.8 219.5L489.5 218.3L490.2 217.6L490.9 218.3L491.6 219.4L492.3 219.2L493.0 217.6L493.7 216.7L494.4 217.3L495.1 218.3L495.8 218.4L496.5 217.8L497.2 217.5L497.9 217.5L498.6 217.5L499.3 217.8L500.0 218.4L500.7 218.4L501.4 217.5L502.1 216.9L502.8 217.0L503.5 217.0L504.2 216.3L504.9 215.3L505.6 215.1L506.3 215.6L507.0 215.6L507.7 214.8L508.4 213.7L509.1 212.7L509.8 211.6L510.5 210.4L511.2 209.5L511.9 209.1L512.6 208.6L513.3 208.0L514.0 207.3L514.7 206.7L515.4 206.2L516.1 206.1L516.8 206.2L517.5 206.3L518.2 207.1L518.9 208.8L519.6 210.5L520.3 211.1L521.0 211.1L521.7 212.3L522.4 214.8L523.1 216.5L523.8 216.4L524.5 215.6L525.2 215.6L525.9 216.4L526.6 217.2L527.3 217.5L528.0 217.8L528.7 218.2L529.4 218.2L530.1 217.6L530.8 217.6L531.5 219.1L532.2 221.3L532.9 222.5L533.6 222.5L534.3 222.0L535.0 221.6L535.7 221.1L536.4 220.2L537.1 219.2L537.8 218.9L538.5 220.0L539.2 221.9L539.9 222.4L540.6 220.2L541.3 217.6L542.0 217.7L542.7 219.9L543.4 221.0L544.1 219.3L544.8 217.1L545.5 216.6L546.2 217.9L546.9 218.7L547.6 218.0L548.3 217.1L549.1 217.3L549.8 217.7L550.5 216.0L551.2 212.8L551.9 210.9L552.6 211.4L553.3 212.9L554.0 213.7L554.7 214.6L555.4 216.3L556.1 217.9L556.8 217.9L557.5 216.6L558.2 215.6L558.9 215.8L559.6 216.2L560.3 215.6L561.0 214.3L561.7 214.3L562.4 216.1L563.1 218.1L563.8 218.1L564.5 216.3L565.2 214.5L565.9 214.3L566.6 215.7L567.3 216.9L568.0 216.5L568.7 215.2L569.4 214.3L570.1 213.8L570.8 213.5L571.5 213.4L572.2 214.5L572.9 216.9L573.6 219.2L574.3 219.6L575.0 217.6L575.7 215.0L576.4 213.4L577.1 213.0L577.8 213.4L578.5 214.2L579.2 215.0L579.9 215.2L580.6 214.2L581.3 213.1L582.0 213.4L582.7 215.2L583.4 216.9L584.1 217.0L584.8 215.5L585.5 214.2L586.2 214.3L586.9 215.5L587.6 216.4L588.3 216.6L589.0 216.7L589.7 216.4L590.4 215.4L591.1 214.6L591.8 215.3L592.5 216.9L593.2 217.3L593.9 215.5L594.6 213.5L595.3 213.3L596.0 214.5L596.7 215.8L597.4 216.4L598.1 216.7L598.8 216.4L599.5 215.4L600.2 214.5L600.9 214.1L601.6 213.8L602.3 213.6L603.0 214.0L603.7 215.0L604.4 215.7L605.1 215.7L605.8 215.8L606.5 217.2L607.2 219.3L607.9 219.9L608.6 217.7L609.3 214.7L610.0 213.2L610.7 213.2L611.4 213.7L612.1 214.2L612.8 215.2L613.5 216.2L614.2 216.5L614.9 216.0L615.6 215.5L616.4 215.3L617.1 215.6L617.8 216.5L618.5 217.9L619.2 218.5L619.9 217.3L620.6 215.4L621.3 214.6L622.0 215.1L622.7 215.7L623.4 215.5L624.1 214.9L624.8 214.9L625.5 215.8L626.2 216.8L626.9 216.4L627.6 214.6L628.3 213.4L629.0 214.1L629.7 215.8L630.4 216.7L631.1 216.0L631.8 214.8L632.5 214.3L633.2 215.0L633.9 216.2L634.6 216.4L635.3 215.5L636.0 214.4L636.7 213.8L637.4 213.1L638.1 212.1L638.8 211.4L639.5 211.6L640.2 212.5L640.9 213.7L641.6 214.4L642.3 214.1L643.0 213.1L643.7 213.5L644.4 215.9L645.1 218.5L645.8 218.0L646.5 214.6L647.2 211.5L647.9 212.0L648.6 215.5L649.3 218.8L650.0 219.2L650.7 217.4L651.4 216.1L652.1 216.5L652.8 217.7L653.5 218.1L654.2 217.8L654.9 217.7L655.6 217.9L656.3 218.1L657.0 218.4L657.7 218.8L658.4 219.6L659.1 221.8L659.8 225.2L660.5 226.7L661.2 223.7L661.9 218.3L662.6 214.9L663.3 215.3L664.0 217.1L664.7 217.9L665.4 217.4L666.1 217.0L666.8 217.3L667.5 217.6L668.2 217.3L668.9 216.5L669.6 216.1L670.3 216.5L671.0 217.5L671.7 218.6L672.4 219.5L673.1 220.0L673.8 220.1L674.5 220.0L675.2 220.0L675.9 219.9L676.6 220.0L677.3 219.9L678.0 219.4L678.7 218.3L679.4 217.4L680.1 217.0L680.8 217.0L681.5 217.2L682.2 217.5L682.9 217.8L683.7 218.0L684.4 218.1L685.1 218.4L685.8 218.6L686.5 218.0L687.2 216.4L687.9 215.1L688.6 215.6L689.3 217.4L690.0 219.0L690.7 219.2L691.4 218.5L692.1 217.9L692.8 217.5L693.5 216.9L694.2 216.4L694.9 216.7L695.6 217.5L696.3 217.9L697.0 217.5L697.7 217.4L698.4 218.0L699.1 218.2L699.8 216.9L700.5 215.4L701.2 216.2L701.9 218.9L702.6 220.4L703.3 219.5L704.0 217.9L704.7 217.7L705.4 218.6L706.1 219.2L706.8 218.7L707.5 217.5L708.2 216.8L708.9 217.1L709.6 218.0L710.3 218.0L711.0 216.8L711.7 216.0L712.4 216.6L713.1 217.4L713.8 217.5L714.5 217.4L715.2 218.5L715.9 220.0L716.6 220.3L717.3 219.4L718.0 218.6L718.7 218.3L719.4 218.0L720.1 218.1L720.8 219.6L721.5 221.3L722.2 221.1L722.9 218.8L723.6 216.6L724.3 216.5L725.0 218.1L725.7 219.6L726.4 219.3L727.1 217.9L727.8 217.5L728.5 218.6L729.2 219.6L729.9 219.2L730.6 218.6L731.3 219.0L732.0 219.9L732.7 219.8L733.4 218.7L734.1 217.9L734.8 218.8L735.5 221.0L736.2 221.9L736.9 219.9L737.6 216.7L738.3 215.5L739.0 216.8L739.7 218.3L740.4 217.9L741.1 216.2L741.8 215.5L742.5 216.8L743.2 218.7L743.9 219.4L744.6 218.6L745.3 217.6L746.0 217.5L746.7 218.2L747.4 218.2L748.1 217.9L748.8 218.3L749.5 219.2L750.2 219.8L751.0 219.7L751.7 219.6L752.4 220.1L753.1 220.7L753.8 220.6L754.5 220.0L755.2 219.3L755.9 218.5L756.6 217.5L757.3 216.7L758.0 216.7L758.7 217.2L759.4 217.5L760.1 217.4L760.8 217.4L761.5 218.2L762.2 220.4L762.9 223.0L763.6 223.5L764.3 220.7L765.0 217.2L765.7 216.2L766.4 217.9L767.1 219.6L767.8 219.3L768.5 218.0L769.2 217.8L769.9 218.7L770.6 219.0L771.3 218.0L772.0 217.1L772.7 217.4L773.4 218.5L774.1 218.9L774.8 218.1L775.5 217.0L776.2 216.6L776.9 216.5L777.6 216.3L778.3 216.4L779.0 216.4L779.7 215.6L780.4 214.7L781.1 216.0L781.8 220.2L782.5 223.7L783.2 223.0L783.9 218.6L784.6 214.2L785.3 211.9L786.0 211.8L786.7 213.5L787.4 216.4L788.1 218.0L788.8 216.2L789.5 212.4L790.2 209.7L790.9 209.3L791.6 209.8L792.3 210.6L793.0 211.9L793.7 212.2L794.4 210.3L795.1 207.9L795.8 208.4L796.5 211.3L797.2 213.4L797.9 212.6L798.6 210.0L799.3 207.3L800.0 206.1L800.7 206.8L801.4 208.0L802.1 207.7L802.8 205.7L803.5 204.4L804.2 205.8L804.9 209.1L805.6 211.0L806.3 209.3L807.0 205.6L807.7 203.2L808.4 203.3L809.1 204.9L809.8 206.1L810.5 205.2L811.2 202.2L811.9 199.7L812.6 200.9L813.3 205.5L814.0 207.9L814.7 204.1L815.4 197.2L816.1 194.6L816.8 198.5L817.5 203.1L818.3 202.2L819.0 197.1L819.7 194.2L820.4 196.4L821.1 201.0L821.8 204.2L822.5 205.6L823.2 206.8L823.9 209.3L824.6 211.9L825.3 212.0L826.0 209.4L826.7 207.7L827.4 209.5L828.1 213.1L828.8 215.5L829.5 215.9L830.2 215.6L830.9 215.0L831.6 213.3L832.3 210.7L833.0 209.3L833.7 211.7L834.4 217.8L835.1 223.4L835.8 224.2L836.5 220.8L837.2 216.9L837.9 214.9L838.6 214.1L839.3 214.3L840.0 216.1L840.7 218.6L841.4 219.6L842.1 218.5L842.8 216.9L843.5 216.6L844.2 217.0L844.9 215.8L845.6 213.6L846.3 215.2L847.0 224.5L847.7 236.3L848.4 239.5L849.1 230.7L849.8 218.5L850.5 213.1L851.2 214.6L851.9 216.7L852.6 216.5L853.3 215.4L854.0 215.2L854.7 215.5L855.4 215.5L856.1 215.7L856.8 216.3L857.5 215.9L858.2 214.1L858.9 214.2L859.6 220.7L860.3 232.4L861.0 240.2L861.7 236.5L862.4 224.2L863.1 213.9L863.8 214.2L864.5 224.7L865.2 236.8L865.9 239.7L866.6 230.8L867.3 218.8L868.0 213.1L868.7 214.2L869.4 216.4L870.1 216.3L870.8 215.3L871.5 215.0L872.2 215.5L872.9 215.9L873.6 215.9L874.3 215.8L875.0 215.8L875.7 215.9L876.4 215.6L877.1 215.4L877.8 215.8L878.5 216.4L879.2 215.9L879.9 214.2L880.6 214.4L881.3 219.8L882.0 228.8L882.7 236.4L883.4 241.7L884.1 246.6L884.8 248.0L885.6 239.9L886.3 226.3L887.0 220.6L887.7 228.2L888.4 240.1L889.1 246.3L889.8 245.2L890.5 239.1L891.2 229.5L891.9 221.2L892.6 222.1L893.3 233.1L894.0 243.5L894.7 241.8L895.4 229.1L896.1 217.0L896.8 213.6L897.5 215.6L898.2 215.9L898.9 214.3L899.6 216.8L900.3 225.6L901.0 234.2L901.7 236.5L902.4 234.0L903.1 230.7L903.8 225.5L904.5 217.4L905.2 212.8L905.9 219.9L906.6 237.0L907.3 252.7L908.0 259.8L908.7 260.5L909.4 256.7L910.1 245.8L910.8 229.1L911.5 215.8L912.2 212.6L912.9 215.8L913.6 217.6L914.3 215.3L915.0 213.5L915.7 218.5L916.4 230.4L917.1 240.9L917.8 241.6L918.5 231.9L919.2 220.1L919.9 214.1L920.6 214.5L921.3 216.3L922.0 216.3L922.7 215.5L923.4 215.4L924.1 216.1L924.8 217.0L925.5 217.9L926.2 218.6L926.9 218.8L927.6 217.9L928.3 216.4L929.0 216.0L929.7 217.6L930.4 220.1L931.1 221.0L931.8 219.7L932.5 218.0L933.2 218.6L933.9 221.6L934.6 223.2L935.3 221.6L936.0 218.2L936.7 215.6L937.4 215.3L938.1 216.9L938.8 219.0L939.5 220.1L940.2 220.5L940.9 223.2L941.6 227.4L942.3 232.2L943.0 236.6L943.7 241.5L944.4 247.2L945.1 251.7L945.8 252.4L946.5 252.0L947.2 256.6L947.9 267.1L948.6 276.5L949.3 278.4L950.0 275.6L950.7 276.4L951.4 284.0L952.1 292.8L952.9 293.6L953.6 285.0L954.3 276.4L955.0 275.9L955.7 278.5L956.4 273.1L957.1 258.6L957.8 244.1L958.5 236.4L959.2 236.0L959.9 242.2L960.6 255.0L961.3 270.5L962.0 280.9L962.7 280.7L963.4 272.5L964.1 264.1L964.8 259.3L965.5 254.8L966.2 248.4L966.9 243.9L967.6 244.4L968.3 247.7L969.0 249.0L969.7 245.7L970.4 238.9L971.1 234.1L971.8 236.0L972.5 243.5L973.2 251.5L973.9 257.3L974.6 261.3L975.3 265.6L976.0 270.1L976.7 271.5L977.4 267.9L978.1 263.9L978.8 265.9L979.5 274.0L980.2 280.8L980.9 279.5L981.6 270.8L982.3 262.6L983.0 261.6L983.7 265.1L984.4 263.8L985.1 253.8L985.8 241.7L986.5 237.7L987.2 247.0L987.9 265.9L988.6 283.4L989.3 287.6L990.0 275.7L990.7 258.2L991.4 249.9L992.1 257.0L992.8 273.2L993.5 285.7L994.2 286.2L994.9 277.7L995.6 269.5L996.3 266.2L997.0 263.6L997.7 256.7L998.4 247.7L999.1 242.8L999.8 244.3L1000.5 249.0L1001.2 253.9L1001.9 259.7L1002.6 268.3L1003.3 276.6L1004.0 277.9L1004.7 268.9L1005.4 253.3L1006.1 239.1L1006.8 232.3L1007.5 234.3L1008.2 243.1L1008.9 255.1L1009.6 265.4L1010.3 270.1L1011.0 269.2L1011.7 266.3L1012.4 264.1L1013.1 262.5L1013.8 264.3L1014.5 275.1L1015.2 290.1L1015.9 294.3L1016.6 282.7L1017.3 267.6L1018.0 259.4L1018.7 255.9L1019.4 253.6L1020.2 254.5L1020.9 259.9L1021.6 265.5L1022.3 267.1L1023.0 266.2L1023.7 267.9L1024.4 275.4L1025.1 285.2L1025.8 289.0L1026.5 283.4L1027.2 274.5L1027.9 268.4L1028.6 264.1L1029.3 260.6L1030.0 260.0L1030.7 263.4L1031.4 267.9L1032.1 270.1L1032.8 270.3L1033.5 270.0L1034.2 270.2L1034.9 270.9L1035.6 271.3L1036.3 271.4L1037.0 271.6L1037.7 273.5L1038.4 278.7L1039.1 285.9L1039.8 288.5L1040.5 281.0L1041.2 266.8L1041.9 256.7L1042.6 258.8L1043.3 270.8L1044.0 281.8L1044.7 283.0L1045.4 276.2L1046.1 269.6L1046.8 266.5L1047.5 264.0L1048.2 259.6L1048.9 255.9L1049.6 257.1L1050.3 261.8L1051.0 264.2L1051.7 261.7L1052.4 258.0L1053.1 257.9L1053.8 262.5L1054.5 270.1L1055.2 278.3L1055.9 285.3L1056.6 289.8L1057.3 290.5L1058.0 287.2L1058.7 283.0L1059.4 280.1L1060.1 276.5L1060.8 271.5L1061.5 268.6L1062.2 270.7L1062.9 276.1L1063.6 280.7L1064.3 281.5L1065.0 278.2L1065.7 273.4L1066.4 270.4L1067.1 270.5L1067.8 273.4L1068.5 276.3L1069.2 272.4L1069.9 258.6L1070.6 242.5L1071.3 237.0L1072.0 245.5L1072.7 259.0L1073.4 267.9L1074.1 270.2L1074.8 267.9L1075.5 262.1L1076.2 256.5L1076.9 257.3L1077.6 266.4L1078.3 278.4L1079.0 284.6L1079.7 280.2L1080.4 267.8L1081.1 255.7L1081.8 250.7L1082.5 254.0L1083.2 263.3L1083.9 274.1L1084.6 280.7L1085.3 281.7L1086.0 282.6L1086.7 287.4L1087.5 291.9L1088.2 289.4L1088.9 280.5L1089.6 272.5L1090.3 270.1L1091.0 271.3L1091.7 270.8L1092.4 265.6L1093.1 260.1L1093.8 261.7L1094.5 271.2L1095.2 279.5L1095.9 279.2L1096.6 274.2L1097.3 273.6L1098.0 278.5L1098.7 280.9L1099.4 274.3L1100.1 260.6L1100.8 248.4L1101.5 245.3L1102.2 252.1L1102.9 262.0L1103.6 266.7L1104.3 263.1L1105.0 256.3L1105.7 252.0L1106.4 249.9L1107.1 248.3L1107.8 251.0L1108.5 261.8L1109.2 275.8L1109.9 286.6L1110.6 294.0L1111.3 299.9L1112.0 301.6L1112.7 295.8L1113.4 284.3L1114.1 270.9L1114.8 259.7L1115.5 255.3L1116.2 259.7L1116.9 267.4L1117.6 270.5L1118.3 269.4L1119.0 271.3L1119.7 277.3L1120.4 280.5L1121.1 277.1L1121.8 271.2L1122.5 268.5L1123.2 268.9L1123.9 269.1L1124.6 268.2L1125.3 267.6L1126.0 268.0L1126.7 269.3L1127.4 270.4L1128.1 268.3L1128.8 261.2L1129.5 253.4L1130.2 252.9L1130.9 260.2L1131.6 265.6L1132.3 261.7L1133.0 253.2L1133.7 250.7L1134.4 258.0L1135.1 268.8L1135.8 273.2L1136.5 266.8L1137.2 256.4L1137.9 254.9L1138.6 267.6L1139.3 283.6L1140.0 286.8L1140.7 276.5L1141.4 268.1L1142.1 271.2L1142.8 277.6L1143.5 277.1L1144.2 272.2L1144.9 270.4L1145.6 271.2L1146.3 269.7L1147.0 266.0L1147.7 264.7L1148.4 266.8L1149.1 269.5L1149.8 271.0L1150.5 271.9L1151.2 272.0L1151.9 269.8L1152.6 265.7L1153.3 263.8L1154.0 266.5L1154.8 270.1L1155.5 270.0L1156.2 266.9L1156.9 266.3L1157.6 269.6L1158.3 271.2L1159.0 266.2L1159.7 258.6L1160.4 256.7L1161.1 263.3L1161.8 271.9L1162.5 274.5L1163.2 270.1L1163.9 267.5L1164.6 273.7L1165.3 282.1L1166.0 279.9L1166.7 266.6L1167.4 256.7L1168.1 261.7L1168.8 276.1L1169.5 284.9L1170.2 281.4L1170.9 271.3L1171.6 262.9L1172.3 261.4L1173.0 267.1L1173.7 274.3L1174.4 273.8L1175.1 263.3L1175.8 253.3L1176.5 255.1L1177.2 266.4L1177.9 274.8L1178.6 273.3L1179.3 267.2L1180.0 265.8L1180.7 272.1L1181.4 282.1L1182.1 290.2L1182.8 292.4L1183.5 288.0L1184.2 281.2L1184.9 275.9L1185.6 271.1L1186.3 264.2L1187.0 257.7L1187.7 255.5L1188.4 256.5L1189.1 257.5L1189.8 258.3L1190.5 260.9L1191.2 264.1L1191.9 264.2L1192.6 260.2L1193.3 255.6L1194.0 253.5L1194.7 252.7L1195.4 250.6L1196.1 247.6L1196.8 246.2L1197.5 246.4L1198.2 245.3L1198.9 240.6L1199.6 234.1L1200.3 230.1L1201.0 231.1L1201.7 235.7L1202.4 242.1L1203.1 248.9L1203.8 255.2L1204.5 259.9L1205.2 263.4L1205.9 267.2L1206.6 271.5L1207.3 275.3L1208.0 278.5L1208.7 282.3L1209.4 287.2L1210.1 292.1L1210.8 295.4L1211.5 297.8L1212.2 300.4L1212.9 303.4L1213.6 306.1L1214.3 307.4L1215.0 304.9L1215.7 295.3L1216.4 277.9L1217.1 258.0L1217.8 243.9L1218.5 241.5L1219.2 249.0L1219.9 259.9L1220.6 269.4L1221.3 276.0L1222.1 281.2L1222.8 286.5L1223.5 290.3L1224.2 290.2L1224.9 287.2L1225.6 284.0L1226.3 280.6L1227.0 274.6L1227.7 266.9L1228.4 263.0L1229.1 267.9L1229.8 281.0L1230.5 294.5L1231.2 298.8L1231.9 291.3L1232.6 277.8L1233.3 264.2L1234.0 253.3L1234.7 250.3L1235.4 262.9L1236.1 289.8L1236.8 316.8L1237.5 330.5L1238.2 331.2L1238.9 327.7L1239.6 324.6L1240.3 321.1L1241.0 317.5L1241.7 317.2L1242.4 320.4L1243.1 322.6L1243.8 319.5L1244.5 310.8L1245.2 299.1L1245.9 287.8L1246.6 280.0L1247.3 277.9L1248.0 281.1L1248.7 286.4L1249.4 290.6L1250.1 292.3L1250.8 291.3L1251.5 288.2L1252.2 282.9L1252.9 275.6L1253.6 267.3L1254.3 260.0L1255.0 256.6L1255.7 257.8L1256.4 260.8L1257.1 261.5L1257.8 259.1L1258.5 256.7L1259.2 256.8L1259.9 258.0L1260.6 259.0L1261.3 260.0L1262.0 262.5L1262.7 265.7L1263.4 266.8L1264.1 263.4L1264.8 255.0L1265.5 242.1L1266.2 226.8L1266.9 214.3L1267.6 211.9L1268.3 222.0L1269.0 238.8L1269.7 253.2L1270.4 262.6L1271.1 271.0L1271.8 280.0L1272.5 286.4L1273.2 287.2L1273.9 284.1L1274.6 280.6L1275.3 280.2L1276.0 284.8L1276.7 294.4L1277.4 307.2L1278.1 321.4L1278.8 334.5L1279.5 341.6L1280.2 338.5L1280.9 325.6L1281.6 306.2L1282.3 282.5L1283.0 259.5L1283.7 247.4L1284.4 252.6L1285.1 270.0L1285.8 289.6L1286.5 307.2L1287.2 324.2L1287.9 339.4L1288.6 347.7L1289.4 347.4L1290.1 342.9L1290.8 337.5L1291.5 329.2L1292.2 315.9L1292.9 300.9L1293.6 290.5L1294.3 288.2L1295.0 292.3L1295.7 297.5L1296.4 300.6L1297.1 302.7L1297.8 307.6L1298.5 318.3L1299.2 334.3L1299.9 350.2L1300.6 359.3L1301.3 360.1L1302.0 358.2L1302.7 359.8L1303.4 363.8L1304.1 365.1L1304.8 362.9L1305.5 361.2L1306.2 363.1L1306.9 368.4L1307.6 375.2L1308.3 379.6L1309.0 377.2L1309.7 365.8L1310.4 348.8L1311.1 333.9L1311.8 326.4L1312.5 324.4L1313.2 322.5L1313.9 320.4L1314.6 323.3L1315.3 333.7L1316.0 347.2L1316.7 358.5L1317.4 366.5L1318.1 371.6L1318.8 373.9L1319.5 373.3L1320.2 370.1L1320.9 364.8L1321.6 358.6L1322.3 355.6L1323.0 358.9L1323.7 366.1L1324.4 372.1L1325.1 376.4L1325.8 381.3L1326.5 384.7L1327.2 381.1L1327.9 369.0L1328.6 352.5L1329.3 335.4L1330.0 318.4L1330.7 304.5L1331.4 300.7L1332.1 311.3L1332.8 332.0L1333.5 353.3L1334.2 367.0L1334.9 370.7L1335.6 367.5L1336.3 361.6L1337.0 354.5L1337.7 346.6L1338.4 340.4L1339.1 337.7L1339.8 336.6L1340.5 336.8L1341.2 344.7L1341.9 364.5L1342.6 387.2L1343.3 397.1L1344.0 389.6L1344.7 375.0L1345.4 365.6L1346.1 365.1L1346.8 371.1L1347.5 381.4L1348.2 394.2L1348.9 403.9L1349.6 402.7L1350.3 388.0L1351.0 366.1L1351.7 345.3L1352.4 327.9L1353.1 310.3L1353.8 289.1L1354.5 264.8L1355.2 242.2L1355.9 229.9L1356.7 235.8L1357.4 260.3L1358.1 293.6L1358.8 318.5L1359.5 320.5L1360.2 302.3L1360.9 285.8L1361.6 291.7L1362.3 315.3L1363.0 328.8L1363.7 311.2L1364.4 269.9L1365.1 233.2L1365.8 223.9L1366.5 241.2L1367.2 266.2L1367.9 282.5L1368.6 288.4L1369.3 290.8L1370.0 293.8L1370.7 294.8L1371.4 290.7L1372.1 282.4L1372.8 273.5L1373.5 266.3L1374.2 260.1L1374.9 252.3L1375.6 241.7L1376.3 233.5L1377.0 238.2L1377.7 262.1L1378.4 298.9L1379.1 332.3L1379.8 348.7L1380.5 347.0L1381.2 336.6L1381.9 326.6L1382.6 319.3L1383.3 313.1L1384.0 306.9L1384.7 301.1L1385.4 295.8L1386.1 290.0L1386.8 283.7L1387.5 279.2L1388.2 280.1L1388.9 287.6L1389.6 298.0L1390.3 304.5L1391.0 301.9L1391.7 291.3L1392.4 277.9L1393.1 265.0L1393.8 251.5L1394.5 236.9L1395.2 228.0L1395.9 234.3L1396.6 258.0L1397.3 288.5L1398.0 308.6L1398.7 306.5L1399.4 283.7L1400.1 253.4L1400.8 230.6L1401.5 223.7L1402.2 231.6L1402.9 246.0L1403.6 256.7L1404.3 255.7L1405.0 241.6L1405.7 223.6L1406.4 215.4L1407.1 220.6L1407.8 227.7L1408.5 224.9L1409.2 216.5L1409.9 217.0L1410.6 230.4L1411.3 243.0L1412.0 242.2L1412.7 232.2L1413.4 224.5L1414.1 221.9L1414.8 221.0L1415.5 220.2L1416.2 219.2L1416.9 218.3L1417.6 219.4L1418.3 223.4L1419.0 226.2L1419.7 224.2L1420.4 220.3L1421.1 219.4L1421.8 221.2L1422.5 221.1L1423.2 218.5L1424.0 216.7L1424.7 217.1L1425.4 217.6L1426.1 216.6L1426.8 215.4L1427.5 215.3L1428.2 215.7L1428.9 215.4L1429.6 214.7L1430.3 214.5L1431.0 215.1L1431.7 215.5L1432.4 214.7L1433.1 213.7L1433.8 214.8L1434.5 218.9L1435.2 222.4L1435.9 221.6L1436.6 217.4L1437.3 214.1L1438.0 214.1L1438.7 215.8L1439.4 217.0L1440.1 216.8L1440.8 215.6L1441.5 214.7L1442.2 215.1L1442.9 216.3L1443.6 217.0L1444.3 216.4L1445.0 215.2L1445.7 214.6L1446.4 214.7L1447.1 215.0L1447.8 215.1L1448.5 214.9L1449.2 214.5L1449.9 214.8L1450.6 216.3L1451.3 218.4L1452.0 219.1L1452.7 217.7L1453.4 215.4L1454.1 214.3L1454.8 214.5L1455.5 215.1L1456.2 215.6L1456.9 215.9L1457.6 215.8L1458.3 215.3L1459.0 214.9L1459.7 214.8L1460.4 214.9L1461.1 214.9L1461.8 215.0" stroke="#ff7f0e" stroke-width="2.1" stroke-linejoin="round" stroke-linecap="square" fill="none"/></g>
<path d="M116.50 518.5v5M284.75 518.5v5M453.00 518.5v5M621.25 518.5v5M789.50 518.5v5M957.75 518.5v5M1126.00 518.5v5M1294.25 518.5v5M116.5 49.40h-5M116.5 105.40h-5M116.5 161.40h-5M116.5 217.40h-5M116.5 273.40h-5M116.5 329.40h-5M116.5 385.40h-5M116.5 441.40h-5M116.5 497.40h-5" stroke="#000" stroke-width="1.1" fill="none"/>
<rect x="116.5" y="38.5" width="1346.0" height="480.0" fill="none" stroke="#000" stroke-width="1.1"/>
<text x="105.9" y="57.10" font-size="22.22" text-anchor="end">3</text>
<text x="105.9" y="113.10" font-size="22.22" text-anchor="end">2</text>
<text x="105.9" y="169.10" font-size="22.22" text-anchor="end">1</text>
<text x="105.9" y="225.10" font-size="22.22" text-anchor="end">0</text>
<text x="105.9" y="281.10" font-size="22.22" text-anchor="end">−1</text>
<text x="105.9" y="337.10" font-size="22.22" text-anchor="end">−2</text>
<text x="105.9" y="393.10" font-size="22.22" text-anchor="end">−3</text>
<text x="105.9" y="449.10" font-size="22.22" text-anchor="end">−4</text>
<text x="105.9" y="505.10" font-size="22.22" text-anchor="end">−5</text>
<text transform="translate(62.5 279.3) rotate(-90)" font-size="22.22" text-anchor="middle">Doppler Shift [Hz]</text>
<rect x="1047.6" y="48.8" width="405.8" height="79.3" rx="3.3" fill="#fff" fill-opacity="0.8" stroke="#ccc" stroke-opacity="0.8" stroke-width="1.1"/>
<circle cx="1073.5" cy="63.6" r="2.9" fill="#1f77b4"/>
<path d="M1053 102.0H1092" stroke="#ff7f0e" stroke-width="2.1"/>
<text font-size="18.52" x="1106" y="68.7">Raw Data</text>
<text font-size="18.52" x="1106" y="95.9">Butterworth Filtered Data</text>
<text font-size="18.52" x="1106" y="117.8">(N=6, Tc=3.3333 min, Type: low)</text>
<rect x="788.50" y="575.5" width="580.00" height="479.0" fill="#d3d3d3" fill-opacity="0.5" stroke="#d3d3d3" stroke-opacity="0.5" stroke-width="1"/>
<path d="M116.50 575.5V1054.5M284.75 575.5V1054.5M453.00 575.5V1054.5M621.25 575.5V1054.5M789.50 575.5V1054.5M957.75 575.5V1054.5M1126.00 575.5V1054.5M1294.25 575.5V1054.5M116.5 627.00H1462.5M116.5 708.28H1462.5M116.5 789.56H1462.5M116.5 870.84H1462.5M116.5 952.12H1462.5M116.5 1033.40H1462.5" stroke="#b0b0b0" stroke-width="1.1" stroke-dasharray="1.11 1.83" fill="none"/>
<g clip-path="url(#c2)"><path d="M115.5 964v37M115.5 1002v5M115.5 1009v5M115.5 1015v5M116.5 940v21M116.5 962v58M117.5 939v81M118.5 936v84M119.5 926v94M120.5 926v94M121.5 926v94M122.5 927v7M122.5 935v5M122.5 941v79M123.5 957v8M123.5 967v54M124.5 968v52M125.5 969v51M126.5 930v10M126.5 941v78M127.5 924v94M128.5 874v5M128.5 886v7M128.5 902v6M128.5 924v94M129.5 873v7M129.5 886v22M129.5 913v9M129.5 923v95M130.5 873v7M130.5 886v36M130.5 924v94M131.5 873v7M131.5 886v121M131.5 1011v5M132.5 891v4M132.5 896v6M132.5 906v103M133.5 907v103M133.5 1015v4M134.5 907v106M134.5 1015v4M135.5 867v4M135.5 913v5M135.5 921v98M136.5 844v7M136.5 866v6M136.5 878v4M136.5 903v9M136.5 913v105M137.5 844v12M137.5 864v8M137.5 875v13M137.5 892v7M137.5 902v113M138.5 844v12M138.5 864v8M138.5 875v13M138.5 889v12M138.5 902v113M139.5 847v9M139.5 864v8M139.5 875v4M139.5 881v134M140.5 849v5M140.5 865v6M140.5 881v133M141.5 888v127M142.5 888v4M142.5 895v113M142.5 1009v5M143.5 896v4M143.5 901v11M143.5 914v93M143.5 1010v4M144.5 915v95M145.5 916v94M145.5 1012v4M146.5 912v105M147.5 906v112M148.5 902v116M149.5 902v117M150.5 857v4M150.5 865v6M150.5 901v118M151.5 851v4M151.5 857v4M151.5 865v17M151.5 886v11M151.5 900v11M151.5 913v106M152.5 850v5M152.5 857v4M152.5 865v17M152.5 885v27M152.5 913v106M153.5 850v5M153.5 865v153M154.5 851v5M154.5 866v151M155.5 851v4M155.5 867v4M155.5 882v135M156.5 882v8M156.5 893v9M156.5 907v105M156.5 1013v4M157.5 906v105M158.5 906v106M159.5 905v110M160.5 904v10M160.5 916v100M161.5 903v11M161.5 916v101M162.5 903v11M162.5 916v102M163.5 903v11M163.5 916v102M164.5 918v100M165.5 919v97M166.5 892v10M166.5 903v10M166.5 917v94M167.5 892v22M167.5 916v96M168.5 892v124M169.5 893v124M170.5 904v113M171.5 903v114M172.5 892v9M172.5 903v114M173.5 892v9M173.5 902v117M174.5 892v9M174.5 903v116M175.5 897v122M176.5 901v117M177.5 901v116M178.5 901v115M179.5 880v17M179.5 902v113M180.5 880v17M180.5 902v12M180.5 915v100M181.5 880v17M181.5 901v12M181.5 915v87M181.5 1004v10M182.5 864v6M182.5 874v4M182.5 879v6M182.5 886v11M182.5 899v14M182.5 916v17M182.5 934v67M182.5 1002v12M183.5 864v6M183.5 874v4M183.5 879v5M183.5 889v8M183.5 899v13M183.5 917v15M183.5 934v84M184.5 864v6M184.5 874v4M184.5 879v4M184.5 889v8M184.5 899v12M184.5 917v15M184.5 933v87M185.5 865v5M185.5 890v6M185.5 900v4M185.5 906v5M185.5 917v103M186.5 906v10M186.5 917v103M187.5 895v5M187.5 905v115M188.5 880v5M188.5 890v12M188.5 905v114M189.5 880v5M189.5 889v13M189.5 904v114M190.5 880v5M190.5 889v13M190.5 904v115M191.5 889v13M191.5 904v9M191.5 916v105M192.5 928v14M192.5 944v77M193.5 932v9M193.5 944v72M193.5 1017v4M194.5 944v70M195.5 943v74M196.5 942v5M196.5 948v70M197.5 925v8M197.5 934v7M197.5 942v76M198.5 923v95M199.5 908v8M199.5 917v99M199.5 1017v4M200.5 908v107M200.5 1017v4M201.5 908v113M202.5 909v112M203.5 913v10M203.5 925v94M204.5 915v4M204.5 925v94M205.5 915v16M205.5 932v86M206.5 915v13M206.5 932v86M207.5 903v6M207.5 915v97M208.5 897v4M208.5 902v8M208.5 915v97M209.5 869v12M209.5 884v5M209.5 891v4M209.5 897v4M209.5 902v8M209.5 918v95M210.5 869v12M210.5 884v5M210.5 891v4M210.5 897v4M210.5 902v115M211.5 869v12M211.5 884v5M211.5 891v4M211.5 902v116M212.5 869v8M212.5 884v5M212.5 903v115M213.5 903v116M214.5 927v92M215.5 929v90M216.5 928v91M217.5 928v91M218.5 928v91M219.5 932v86M220.5 932v86M221.5 932v84M222.5 941v75M223.5 942v75M224.5 943v75M225.5 944v75M226.5 945v74M227.5 947v5M227.5 953v67M228.5 952v67M229.5 951v68M230.5 948v71M231.5 946v73M232.5 946v67M232.5 1014v4M233.5 946v67M233.5 1014v5M234.5 947v73M235.5 954v66M236.5 935v9M236.5 954v66M237.5 935v84M238.5 935v83M239.5 935v85M240.5 937v83M241.5 940v80M242.5 940v5M242.5 953v67M243.5 887v4M243.5 893v7M243.5 953v67M244.5 861v6M244.5 874v4M244.5 886v16M244.5 908v4M244.5 914v23M244.5 940v8M244.5 949v70M245.5 861v11M245.5 874v4M245.5 886v17M245.5 908v4M245.5 914v24M245.5 940v78M246.5 861v11M246.5 874v4M246.5 886v17M246.5 908v4M246.5 914v103M247.5 861v11M247.5 887v6M247.5 897v6M247.5 914v103M248.5 865v7M248.5 887v4M248.5 926v7M248.5 934v83M249.5 935v84M250.5 937v83M251.5 937v83M252.5 938v82M253.5 950v71M254.5 929v6M254.5 936v85M255.5 929v92M256.5 928v93M257.5 889v9M257.5 906v4M257.5 920v4M257.5 928v90M258.5 889v9M258.5 906v4M258.5 920v4M258.5 928v90M259.5 889v9M259.5 906v4M259.5 920v4M259.5 928v90M260.5 890v8M260.5 906v4M260.5 929v91M261.5 932v89M262.5 934v87M263.5 945v76M264.5 946v73M265.5 947v71M266.5 946v73M267.5 946v73M268.5 946v73M269.5 947v72M270.5 953v65M271.5 953v63M272.5 932v6M272.5 940v72M272.5 1013v5M273.5 932v6M273.5 939v81M274.5 932v6M274.5 939v81M275.5 932v6M275.5 939v81M276.5 960v59M277.5 960v57M278.5 960v56M279.5 939v8M279.5 949v5M279.5 960v56M280.5 939v78M281.5 939v78M282.5 939v79M283.5 945v73M284.5 945v74M285.5 936v7M285.5 945v73M286.5 936v8M286.5 945v74M287.5 935v85M288.5 933v88M289.5 917v10M289.5 929v92M290.5 916v105M291.5 914v105M292.5 904v9M292.5 914v104M293.5 903v115M294.5 903v10M294.5 914v100M294.5 1015v5M295.5 903v10M295.5 915v105M296.5 905v7M296.5 915v8M296.5 932v88M297.5 906v5M297.5 916v5M297.5 932v89M298.5 906v4M298.5 916v5M298.5 931v90M299.5 931v90M300.5 931v88M301.5 824v4M301.5 848v7M301.5 874v4M301.5 908v4M301.5 921v7M301.5 931v87M302.5 821v8M302.5 833v4M302.5 847v10M302.5 866v12M302.5 882v5M302.5 900v4M302.5 907v5M302.5 921v7M302.5 932v6M302.5 939v80M303.5 821v7M303.5 833v4M303.5 846v11M303.5 866v12M303.5 882v5M303.5 900v4M303.5 906v6M303.5 920v8M303.5 931v88M304.5 821v7M304.5 833v4M304.5 846v11M304.5 866v11M304.5 882v5M304.5 900v4M304.5 906v4M304.5 921v6M304.5 931v88M305.5 846v10M305.5 866v8M305.5 882v5M305.5 906v4M305.5 921v4M305.5 931v81M306.5 833v6M306.5 846v4M306.5 861v7M306.5 869v4M306.5 932v79M306.5 1012v6M307.5 833v6M307.5 861v6M307.5 869v5M307.5 875v5M307.5 885v4M307.5 899v4M307.5 911v5M307.5 925v93M308.5 833v6M308.5 843v5M308.5 851v7M308.5 861v19M308.5 885v4M308.5 893v4M308.5 899v5M308.5 906v112M309.5 833v6M309.5 843v5M309.5 851v8M309.5 861v19M309.5 885v4M309.5 893v4M309.5 899v5M309.5 906v105M309.5 1012v5M310.5 834v4M310.5 843v5M310.5 851v8M310.5 865v14M310.5 893v4M310.5 900v4M310.5 906v106M311.5 843v5M311.5 855v4M311.5 866v4M311.5 872v5M311.5 900v4M311.5 907v110M312.5 917v100M313.5 917v102M314.5 917v102M315.5 890v10M315.5 903v4M315.5 913v106M316.5 886v15M316.5 903v115M317.5 886v15M317.5 903v114M318.5 886v15M318.5 903v114M319.5 887v14M319.5 905v11M319.5 918v99M320.5 924v92M321.5 923v93M322.5 923v92M323.5 884v6M323.5 891v4M323.5 898v4M323.5 903v4M323.5 917v4M323.5 923v91M324.5 884v11M324.5 898v4M324.5 903v4M324.5 914v100M325.5 884v11M325.5 898v4M325.5 903v4M325.5 909v107M326.5 884v11M326.5 903v114M327.5 883v4M327.5 888v12M327.5 902v115M328.5 883v4M328.5 888v129M329.5 883v4M329.5 889v128M330.5 890v15M330.5 906v110M331.5 908v8M331.5 921v96M332.5 923v87M332.5 1012v5M333.5 923v87M333.5 1012v5M334.5 922v88M334.5 1012v4M335.5 921v89M335.5 1012v4M336.5 918v92M336.5 1012v4M337.5 900v9M337.5 917v92M338.5 899v17M338.5 917v91M339.5 899v17M339.5 917v91M340.5 899v17M340.5 918v94M341.5 903v12M341.5 918v94M342.5 905v7M342.5 915v98M343.5 905v7M343.5 915v98M344.5 875v12M344.5 891v6M344.5 904v8M344.5 913v94M344.5 1008v5M345.5 875v12M345.5 891v6M345.5 904v103M345.5 1009v4M346.5 875v12M346.5 891v6M346.5 904v104M347.5 875v4M347.5 880v6M347.5 891v5M347.5 904v105M348.5 906v105M349.5 907v9M349.5 917v95M350.5 908v104M351.5 907v105M352.5 907v14M352.5 922v90M353.5 907v13M353.5 923v85M354.5 895v9M354.5 907v9M354.5 922v86M355.5 895v9M355.5 906v10M355.5 921v86M356.5 895v9M356.5 906v9M356.5 921v87M357.5 906v9M357.5 921v87M358.5 906v9M358.5 920v88M359.5 910v98M360.5 909v98M361.5 901v4M361.5 907v100M362.5 891v5M362.5 897v103M363.5 891v5M363.5 897v107M364.5 891v5M364.5 897v108M365.5 891v4M365.5 898v107M366.5 903v102M367.5 903v102M368.5 904v6M368.5 912v92M369.5 913v91M370.5 912v91M371.5 910v92M372.5 910v93M373.5 910v94M374.5 909v86M374.5 996v8M375.5 864v20M375.5 885v11M375.5 898v96M375.5 996v8M376.5 862v129M376.5 995v5M377.5 847v4M377.5 854v6M377.5 862v127M377.5 995v4M378.5 838v161M379.5 814v4M379.5 820v8M379.5 838v161M380.5 814v4M380.5 820v8M380.5 838v48M380.5 887v110M381.5 814v4M381.5 820v8M381.5 838v48M381.5 888v109M382.5 856v27M382.5 887v110M383.5 856v8M383.5 867v15M383.5 887v110M384.5 857v7M384.5 867v12M384.5 886v111M385.5 858v6M385.5 868v11M385.5 883v9M385.5 893v105M386.5 866v9M386.5 876v122M387.5 866v26M387.5 893v106M388.5 866v9M388.5 876v15M388.5 893v105M389.5 867v7M389.5 876v12M389.5 896v105M390.5 877v5M390.5 883v6M390.5 895v106M391.5 879v15M391.5 895v106M392.5 878v123M393.5 878v123M394.5 878v124M395.5 903v101M396.5 905v99M397.5 905v100M398.5 905v6M398.5 914v13M398.5 928v78M399.5 916v10M399.5 928v79M400.5 925v83M401.5 925v84M402.5 925v84M403.5 925v85M404.5 925v10M404.5 936v75M405.5 927v8M405.5 937v74M406.5 927v84M407.5 927v78M407.5 1006v5M408.5 916v8M408.5 925v80M409.5 886v6M409.5 894v6M409.5 901v98M410.5 886v7M410.5 894v109M411.5 836v5M411.5 885v123M412.5 836v5M412.5 851v4M412.5 859v4M412.5 870v10M412.5 882v126M413.5 836v7M413.5 851v4M413.5 859v5M413.5 868v13M413.5 882v126M414.5 826v6M414.5 836v8M414.5 851v4M414.5 857v8M414.5 867v14M414.5 882v126M415.5 826v6M415.5 837v7M415.5 857v8M415.5 867v14M415.5 882v125M416.5 826v6M416.5 838v6M416.5 857v8M416.5 867v10M416.5 882v126M417.5 826v5M417.5 839v5M417.5 882v125M418.5 882v125M419.5 882v13M419.5 900v4M419.5 906v102M420.5 907v102M421.5 906v103M422.5 904v105M423.5 863v6M423.5 903v104M424.5 790v4M424.5 799v6M424.5 806v12M424.5 823v13M424.5 843v5M424.5 857v12M424.5 876v4M424.5 888v6M424.5 895v110M425.5 790v4M425.5 798v42M425.5 841v7M425.5 854v26M425.5 887v114M426.5 790v4M426.5 798v42M426.5 841v39M426.5 887v114M427.5 798v9M427.5 811v24M427.5 836v4M427.5 841v22M427.5 870v10M427.5 887v115M428.5 798v4M428.5 823v7M428.5 846v16M428.5 870v10M428.5 886v117M428.5 1007v4M429.5 824v4M429.5 886v117M429.5 1007v4M430.5 885v126M431.5 885v12M431.5 899v111M432.5 884v123M433.5 878v128M434.5 878v127M435.5 878v126M436.5 878v38M436.5 917v88M436.5 1006v5M437.5 872v5M437.5 879v6M437.5 892v4M437.5 897v114M438.5 872v5M438.5 879v7M438.5 891v5M438.5 897v7M438.5 905v106M439.5 872v5M439.5 879v6M439.5 892v4M439.5 898v4M439.5 903v108M440.5 880v5M440.5 898v112M441.5 892v118M442.5 892v118M443.5 891v119M444.5 891v119M445.5 874v8M445.5 887v114M446.5 874v8M446.5 886v116M447.5 874v9M447.5 886v116M448.5 874v8M448.5 886v116M449.5 875v9M449.5 888v114M450.5 876v9M450.5 889v107M450.5 997v6M451.5 875v10M451.5 889v107M451.5 997v7M452.5 870v15M452.5 886v118M453.5 864v4M453.5 870v22M453.5 894v110M454.5 859v9M454.5 870v23M454.5 895v108M455.5 859v9M455.5 870v22M455.5 894v110M456.5 859v9M456.5 872v20M456.5 893v105M456.5 999v4M457.5 874v4M457.5 883v114M457.5 1004v4M458.5 868v129M458.5 1004v4M459.5 840v5M459.5 865v133M459.5 999v4M459.5 1004v4M460.5 840v6M460.5 848v4M460.5 854v4M460.5 865v138M461.5 840v6M461.5 848v4M461.5 854v4M461.5 865v138M462.5 840v6M462.5 848v4M462.5 854v4M462.5 865v141M463.5 866v140M464.5 868v138M465.5 868v7M465.5 876v130M466.5 868v8M466.5 877v6M466.5 885v108M466.5 995v11M467.5 864v19M467.5 884v110M467.5 996v9M468.5 850v6M468.5 861v144M469.5 775v9M469.5 791v6M469.5 813v4M469.5 822v7M469.5 833v6M469.5 843v4M469.5 848v8M469.5 857v138M469.5 996v4M470.5 775v10M470.5 791v11M470.5 812v5M470.5 821v9M470.5 832v7M470.5 843v152M471.5 774v45M471.5 820v175M472.5 775v207M472.5 983v5M472.5 990v5M473.5 765v7M473.5 775v60M473.5 837v128M473.5 966v22M473.5 990v5M474.5 765v7M474.5 774v23M474.5 798v37M474.5 836v159M475.5 765v7M475.5 775v16M475.5 793v4M475.5 799v12M475.5 815v5M475.5 823v168M475.5 997v4M476.5 765v8M476.5 781v16M476.5 798v7M476.5 806v7M476.5 814v177M476.5 997v4M477.5 749v4M477.5 762v5M477.5 770v4M477.5 775v4M477.5 781v4M477.5 788v203M477.5 997v4M478.5 734v11M478.5 749v4M478.5 757v10M478.5 770v15M478.5 788v203M478.5 997v4M479.5 734v11M479.5 749v4M479.5 757v10M479.5 770v15M479.5 789v196M479.5 987v6M479.5 996v4M480.5 734v11M480.5 757v10M480.5 774v10M480.5 789v8M480.5 798v188M480.5 989v6M480.5 996v4M481.5 734v7M481.5 757v7M481.5 774v4M481.5 799v4M481.5 804v63M481.5 868v119M481.5 989v11M482.5 809v7M482.5 819v59M482.5 879v116M482.5 996v5M483.5 819v176M483.5 997v4M484.5 818v26M484.5 846v20M484.5 867v19M484.5 887v107M484.5 997v4M485.5 797v6M485.5 818v26M485.5 846v20M485.5 867v18M485.5 887v106M485.5 997v4M486.5 781v5M486.5 796v8M486.5 818v11M486.5 830v9M486.5 840v4M486.5 847v146M487.5 781v5M487.5 796v8M487.5 814v8M487.5 823v6M487.5 831v8M487.5 845v149M488.5 781v5M488.5 796v8M488.5 814v8M488.5 825v169M489.5 807v5M489.5 814v180M490.5 750v7M490.5 762v5M490.5 769v4M490.5 784v4M490.5 790v4M490.5 805v184M491.5 750v230M491.5 982v5M492.5 735v4M492.5 741v4M492.5 750v230M492.5 982v5M493.5 735v5M493.5 741v4M493.5 750v216M493.5 975v5M493.5 982v4M494.5 735v4M494.5 741v8M494.5 750v214M494.5 972v7M495.5 735v4M495.5 741v19M495.5 761v24M495.5 786v179M495.5 971v8M496.5 735v4M496.5 741v9M496.5 751v8M496.5 762v15M496.5 778v5M496.5 787v4M496.5 792v4M496.5 805v176M497.5 741v9M497.5 763v4M497.5 769v8M497.5 779v4M497.5 810v178M497.5 993v4M498.5 811v14M498.5 828v14M498.5 854v136M498.5 993v4M499.5 854v4M499.5 860v132M499.5 993v4M500.5 819v6M500.5 835v16M500.5 852v140M501.5 776v4M501.5 788v6M501.5 799v18M501.5 819v173M502.5 770v4M502.5 775v5M502.5 782v4M502.5 787v206M503.5 770v4M503.5 775v5M503.5 782v4M503.5 787v208M504.5 770v4M504.5 775v5M504.5 782v4M504.5 787v208M505.5 789v4M505.5 795v193M505.5 990v5M506.5 795v193M506.5 989v6M507.5 796v37M507.5 834v148M507.5 984v9M508.5 766v4M508.5 772v4M508.5 777v4M508.5 796v186M508.5 984v4M508.5 989v4M509.5 766v4M509.5 772v4M509.5 777v4M509.5 796v184M510.5 766v4M510.5 772v4M510.5 777v4M510.5 796v175M510.5 973v6M511.5 810v162M511.5 980v4M512.5 810v165M512.5 980v5M513.5 810v166M513.5 979v6M514.5 810v4M514.5 815v10M514.5 827v149M514.5 979v6M515.5 815v10M515.5 826v150M515.5 979v6M516.5 815v16M516.5 832v144M516.5 979v5M517.5 807v152M517.5 960v11M518.5 806v152M518.5 967v4M519.5 804v154M519.5 967v4M520.5 803v159M520.5 968v9M521.5 791v4M521.5 797v167M521.5 967v10M522.5 716v4M522.5 739v4M522.5 765v4M522.5 771v4M522.5 776v8M522.5 786v133M522.5 921v44M522.5 966v11M523.5 700v7M523.5 712v8M523.5 739v4M523.5 753v4M523.5 764v167M523.5 932v33M523.5 966v11M524.5 700v7M524.5 712v8M524.5 739v4M524.5 753v4M524.5 759v171M524.5 936v14M524.5 951v4M524.5 956v9M524.5 966v7M525.5 700v7M525.5 712v8M525.5 753v4M525.5 759v176M525.5 937v13M525.5 960v4M525.5 967v7M526.5 701v6M526.5 712v7M526.5 759v191M526.5 952v4M526.5 960v4M526.5 966v9M527.5 759v23M527.5 783v167M527.5 951v7M527.5 959v19M528.5 763v18M528.5 784v12M528.5 797v6M528.5 806v14M528.5 822v129M528.5 952v26M529.5 768v9M529.5 786v5M529.5 811v9M529.5 822v27M529.5 850v129M530.5 829v21M530.5 851v128M531.5 831v148M532.5 792v8M532.5 807v4M532.5 819v4M532.5 824v5M532.5 832v147M533.5 689v4M533.5 707v5M533.5 741v5M533.5 757v4M533.5 779v6M533.5 786v4M533.5 792v11M533.5 807v7M533.5 819v12M533.5 833v146M534.5 689v4M534.5 697v7M534.5 707v5M534.5 716v14M534.5 731v4M534.5 739v8M534.5 749v4M534.5 757v15M534.5 776v14M534.5 792v187M535.5 689v4M535.5 697v7M535.5 707v5M535.5 716v14M535.5 731v4M535.5 739v8M535.5 749v4M535.5 756v16M535.5 775v15M535.5 792v166M535.5 959v21M536.5 697v7M536.5 716v14M536.5 731v4M536.5 739v8M536.5 749v4M536.5 756v32M536.5 794v181M536.5 976v5M537.5 697v6M537.5 740v5M537.5 756v8M537.5 769v19M537.5 791v191M537.5 987v4M538.5 771v4M538.5 777v10M538.5 790v31M538.5 822v160M538.5 987v4M539.5 771v4M539.5 779v8M539.5 790v29M539.5 824v17M539.5 843v139M539.5 987v4M540.5 790v4M540.5 796v6M540.5 808v8M540.5 825v5M540.5 832v7M540.5 844v139M541.5 859v128M541.5 988v9M542.5 859v7M542.5 867v120M542.5 988v9M543.5 856v9M543.5 867v120M543.5 988v9M544.5 841v13M544.5 855v6M544.5 866v5M544.5 872v114M544.5 988v10M545.5 700v7M545.5 708v5M545.5 716v4M545.5 730v4M545.5 762v4M545.5 791v4M545.5 803v4M545.5 817v4M545.5 828v4M545.5 837v24M545.5 865v7M545.5 873v112M545.5 989v10M546.5 699v21M546.5 730v4M546.5 748v4M546.5 762v4M546.5 791v10M546.5 802v5M546.5 810v5M546.5 817v4M546.5 827v5M546.5 836v25M546.5 864v122M546.5 991v8M547.5 699v21M547.5 730v4M547.5 748v4M547.5 762v4M547.5 772v4M547.5 787v22M547.5 810v5M547.5 816v16M547.5 834v27M547.5 863v123M547.5 993v6M548.5 699v17M548.5 748v4M548.5 772v4M548.5 787v28M548.5 816v16M548.5 834v152M548.5 994v5M549.5 699v10M549.5 712v4M549.5 772v4M549.5 787v22M549.5 810v23M549.5 834v154M550.5 788v21M550.5 810v23M550.5 835v18M550.5 855v108M550.5 966v23M551.5 795v5M551.5 801v8M551.5 812v21M551.5 835v19M551.5 855v110M551.5 966v27M552.5 802v7M552.5 812v21M552.5 834v159M552.5 997v4M552.5 1003v4M553.5 803v6M553.5 810v4M553.5 816v17M553.5 834v160M553.5 996v5M553.5 1003v4M554.5 798v9M554.5 810v4M554.5 816v180M554.5 997v4M554.5 1003v4M555.5 798v9M555.5 809v5M555.5 817v184M556.5 798v8M556.5 810v4M556.5 817v179M556.5 997v4M557.5 804v197M558.5 805v37M558.5 843v149M558.5 995v6M559.5 760v5M559.5 781v5M559.5 787v4M559.5 792v5M559.5 800v201M560.5 760v5M560.5 781v209M560.5 991v10M561.5 738v4M561.5 753v4M561.5 760v5M561.5 781v5M561.5 787v214M562.5 738v4M562.5 753v5M562.5 759v17M562.5 782v4M562.5 788v213M563.5 738v4M563.5 753v27M563.5 781v36M563.5 818v10M563.5 829v171M564.5 756v214M564.5 972v20M564.5 994v5M565.5 686v5M565.5 694v4M565.5 711v4M565.5 719v9M565.5 744v10M565.5 757v135M565.5 893v87M565.5 981v11M565.5 994v4M566.5 682v10M566.5 693v6M566.5 703v5M566.5 711v4M566.5 719v10M566.5 731v4M566.5 744v11M566.5 757v15M566.5 774v116M566.5 893v32M566.5 926v47M566.5 974v5M566.5 983v4M567.5 674v18M567.5 693v6M567.5 703v6M567.5 711v26M567.5 738v35M567.5 774v116M567.5 892v81M567.5 989v5M568.5 674v18M568.5 693v6M568.5 703v6M568.5 711v26M568.5 738v235M568.5 975v4M568.5 989v5M569.5 674v12M569.5 704v5M569.5 715v22M569.5 738v35M569.5 774v25M569.5 800v147M569.5 948v25M569.5 975v4M569.5 989v5M570.5 675v6M570.5 716v8M570.5 726v10M570.5 739v33M570.5 774v25M570.5 800v148M570.5 949v5M570.5 955v11M570.5 968v6M570.5 975v4M570.5 981v4M570.5 988v4M571.5 719v4M571.5 727v5M571.5 741v15M571.5 758v13M571.5 779v10M571.5 791v162M571.5 954v11M571.5 968v11M571.5 980v5M571.5 988v4M572.5 727v5M572.5 739v14M572.5 759v11M572.5 779v171M572.5 954v12M572.5 969v8M572.5 979v6M572.5 988v10M573.5 711v4M573.5 726v7M573.5 738v5M573.5 745v11M573.5 759v13M573.5 774v178M573.5 953v13M573.5 968v9M573.5 978v7M573.5 989v9M574.5 705v4M574.5 710v5M574.5 725v8M574.5 738v19M574.5 759v225M574.5 991v7M575.5 705v4M575.5 710v5M575.5 725v32M575.5 759v225M575.5 992v6M576.5 705v4M576.5 710v5M576.5 725v32M576.5 760v28M576.5 789v213M577.5 730v8M577.5 744v4M577.5 771v6M577.5 778v6M577.5 794v4M577.5 799v26M577.5 826v177M578.5 731v6M578.5 771v5M578.5 793v6M578.5 803v200M579.5 791v10M579.5 806v197M580.5 751v6M580.5 782v5M580.5 789v13M580.5 807v188M580.5 998v5M581.5 749v15M581.5 766v7M581.5 777v29M581.5 807v182M581.5 991v4M581.5 999v4M582.5 749v15M582.5 766v223M582.5 991v4M582.5 999v4M583.5 749v15M583.5 766v40M583.5 807v161M583.5 969v20M583.5 991v6M583.5 999v4M584.5 749v4M584.5 755v9M584.5 767v34M584.5 807v161M584.5 970v19M584.5 990v9M585.5 768v33M585.5 809v160M585.5 970v29M586.5 768v6M586.5 776v11M586.5 789v11M586.5 809v190M587.5 747v4M587.5 753v4M587.5 760v5M587.5 767v18M587.5 791v10M587.5 808v15M587.5 825v173M588.5 659v9M588.5 685v4M588.5 690v4M588.5 715v4M588.5 741v5M588.5 747v10M588.5 759v7M588.5 767v18M588.5 791v17M588.5 809v14M588.5 825v174M589.5 653v4M589.5 659v9M589.5 685v9M589.5 699v5M589.5 715v9M589.5 727v8M589.5 741v16M589.5 759v7M589.5 767v16M589.5 793v30M589.5 824v177M590.5 653v4M590.5 659v9M590.5 685v9M590.5 698v6M590.5 715v9M590.5 727v8M590.5 741v16M590.5 759v25M590.5 793v29M590.5 825v176M591.5 653v4M591.5 660v8M591.5 685v9M591.5 698v6M591.5 715v4M591.5 720v4M591.5 727v8M591.5 742v15M591.5 761v5M591.5 767v22M591.5 793v29M591.5 825v134M591.5 962v34M591.5 997v4M592.5 661v4M592.5 688v4M592.5 698v6M592.5 746v11M592.5 762v4M592.5 771v5M592.5 778v11M592.5 794v27M592.5 824v134M592.5 962v32M593.5 698v4M593.5 771v4M593.5 780v9M593.5 790v170M593.5 962v32M594.5 733v4M594.5 741v9M594.5 766v9M594.5 779v9M594.5 790v16M594.5 807v153M594.5 962v32M595.5 733v4M595.5 739v11M595.5 757v8M595.5 766v10M595.5 778v10M595.5 790v16M595.5 807v191M596.5 733v4M596.5 739v11M596.5 757v8M596.5 766v10M596.5 778v10M596.5 790v16M596.5 808v190M597.5 739v7M597.5 757v8M597.5 766v10M597.5 778v10M597.5 791v15M597.5 808v27M597.5 837v161M598.5 740v5M598.5 758v6M598.5 769v7M598.5 782v4M598.5 798v8M598.5 808v15M598.5 825v5M598.5 837v5M598.5 843v5M598.5 850v148M599.5 798v8M599.5 808v4M599.5 813v8M599.5 826v4M599.5 838v4M599.5 844v4M599.5 850v144M600.5 846v140M601.5 821v4M601.5 828v7M601.5 846v140M602.5 820v5M602.5 828v9M602.5 839v4M602.5 845v146M603.5 819v6M603.5 828v9M603.5 839v160M604.5 810v6M604.5 817v8M604.5 829v170M605.5 810v19M605.5 830v170M606.5 810v189M607.5 809v190M608.5 809v173M608.5 986v4M609.5 808v169M609.5 978v4M610.5 798v6M610.5 807v167M611.5 792v148M611.5 942v31M611.5 975v4M611.5 995v4M612.5 777v4M612.5 786v4M612.5 791v183M612.5 975v5M612.5 995v4M613.5 661v4M613.5 707v4M613.5 712v4M613.5 718v4M613.5 733v8M613.5 749v4M613.5 756v9M613.5 768v15M613.5 785v189M613.5 975v5M613.5 995v4M614.5 660v5M614.5 668v4M614.5 680v4M614.5 690v4M614.5 698v4M614.5 707v4M614.5 712v4M614.5 718v4M614.5 733v10M614.5 749v4M614.5 756v11M614.5 768v16M614.5 786v188M614.5 975v10M614.5 991v8M615.5 661v4M615.5 668v4M615.5 680v4M615.5 690v4M615.5 698v4M615.5 707v4M615.5 712v4M615.5 718v8M615.5 733v10M615.5 749v4M615.5 756v20M615.5 777v7M615.5 786v212M616.5 661v5M616.5 668v4M616.5 680v4M616.5 690v4M616.5 698v4M616.5 718v8M616.5 733v10M616.5 761v6M616.5 768v8M616.5 780v4M616.5 786v17M616.5 805v165M616.5 971v27M617.5 661v4M617.5 722v4M617.5 734v4M617.5 769v5M617.5 815v14M617.5 830v168M618.5 818v9M618.5 830v154M618.5 989v9M619.5 733v4M619.5 740v8M619.5 763v9M619.5 795v4M619.5 800v4M619.5 819v6M619.5 828v156M619.5 985v8M619.5 995v4M620.5 733v4M620.5 740v13M620.5 763v9M620.5 787v6M620.5 794v5M620.5 800v9M620.5 816v183M621.5 733v4M621.5 740v14M621.5 763v10M621.5 786v13M621.5 800v9M621.5 815v184M622.5 745v16M622.5 763v13M622.5 779v19M622.5 801v12M622.5 815v157M622.5 973v21M623.5 748v13M623.5 763v13M623.5 778v20M623.5 802v192M624.5 748v13M624.5 763v13M624.5 778v21M624.5 801v174M624.5 976v11M624.5 988v5M625.5 748v13M625.5 763v13M625.5 778v214M626.5 783v7M626.5 795v10M626.5 807v11M626.5 819v52M626.5 872v115M626.5 988v4M627.5 783v6M627.5 796v8M627.5 812v6M627.5 820v7M627.5 829v14M627.5 844v13M627.5 858v11M627.5 872v120M628.5 784v5M628.5 797v6M628.5 820v5M628.5 839v4M628.5 851v6M628.5 872v121M628.5 994v5M629.5 871v129M630.5 856v10M630.5 867v19M630.5 887v113M631.5 847v6M631.5 855v145M632.5 816v5M632.5 830v4M632.5 839v4M632.5 847v151M633.5 814v9M633.5 824v11M633.5 836v7M633.5 847v151M634.5 814v183M635.5 814v180M635.5 1002v4M636.5 815v171M636.5 987v7M636.5 1002v4M637.5 773v14M637.5 792v9M637.5 813v163M637.5 977v9M637.5 987v7M637.5 1002v4M638.5 768v4M638.5 773v14M638.5 789v13M638.5 811v12M638.5 824v152M638.5 977v17M639.5 768v4M639.5 773v14M639.5 789v13M639.5 811v170M639.5 983v15M640.5 768v4M640.5 773v13M640.5 789v13M640.5 811v193M641.5 775v4M641.5 780v4M641.5 812v5M641.5 818v9M641.5 833v156M641.5 990v14M642.5 818v9M642.5 834v153M642.5 991v13M643.5 841v142M643.5 991v8M644.5 842v146M644.5 990v8M645.5 846v4M645.5 859v144M646.5 825v6M646.5 833v5M646.5 847v4M646.5 853v4M646.5 862v141M647.5 825v6M647.5 833v5M647.5 847v4M647.5 853v5M647.5 862v12M647.5 879v124M648.5 817v5M648.5 823v8M648.5 833v8M648.5 847v4M648.5 853v8M648.5 862v12M648.5 876v122M648.5 1000v4M649.5 817v13M649.5 833v8M649.5 853v8M649.5 867v5M649.5 875v123M649.5 1000v4M650.5 817v13M650.5 836v5M650.5 853v8M650.5 867v5M650.5 875v122M650.5 1000v4M651.5 817v12M651.5 836v5M651.5 853v8M651.5 867v6M651.5 875v107M651.5 984v9M651.5 997v4M652.5 865v116M652.5 985v7M652.5 994v7M653.5 865v127M653.5 993v8M654.5 855v147M655.5 802v4M655.5 813v14M655.5 828v6M655.5 838v8M655.5 851v152M656.5 802v4M656.5 808v195M657.5 802v4M657.5 808v196M658.5 808v166M658.5 978v8M658.5 988v16M659.5 816v161M659.5 979v7M659.5 987v17M660.5 816v162M660.5 979v16M660.5 996v7M661.5 816v179M662.5 812v166M662.5 979v17M663.5 812v187M664.5 811v7M664.5 820v168M664.5 990v9M665.5 802v4M665.5 811v177M665.5 991v9M666.5 802v4M666.5 811v7M666.5 820v168M666.5 991v8M667.5 802v4M667.5 812v6M667.5 820v5M667.5 826v37M667.5 865v121M667.5 991v9M668.5 825v20M668.5 846v17M668.5 864v121M668.5 991v9M669.5 820v149M669.5 970v14M669.5 991v9M670.5 811v5M670.5 819v164M670.5 985v4M670.5 991v7M671.5 807v191M672.5 807v38M672.5 846v151M673.5 807v38M673.5 847v150M673.5 1001v4M674.5 704v4M674.5 808v15M674.5 825v45M674.5 871v125M674.5 1001v4M675.5 690v4M675.5 703v5M675.5 716v4M675.5 731v4M675.5 737v4M675.5 772v4M675.5 795v4M675.5 808v16M675.5 825v171M675.5 1001v4M676.5 690v4M676.5 695v4M676.5 702v6M676.5 716v4M676.5 731v4M676.5 737v4M676.5 753v4M676.5 772v4M676.5 792v8M676.5 806v173M676.5 980v7M676.5 992v4M677.5 690v4M677.5 695v4M677.5 702v5M677.5 716v4M677.5 731v4M677.5 737v4M677.5 753v4M677.5 772v4M677.5 787v4M677.5 792v10M677.5 805v19M677.5 825v153M677.5 980v4M678.5 695v4M678.5 702v4M678.5 753v4M678.5 787v4M678.5 792v10M678.5 804v8M678.5 818v6M678.5 826v152M678.5 984v6M679.5 787v4M679.5 792v11M679.5 804v8M679.5 818v6M679.5 826v16M679.5 844v138M679.5 983v7M679.5 991v5M680.5 792v10M680.5 804v7M680.5 819v5M680.5 832v10M680.5 844v155M681.5 791v11M681.5 804v8M681.5 813v4M681.5 824v4M681.5 832v10M681.5 843v156M682.5 791v12M682.5 804v8M682.5 813v4M682.5 823v5M682.5 831v11M682.5 843v157M683.5 791v11M683.5 804v8M683.5 813v4M683.5 823v5M683.5 831v9M683.5 842v6M683.5 849v154M684.5 791v7M684.5 805v6M684.5 823v4M684.5 831v8M684.5 843v5M684.5 850v17M684.5 869v123M684.5 995v9M685.5 843v5M685.5 850v7M685.5 859v8M685.5 871v5M685.5 877v114M685.5 996v8M686.5 849v5M686.5 857v10M686.5 871v103M686.5 975v17M686.5 996v8M687.5 782v4M687.5 788v4M687.5 794v4M687.5 806v5M687.5 820v16M687.5 843v11M687.5 855v138M688.5 782v4M688.5 788v4M688.5 794v4M688.5 806v10M688.5 820v17M688.5 841v139M688.5 988v6M689.5 782v4M689.5 788v4M689.5 794v4M689.5 806v10M689.5 820v160M689.5 988v6M689.5 1002v4M690.5 807v174M690.5 983v14M690.5 1002v4M691.5 813v184M691.5 1002v4M692.5 816v182M693.5 816v182M694.5 799v6M694.5 812v193M695.5 619v4M695.5 769v4M695.5 798v9M695.5 808v197M696.5 614v9M696.5 637v4M696.5 646v6M696.5 682v4M696.5 722v7M696.5 747v4M696.5 763v10M696.5 777v4M696.5 798v28M696.5 830v175M697.5 597v4M697.5 614v9M697.5 637v4M697.5 642v11M697.5 675v5M697.5 682v4M697.5 690v4M697.5 707v6M697.5 722v7M697.5 747v4M697.5 763v10M697.5 774v7M697.5 798v21M697.5 820v4M697.5 831v173M698.5 597v4M698.5 614v9M698.5 637v16M698.5 664v4M698.5 675v5M698.5 682v4M698.5 690v4M698.5 707v6M698.5 722v7M698.5 738v4M698.5 747v4M698.5 763v10M698.5 774v7M698.5 790v4M698.5 797v10M698.5 808v10M698.5 832v174M699.5 597v4M699.5 618v4M699.5 642v11M699.5 664v4M699.5 675v5M699.5 690v4M699.5 707v6M699.5 738v4M699.5 767v4M699.5 774v4M699.5 790v4M699.5 797v5M699.5 810v6M699.5 828v170M699.5 1000v6M700.5 642v7M700.5 664v4M700.5 675v4M700.5 707v6M700.5 738v4M700.5 790v4M700.5 797v4M700.5 828v171M700.5 1000v7M701.5 827v181M702.5 799v4M702.5 806v9M702.5 817v4M702.5 823v185M703.5 799v4M703.5 806v9M703.5 817v4M703.5 823v185M704.5 799v4M704.5 806v9M704.5 817v4M704.5 823v28M704.5 852v144M704.5 997v11M705.5 822v13M705.5 838v13M705.5 852v143M705.5 1000v4M706.5 761v4M706.5 768v5M706.5 777v4M706.5 793v4M706.5 821v14M706.5 838v13M706.5 853v142M707.5 761v4M707.5 768v5M707.5 777v4M707.5 793v4M707.5 798v4M707.5 813v19M707.5 842v12M707.5 855v139M708.5 761v4M708.5 768v5M708.5 777v4M708.5 793v4M708.5 798v6M708.5 805v5M708.5 812v24M708.5 842v147M708.5 990v4M709.5 769v4M709.5 798v6M709.5 805v5M709.5 812v25M709.5 838v151M709.5 990v5M710.5 798v6M710.5 805v5M710.5 812v13M710.5 826v162M710.5 990v5M711.5 799v4M711.5 806v4M711.5 813v12M711.5 828v160M711.5 989v9M712.5 813v7M712.5 831v14M712.5 847v152M712.5 1003v4M713.5 811v6M713.5 826v173M713.5 1003v4M714.5 804v18M714.5 824v170M714.5 995v4M714.5 1003v4M715.5 711v4M715.5 718v11M715.5 744v4M715.5 753v4M715.5 797v4M715.5 803v185M715.5 989v8M715.5 998v4M716.5 711v4M716.5 718v11M716.5 733v25M716.5 759v4M716.5 776v4M716.5 784v7M716.5 792v190M716.5 984v12M716.5 997v6M717.5 711v4M717.5 718v11M717.5 733v25M717.5 759v6M717.5 776v15M717.5 792v211M718.5 718v6M718.5 733v25M718.5 759v6M718.5 769v4M718.5 776v15M718.5 792v204M718.5 997v6M719.5 734v22M719.5 759v6M719.5 769v4M719.5 776v16M719.5 793v185M719.5 982v14M719.5 998v4M720.5 742v8M720.5 760v4M720.5 769v4M720.5 777v14M720.5 796v7M720.5 808v171M720.5 982v4M720.5 987v8M721.5 776v16M721.5 794v4M721.5 799v182M721.5 987v8M722.5 766v4M722.5 775v24M722.5 803v178M722.5 988v6M723.5 762v38M723.5 802v181M724.5 762v223M724.5 991v4M724.5 996v4M724.5 1003v4M725.5 762v27M725.5 790v196M725.5 990v10M725.5 1003v4M726.5 763v26M726.5 793v32M726.5 827v161M726.5 989v11M726.5 1003v4M727.5 782v6M727.5 793v7M727.5 801v11M727.5 815v10M727.5 829v169M728.5 814v11M728.5 829v168M729.5 815v10M729.5 829v168M730.5 815v9M730.5 840v156M731.5 682v4M731.5 714v9M731.5 742v12M731.5 768v4M731.5 794v5M731.5 804v7M731.5 820v4M731.5 840v134M731.5 975v20M732.5 676v4M732.5 682v4M732.5 689v4M732.5 705v4M732.5 714v11M732.5 727v4M732.5 734v6M732.5 742v12M732.5 768v4M732.5 790v10M732.5 802v11M732.5 820v5M732.5 838v125M732.5 964v33M733.5 668v4M733.5 676v4M733.5 682v4M733.5 689v4M733.5 705v4M733.5 714v11M733.5 727v4M733.5 733v8M733.5 742v12M733.5 768v4M733.5 775v4M733.5 786v44M733.5 834v128M733.5 963v35M734.5 668v4M734.5 676v4M734.5 689v4M734.5 705v4M734.5 715v10M734.5 727v4M734.5 733v8M734.5 746v8M734.5 768v4M734.5 775v4M734.5 785v177M734.5 963v35M735.5 668v4M735.5 717v8M735.5 733v8M735.5 755v6M735.5 765v7M735.5 775v4M735.5 780v218M736.5 755v6M736.5 765v7M736.5 780v219M737.5 755v6M737.5 765v7M737.5 780v8M737.5 792v19M737.5 813v192M738.5 755v6M738.5 765v7M738.5 792v19M738.5 814v168M738.5 983v22M739.5 816v18M739.5 835v149M739.5 985v20M740.5 810v4M740.5 815v8M740.5 827v6M740.5 834v6M740.5 844v8M740.5 853v142M741.5 810v13M741.5 826v13M741.5 844v7M741.5 854v12M741.5 867v125M742.5 809v14M742.5 825v13M742.5 843v8M742.5 855v11M742.5 867v130M743.5 767v4M743.5 772v9M743.5 784v15M743.5 802v51M743.5 854v146M744.5 766v33M744.5 802v199M745.5 743v7M745.5 751v4M745.5 758v5M745.5 766v33M745.5 802v118M745.5 921v85M746.5 738v4M746.5 743v20M746.5 765v34M746.5 801v119M746.5 922v28M746.5 952v54M747.5 738v212M747.5 953v5M747.5 961v22M747.5 985v21M748.5 738v5M748.5 744v19M748.5 764v27M748.5 792v163M748.5 960v22M748.5 984v22M749.5 738v5M749.5 748v15M749.5 764v26M749.5 793v8M749.5 806v32M749.5 840v156M749.5 997v8M750.5 778v10M750.5 811v6M750.5 823v4M750.5 830v7M750.5 842v162M751.5 848v4M751.5 853v8M751.5 865v139M752.5 872v134M753.5 871v136M754.5 789v8M754.5 798v5M754.5 804v6M754.5 818v5M754.5 825v12M754.5 839v11M754.5 854v133M754.5 988v9M754.5 998v9M755.5 772v5M755.5 783v4M755.5 789v48M755.5 838v12M755.5 853v131M755.5 992v6M755.5 1001v6M756.5 743v4M756.5 767v11M756.5 781v6M756.5 789v48M756.5 838v147M756.5 994v5M757.5 743v4M757.5 767v11M757.5 781v6M757.5 790v27M757.5 818v18M757.5 838v149M757.5 994v8M758.5 743v4M758.5 767v11M758.5 781v6M758.5 790v27M758.5 818v17M758.5 838v149M758.5 992v11M759.5 781v35M759.5 817v6M759.5 824v16M759.5 842v161M760.5 781v42M760.5 825v178M761.5 759v9M761.5 775v4M761.5 780v21M761.5 802v148M761.5 951v28M761.5 980v19M762.5 759v9M762.5 770v9M762.5 780v13M762.5 794v7M762.5 806v143M762.5 952v27M762.5 980v19M763.5 759v9M763.5 770v9M763.5 780v4M763.5 788v6M763.5 796v5M763.5 807v9M763.5 817v133M763.5 954v25M763.5 980v14M764.5 750v29M764.5 780v5M764.5 789v4M764.5 796v6M764.5 807v144M764.5 955v24M764.5 980v14M765.5 748v12M765.5 765v22M765.5 788v5M765.5 794v9M765.5 804v12M765.5 817v161M765.5 982v12M766.5 748v12M766.5 764v216M766.5 983v13M767.5 748v65M767.5 814v5M767.5 821v159M767.5 988v8M767.5 1003v4M768.5 749v214M768.5 964v17M768.5 988v9M768.5 1003v4M769.5 727v20M769.5 749v214M769.5 965v15M769.5 988v9M769.5 1003v4M770.5 725v224M770.5 951v8M770.5 970v11M770.5 991v6M771.5 725v224M771.5 950v9M771.5 971v9M771.5 992v5M772.5 717v4M772.5 725v224M772.5 951v11M772.5 970v10M772.5 992v4M773.5 717v4M773.5 725v9M773.5 738v13M773.5 754v8M773.5 768v10M773.5 779v170M773.5 951v26M774.5 717v4M774.5 726v6M774.5 739v13M774.5 755v6M774.5 765v12M774.5 781v11M774.5 794v190M774.5 986v11M774.5 1000v4M775.5 726v6M775.5 743v4M775.5 749v4M775.5 755v4M775.5 764v13M775.5 781v10M775.5 794v13M775.5 808v189M775.5 1000v4M776.5 726v6M776.5 748v5M776.5 754v5M776.5 764v5M776.5 770v9M776.5 782v10M776.5 794v12M776.5 808v189M776.5 1000v4M777.5 726v6M777.5 749v4M777.5 755v4M777.5 764v4M777.5 772v7M777.5 785v6M777.5 795v15M777.5 811v185M778.5 749v4M778.5 755v4M778.5 762v17M778.5 785v6M778.5 794v16M778.5 813v178M779.5 749v4M779.5 755v4M779.5 761v18M779.5 780v10M779.5 792v19M779.5 816v173M779.5 991v5M780.5 761v15M780.5 779v33M780.5 816v174M780.5 991v7M781.5 752v4M781.5 761v14M781.5 779v34M781.5 816v173M781.5 991v7M782.5 752v4M782.5 763v6M782.5 779v25M782.5 806v8M782.5 815v174M782.5 991v8M783.5 752v4M783.5 764v4M783.5 779v190M783.5 971v5M783.5 977v10M783.5 991v8M784.5 764v4M784.5 796v180M784.5 977v10M784.5 989v13M785.5 796v5M785.5 803v185M785.5 989v13M786.5 803v5M786.5 809v5M786.5 818v40M786.5 860v146M787.5 821v6M787.5 835v4M787.5 840v9M787.5 851v7M787.5 860v146M788.5 859v147M789.5 859v147M790.5 859v146M791.5 859v140M791.5 1000v4M792.5 863v10M792.5 876v128M792.5 1005v5M793.5 887v11M793.5 899v113M794.5 888v8M794.5 904v110M795.5 906v108M796.5 906v108M797.5 910v106M798.5 910v108M799.5 911v10M799.5 927v5M799.5 934v86M800.5 949v71M801.5 951v69M802.5 951v73M803.5 951v73M804.5 962v62M805.5 961v63M806.5 960v64M807.5 960v64M808.5 960v65M809.5 962v4M809.5 973v55M810.5 974v7M810.5 982v6M810.5 989v39M811.5 992v37M812.5 992v37M813.5 993v37M814.5 993v37M815.5 993v38M816.5 993v37M817.5 993v38M818.5 999v32M819.5 999v32M820.5 998v34M821.5 997v35M822.5 997v35M823.5 997v35M824.5 997v36M825.5 1003v30M826.5 1003v30M827.5 1004v27M828.5 1006v25M829.5 1010v22M830.5 1010v24M831.5 1011v23M832.5 1010v24M833.5 1010v24M834.5 1010v24M835.5 1009v25M836.5 1009v25M837.5 1009v25M838.5 1008v25M839.5 1001v32M840.5 1001v33M841.5 1001v33M842.5 1001v33M843.5 1002v32M844.5 1002v31M845.5 991v42M846.5 991v43M847.5 991v43M848.5 991v43M849.5 998v36M850.5 1000v33M851.5 1003v7M851.5 1012v22M852.5 1012v22M853.5 1013v22M854.5 1013v22M855.5 1012v23M856.5 1010v25M857.5 1008v27M858.5 1008v27M859.5 1008v26M860.5 1008v26M861.5 1015v20M862.5 1014v21M863.5 1014v21M864.5 1014v21M865.5 1015v20M866.5 1017v18M867.5 1018v16M868.5 1018v16M869.5 1018v17M870.5 1019v16M871.5 1020v15M872.5 1020v15M873.5 1021v14M874.5 1020v15M875.5 1021v14M876.5 1021v14M877.5 1024v11M878.5 1024v11M879.5 1022v13M880.5 1022v13M881.5 1021v14M882.5 1021v14M883.5 1021v14M884.5 1022v13M885.5 1022v13M886.5 1023v12M887.5 1023v12M888.5 1024v10M889.5 1024v10M890.5 1023v12M891.5 1023v12M892.5 1023v11M893.5 1024v10M894.5 1026v8M895.5 1026v8M896.5 1026v8M897.5 1027v7M898.5 1027v8M899.5 1026v8M900.5 1026v8M901.5 1027v7M902.5 1027v7M903.5 1027v7M904.5 1027v7M905.5 1027v8M906.5 1027v8M907.5 1027v7M908.5 1027v7M909.5 1027v7M910.5 1027v7M911.5 1028v6M912.5 1028v7M913.5 1028v6M914.5 1028v7M915.5 1028v7M916.5 1028v7M917.5 1028v7M918.5 1028v7M919.5 1028v7M920.5 1028v7M921.5 1028v7M922.5 1028v7M923.5 1028v7M924.5 1028v8M925.5 1028v7M926.5 1028v8M927.5 1028v7M928.5 1029v7M929.5 1029v7M930.5 1029v7M931.5 1028v8M932.5 1029v7M933.5 1029v7M934.5 1029v7M935.5 1029v7M936.5 1029v7M937.5 1029v7M938.5 1029v7M939.5 1029v7M940.5 1029v7M941.5 1029v7M942.5 1029v7M943.5 1029v7M944.5 1029v7M945.5 1029v7M946.5 1029v7M947.5 1029v7M948.5 1029v7M949.5 1029v7M950.5 1029v7M951.5 1029v7M952.5 1029v7M953.5 1029v7M954.5 1029v7M955.5 1029v7M956.5 1029v7M957.5 1029v7M958.5 1029v7M959.5 1029v7M960.5 1029v7M961.5 1029v7M962.5 1029v7M963.5 1029v7M964.5 1029v7M965.5 1029v7M966.5 1029v7M967.5 1029v7M968.5 1029v7M969.5 1029v7M970.5 1029v7M971.5 1029v7M972.5 1029v7M973.5 1029v7M974.5 1029v7M975.5 1029v8M976.5 1029v7M977.5 1029v7M978.5 1029v7M979.5 1029v7M980.5 1029v7M981.5 1029v8M982.5 1029v7M983.5 1029v7M984.5 1029v7M985.5 1029v7M986.5 1029v7M987.5 1029v7M988.5 1029v7M989.5 1030v7M990.5 1029v8M991.5 1029v8M992.5 1029v7M993.5 1029v7M994.5 1030v7M995.5 1029v8M996.5 1030v7M997.5 1029v7M998.5 1029v7M999.5 1030v6M1000.5 1030v6M1001.5 1030v6M1002.5 1029v7M1003.5 1029v7M1004.5 1029v7M1005.5 1029v7M1006.5 1029v8M1007.5 1029v7M1008.5 1029v7M1009.5 1029v7M1010.5 1029v7M1011.5 1029v7M1012.5 1029v7M1013.5 1029v7M1014.5 1029v7M1015.5 1029v7M1016.5 1029v7M1017.5 1029v7M1018.5 1029v7M1019.5 1029v7M1020.5 1029v7M1021.5 1029v7M1022.5 1029v7M1023.5 1029v7M1024.5 1029v7M1025.5 1029v7M1026.5 1029v7M1027.5 1029v7M1028.5 1029v7M1029.5 1029v7M1030.5 1029v7M1031.5 1029v7M1032.5 1029v7M1033.5 1029v7M1034.5 1029v7M1035.5 1029v7M1036.5 1029v7M1037.5 1029v7M1038.5 1029v7M1039.5 1029v7M1040.5 1029v7M1041.5 1029v7M1042.5 1029v7M1043.5 1029v7M1044.5 1029v7M1045.5 1029v7M1046.5 1029v7M1047.5 1029v7M1048.5 1029v7M1049.5 1029v7M1050.5 1029v7M1051.5 1029v7M1052.5 1029v7M1053.5 1030v7M1054.5 1030v6M1055.5 1029v7M1056.5 1029v7M1057.5 1029v7M1058.5 1029v7M1059.5 1029v7M1060.5 1029v7M1061.5 1029v7M1062.5 1029v7M1063.5 1029v7M1064.5 1029v7M1065.5 1029v7M1066.5 1029v7M1067.5 1029v7M1068.5 1029v7M1069.5 1029v7M1070.5 1029v7M1071.5 1029v7M1072.5 1029v7M1073.5 1029v7M1074.5 1029v7M1075.5 1029v7M1076.5 1029v7M1077.5 1029v7M1078.5 1029v7M1079.5 1029v7M1080.5 1029v7M1081.5 1029v7M1082.5 1029v7M1083.5 1029v7M1084.5 1029v7M1085.5 1029v7M1086.5 1029v7M1087.5 1029v7M1088.5 1029v7M1089.5 1029v7M1090.5 1029v7M1091.5 1029v7M1092.5 1029v7M1093.5 1029v7M1094.5 1029v7M1095.5 1029v7M1096.5 1030v6M1097.5 1029v7M1098.5 1029v7M1099.5 1029v7M1100.5 1029v7M1101.5 1029v7M1102.5 1029v7M1103.5 1029v7M1104.5 1029v7M1105.5 1029v7M1106.5 1029v7M1107.5 1029v8M1108.5 1029v7M1109.5 1029v7M1110.5 1029v7M1111.5 1029v7M1112.5 1029v7M1113.5 1029v7M1114.5 1029v7M1115.5 1029v7M1116.5 1029v7M1117.5 1029v7M1118.5 1029v7M1119.5 1029v7M1120.5 1029v7M1121.5 1029v7M1122.5 1029v7M1123.5 1029v8M1124.5 1029v7M1125.5 1029v7M1126.5 1029v8M1127.5 1030v6M1128.5 1029v7M1129.5 1029v7M1130.5 1029v7M1131.5 1029v7M1132.5 1029v7M1133.5 1029v7M1134.5 1029v7M1135.5 1029v8M1136.5 1029v7M1137.5 1029v7M1138.5 1029v7M1139.5 1029v7M1140.5 1029v7M1141.5 1029v7M1142.5 1029v7M1143.5 1029v7M1144.5 1029v7M1145.5 1029v7M1146.5 1029v7M1147.5 1030v6M1148.5 1029v7M1149.5 1029v7M1150.5 1029v7M1151.5 1029v8M1152.5 1029v7M1153.5 1029v7M1154.5 1029v7M1155.5 1029v7M1156.5 1029v7M1157.5 1029v7M1158.5 1029v7M1159.5 1029v7M1160.5 1029v7M1161.5 1029v7M1162.5 1029v7M1163.5 1029v8M1164.5 1029v7M1165.5 1029v7M1166.5 1029v7M1167.5 1029v7M1168.5 1029v7M1169.5 1029v7M1170.5 1029v7M1171.5 1029v7M1172.5 1029v7M1173.5 1029v7M1174.5 1029v7M1175.5 1029v7M1176.5 1029v7M1177.5 1029v7M1178.5 1029v7M1179.5 1029v7M1180.5 1030v6M1181.5 1029v7M1182.5 1030v6M1183.5 1029v7M1184.5 1029v7M1185.5 1029v7M1186.5 1029v7M1187.5 1029v7M1188.5 1029v7M1189.5 1029v7M1190.5 1029v7M1191.5 1029v7M1192.5 1029v7M1193.5 1029v7M1194.5 1029v7M1195.5 1029v7M1196.5 1029v8M1197.5 1029v7M1198.5 1029v7M1199.5 1029v7M1200.5 1029v7M1201.5 1029v7M1202.5 1029v7M1203.5 1029v7M1204.5 1029v7M1205.5 1029v7M1206.5 1029v7M1207.5 1029v8M1208.5 1029v7M1209.5 1029v7M1210.5 1029v8M1211.5 1029v7M1212.5 1029v7M1213.5 1029v7M1214.5 1029v8M1215.5 1029v7M1216.5 1029v7M1217.5 1029v7M1218.5 1029v7M1219.5 1029v7M1220.5 1029v7M1221.5 1029v7M1222.5 1029v7M1223.5 1029v7M1224.5 1029v7M1225.5 1029v7M1226.5 1029v7M1227.5 1029v7M1228.5 1029v7M1229.5 1029v7M1230.5 1029v7M1231.5 1029v7M1232.5 1029v7M1233.5 1029v7M1234.5 1029v7M1235.5 1029v7M1236.5 1029v7M1237.5 1029v7M1238.5 1029v7M1239.5 1029v7M1240.5 1029v7M1241.5 1029v7M1242.5 1030v6M1243.5 1029v7M1244.5 1029v7M1245.5 1029v7M1246.5 1030v6M1247.5 1029v7M1248.5 1029v7M1249.5 1029v7M1250.5 1029v7M1251.5 1029v7M1252.5 1029v7M1253.5 1029v7M1254.5 1029v7M1255.5 1029v7M1256.5 1029v7M1257.5 1029v7M1258.5 1029v7M1259.5 1029v7M1260.5 1029v7M1261.5 1029v7M1262.5 1029v8M1263.5 1029v7M1264.5 1029v7M1265.5 1029v7M1266.5 1029v7M1267.5 1029v7M1268.5 1029v7M1269.5 1029v7M1270.5 1030v6M1271.5 1030v6M1272.5 1029v7M1273.5 1029v7M1274.5 1029v7M1275.5 1029v7M1276.5 1030v6M1277.5 1029v7M1278.5 1029v7M1279.5 1029v7M1280.5 1029v7M1281.5 1029v7M1282.5 1029v7M1283.5 1029v7M1284.5 1029v7M1285.5 1029v7M1286.5 1030v6M1287.5 1030v6M1288.5 1030v6M1289.5 1029v7M1290.5 1029v7M1291.5 1029v7M1292.5 1029v7M1293.5 1029v7M1294.5 1030v7M1295.5 1030v6M1296.5 1029v7M1297.5 1029v7M1298.5 1029v7M1299.5 1029v7M1300.5 1029v7M1301.5 1029v7M1302.5 1029v7M1303.5 1029v7M1304.5 1029v7M1305.5 1029v7M1306.5 1029v7M1307.5 1029v7M1308.5 1029v7M1309.5 1029v6M1310.5 1028v7M1311.5 1029v6M1312.5 1029v6M1313.5 1029v7M1314.5 1029v6M1315.5 1029v6M1316.5 1028v7M1317.5 1028v7M1318.5 1029v6M1319.5 1028v7M1320.5 1028v7M1321.5 1028v7M1322.5 1028v7M1323.5 1028v6M1324.5 1028v6M1325.5 1028v6M1326.5 1027v7M1327.5 1027v7M1328.5 1026v8M1329.5 1026v8M1330.5 1026v8M1331.5 1026v8M1332.5 1026v7M1333.5 1025v8M1334.5 1025v8M1335.5 1025v9M1336.5 1025v8M1337.5 1025v8M1338.5 1025v8M1339.5 1024v9M1340.5 1024v9M1341.5 1024v9M1342.5 1023v9M1343.5 1024v8M1344.5 1024v9M1345.5 1025v8M1346.5 1023v9M1347.5 1021v12M1348.5 1021v11M1349.5 1021v11M1350.5 1022v10M1351.5 1022v10M1352.5 1022v10M1353.5 1021v11M1354.5 1022v9M1355.5 1022v9M1356.5 1022v9M1357.5 1023v9M1358.5 1022v10M1359.5 1021v10M1360.5 1021v11M1361.5 1020v11M1362.5 1020v11M1363.5 1020v11M1364.5 1019v12M1365.5 1019v12M1366.5 1019v12M1367.5 1020v11M1368.5 1017v14M1369.5 1015v15M1370.5 1015v15M1371.5 1015v15M1372.5 1016v14M1373.5 1015v15M1374.5 1015v15M1375.5 1015v15M1376.5 1015v15M1377.5 1016v14M1378.5 1016v14M1379.5 1015v15M1380.5 1016v14M1381.5 1016v14M1382.5 1015v15M1383.5 1013v17M1384.5 1012v18M1385.5 1011v19M1386.5 1010v20M1387.5 1010v19M1388.5 1010v19M1389.5 1008v21M1390.5 1006v23M1391.5 1006v23M1392.5 1005v23M1393.5 1005v24M1394.5 1004v25M1395.5 1004v25M1396.5 1003v26M1397.5 1001v28M1398.5 1001v28M1399.5 1001v28M1400.5 1001v26M1401.5 1002v26M1402.5 1002v26M1403.5 996v32M1404.5 969v11M1404.5 981v47M1405.5 969v59M1406.5 969v57M1407.5 970v56M1408.5 971v56M1409.5 987v40M1410.5 987v41M1411.5 978v49M1412.5 978v49M1413.5 977v50M1414.5 977v50M1415.5 977v50M1416.5 974v53M1417.5 973v54M1418.5 972v55M1419.5 972v53M1420.5 971v55M1421.5 971v56M1422.5 923v5M1422.5 929v5M1422.5 950v4M1422.5 963v64M1423.5 922v105M1424.5 921v104M1425.5 921v104M1426.5 914v111M1427.5 913v112M1428.5 913v113M1429.5 912v105M1429.5 1020v6M1430.5 913v103M1430.5 1022v4M1431.5 913v102M1432.5 914v98M1433.5 913v99M1434.5 913v97M1435.5 913v96M1435.5 1019v4M1436.5 912v97M1436.5 1019v4M1437.5 912v99M1437.5 1019v4M1438.5 912v100M1438.5 1019v5M1439.5 912v104M1439.5 1018v7M1440.5 912v105M1440.5 1018v7M1441.5 892v4M1441.5 912v113M1442.5 887v11M1442.5 904v6M1442.5 912v112M1443.5 862v7M1443.5 870v12M1443.5 886v138M1444.5 861v163M1445.5 861v160M1446.5 861v156M1447.5 845v9M1447.5 860v156M1448.5 806v4M1448.5 830v7M1448.5 841v15M1448.5 860v143M1448.5 1005v11M1449.5 806v4M1449.5 830v8M1449.5 841v15M1449.5 860v144M1449.5 1006v10M1450.5 806v4M1450.5 830v8M1450.5 841v15M1450.5 860v156M1451.5 831v7M1451.5 842v14M1451.5 864v4M1451.5 870v147M1452.5 847v4M1452.5 874v4M1452.5 885v14M1452.5 906v34M1452.5 941v76M1453.5 914v103M1454.5 890v10M1454.5 903v5M1454.5 914v103M1455.5 890v10M1455.5 902v6M1455.5 914v102M1456.5 890v19M1456.5 912v102M1457.5 891v121M1458.5 850v5M1458.5 859v153M1459.5 829v183M1460.5 829v172M1460.5 1005v7M1461.5 829v170M1462.5 830v100M1462.5 931v30M1462.5 963v8M1462.5 979v4M1462.5 986v5M1463.5 835v13M1463.5 850v6M1463.5 858v24M1463.5 883v4M1463.5 888v14M1463.5 908v21M1463.5 933v6M1463.5 940v15M1463.5 956v4M1463.5 965v5M1463.5 987v4M1464.5 871v5M1464.5 888v5M1464.5 895v7M1464.5 910v4M1464.5 920v4M1464.5 942v6" stroke="#1f77b4" stroke-width="1.06" fill="none" shape-rendering="crispEdges"/>
<path d="M116.5 980.4h0m.1 4.7h0m0 6.7h0m0 6.8h0m0 6h0m0 13.6h0m.1-.7h0m0-5.5h0m1-53.4h0m0-5.6h0m0-5.6h0m0-4.3h0m2.9-10.5h0m0-4.8h0m.1 90.3h0m.4-66.9h0m.1 2.9h0m3 63.9h0m4.1-90.5h0m.6 81.5h0m.2-83.4h0m1-21.9h0m0-16.4h0m0-12.3h0m.1 2.4h0m0 13.7h0m0 15.1h0m0 12.9h0m.5-3.6h0m0-15.6h0m0-7.1h0m0 4h0m.1 13.5h0m3.8 106.1h0m2.2-136.4h0m.1-10.5h0m0-24h0m.2 59.7h0m.5 4.2h0m.3-13.2h0m.2-47.2h0m.1 4.4h0m0 32.2h0m.2-9.1h0m.1-6.9h0m.2-3.5h0m.3-15h0m.2 32.9h0m1.4 5.3h0m.7 122.8h0m.8-102.3h0m0-7h0m.1-4.6h0m0 7.8h0m4.1 107.3h0m1.4-99.2h0m.7-6.6h0m.3 2.9h0m1-6.7h0m1.3 113.2h0m.6-158h0m.1 9.2h0m.4-1.4h0m.1-14.1h0m.2 40.3h0m.1-19.6h0m.1 6.8h0m.1-2.9h0m.8 .6h0m.3-8.8h0m.1 35.4h0m.6-51.3h0m.4 30.3h0m0 4.2h0m0 8.4h0m.3 119h0m6.6-97.4h0m.3-9.6h0m0-3.2h0m0 6.9h0m.8 104h0m.9-3.4h0m3.8-107.9h0m0-9h0m0-1.3h0m.1 14.1h0m.2-8.3h0m0-2.6h0m1.9 117h0m3.6-120.2h0m0 4.2h0m1.2 118.4h0m2.4-114.3h0m3.3-11.2h0m0-9.1h0m.1 12.7h0m0-7.8h0m3.2 13.9h0m0-6.3h0m0-3.7h0m.1-9.8h0m0-13.3h0m0-2h0m0 9.5h0m.1 43.2h0m.7 97.1h0m1.5 2.2h0m1.5-104.3h0m1.8-31.2h0m0-.4h0m.8 24.2h0m0-10.6h0m0-4.6h0m0 1.9h0m0 6.7h0m0 9.9h0m.1 11.6h0m2 18h0m0-5.2h0m0 2.6h0m.1 82h0m4.5-2.7h0m1.6-77.2h0m0-11.8h0m0 2.2h0m0 7.3h0m1.9-23.1h0m0-3.2h0m.1 10.8h0m.7 98.1h0m.7-97.7h0m4.7 1.6h0m0-6.1h0m2.4-8.9h0m0-9h0m0 5.1h0m1.4-10.8h0m0-7.7h0m0-6.3h0m0-5.8h0m0-2.6h0m0 4.2h0m.1 12.1h0m1.1 127.9h0m.3-101.7h0m0 6h0m.2-14h0m.1 2.6h0m0 7.7h0m0 9h0m4.7 92.8h0m.2-87h0m3.2 6.4h0m0-2.6h0m5 12.6h0m4.6 70.2h0m2.6-68.8h0m2.4 69.5h0m3.4-71.5h0m0-9.4h0m.1 14.3h0m1.9-3.8h0m.1 3.3h0m1.1 67.8h0m3.5-83.9h0m.1-39.7h0m.1 35.3h0m.2-19.8h0m.1-45.3h0m0 80.5h0m.1-22.4h0m0-31.7h0m.1 24.1h0m0 10.6h0m.1 25h0m0-88.6h0m0 13.8h0m.8 44.5h0m.2-19.5h0m0-31.1h0m.1 19.1h0m0 38.8h0m3.7 10.9h0m.3 78.9h0m4 1.2h0m.9-75h0m2.9-14.1h0m0-21.8h0m.1-13.4h0m0-3.5h0m0 5.1h0m0 11.3h0m0 14.6h0m3.3 96.3h0m5.7-70.5h0m.5 69.3h0m5.6-59.6h0m0-4.6h0m0-8.7h0m0 4.3h0m.2-15.3h0m0 2h0m.1 5.9h0m0 9.5h0m.4 66.9h0m6.6-75.2h0m.1-2h0m0 5.2h0m0 11h0m7.6 61.8h0m1.7-93.4h0m0-6.2h0m.1 11.9h0m1.8-15h0m1.4 12.9h0m.1-2.5h0m.1-15.1h0m0-6.2h0m4.1 113.5h0m1.5-85.6h0m2.3-79.7h0m.1-26.9h0m.1 83.3h0m.2-34.1h0m0 47h0m.2 3.3h0m.2-76h0m.1-23.7h0m.3 190.8h0m.1-114.9h0m0-66.9h0m.2 19.8h0m.1 30.4h0m0-62.6h0m.1 48.4h0m0 12.5h0m.2 24.8h0m.2 14.1h0m.2-70.4h0m0 15.4h0m.1-19.7h0m3 168h0m.1-1.9h0m.5-137h0m.1-39.6h0m0-2.6h0m0 93.3h0m0-65.4h0m.1 2.7h0m.1 36h0m.1 11.2h0m.2-25.5h0m.1-9.3h0m.1 49.3h0m.2-19.5h0m.1-12.6h0m0-58.7h0m.2 16.3h0m.2-6.3h0m.1-1.3h0m.1 77.2h0m0-2.6h0m.2-62.9h0m0 18.5h0m0-7.6h0m.2 34.8h0m.1 13.1h0m0-6.5h0m0 1.9h0m4.6 105.9h0m2-101.5h0m0-10.4h0m0-6.9h0m0-3.6h0m.1 10.8h0m.6-16.7h0m0 10.7h0m0 9.6h0m.4 10.9h0m0-30.7h0m0 6.8h0m.1 16.4h0m6.5-7.1h0m0-12h0m0-6.9h0m0 13.5h0m0 19.6h0m2.9 95.8h0m1-130h0m.5 32.8h0m.2-14.5h0m0-7.1h0m.1-3.6h0m0 6.2h0m5.9 114.9h0m2.9-94.7h0m.9-6.9h0m.1-10.7h0m.7 12.1h0m.1-.5h0m4.9 97.9h0m.9-118.4h0m0-10.8h0m0-5.2h0m0 1.3h0m0 7h0m0 10h0m.1 10.7h0m5 104.5h0m1.3-92.8h0m2.9-15.5h0m0-4.5h0m1.6 10.5h0m0 15.2h0m1.6 83.1h0m1.8-2.3h0m3.8-110.2h0m.1-.6h0m0 6.3h0m1.2 103.7h0m2.2-94.5h0m0-2.9h0m6.8 86.8h0m0 9.5h0m2.7-112h0m0-13.9h0m0-7.4h0m0 3.6h0m0 8.8h0m.1 13.1h0m1.3 102.6h0m1.6-4.3h0m.4-140.6h0m0-8.5h0m0-3.4h0m0 6.9h0m.2-20.5h0m0-10.5h0m0 5.8h0m2 173.7h0m1.8-135.7h0m0 2.6h0m2.4 32.7h0m.9-26.7h0m.1 13.5h0m.6-3.9h0m3.2 121.6h0m.6-107.8h0m1 .8h0m0-10.7h0m0-1.4h0m.2 20.8h0m0-12.7h0m.1 7.9h0m3.7 10.7h0m0 2.2h0m1.4 15.3h0m0-4.2h0m4.3 6.5h0m3.7 82.7h0m.8-6.9h0m3.4-88.9h0m0-7.4h0m0-3.7h0m1.9 103.9h0m.6-131.8h0m0-22.1h0m.1-14.6h0m0 23.2h0m.8 22.5h0m.1-4.9h0m1.1-4.3h0m.1-5.2h0m.5 5.8h0m0-16h0m0-16.8h0m0-12.6h0m0-1.7h0m.1 35.2h0m1.4 34.5h0m.8-7.9h0m.1-6h0m0 2.6h0m0 6.7h0m0 9.1h0m3.2 104.7h0m1.6-3.4h0m.7-97.7h0m1.4-103.2h0m.1 61.9h0m.1-72.7h0m0 75.3h0m.1-58.8h0m.1 25.6h0m.1-21.5h0m0 66h0m0-32h0m.1-21.5h0m.2 7.5h0m0 68.4h0m0-9.6h0m.3-17.6h0m.2-57.3h0m.1 72.4h0m0-50.6h0m.1 5.2h0m.1-22.9h0m.1-15.7h0m.1-4.7h0m.1 74h0m0-18.6h0m.1 1.4h0m0 15h0m.2-71.5h0m0 77.7h0m0-26.8h0m.2-3.6h0m2.1 161h0m2-3.8h0m3.3-123.6h0m0-1.5h0m2.6 129.5h0m1.1-115.3h0m0-12.5h0m.1-7h0m0 .3h0m0 8.7h0m4.1 124.7h0m4.6-128h0m0-4.2h0m0 12.5h0m3.6-5.5h0m1.4 119.1h0m1.9-130.2h0m.7 8.7h0m.1-14.4h0m0-4.7h0m0 3.8h0m.5 136.2h0m3.2 4.2h0m1.1-135.4h0m.8 130.6h0m.4-144.3h0m0-12.5h0m0-2.4h0m0 8.3h0m0 16.8h0m3.1 137.4h0m3-.9h0m1.5-5.1h0m1-4.7h0m.9-147.9h0m.2-21.9h0m0-30.1h0m0-12.7h0m0 14.3h0m.1 19.6h0m0 22.1h0m0 22.4h0m.3-24.8h0m0-34.3h0m0-23.2h0m1.4 31.5h0m.1 32.7h0m.1-54h0m.4 205.3h0m1.5-225.2h0m.1 3.1h0m0 6.5h0m0-7.3h0m1.9 229.7h0m1.3-10.5h0m.1-205.2h0m.2-11.6h0m.4-20.8h0m.2 14.4h0m.6-29.6h0m0 3.5h0m0 42.2h0m.1-22.9h0m.1-15.4h0m.1 19.4h0m0 31.4h0m.2-57.3h0m.2 70.6h0m.1-5.9h0m.5 196.3h0m.6-183.9h0m0-2.5h0m1 182h0m2 5.8h0m.7-157.6h0m1.9-43.2h0m0-15.2h0m0 .8h0m0 18h0m1.2 190h0m.7-175.6h0m2.2 152.6h0m.2 4h0m.3-180.7h0m.1-21.3h0m0-16.5h0m0-2.1h0m0 13h0m0 20.6h0m0 20.8h0m.7 177.4h0m.3-207.8h0m.1 4.5h0m0 16.9h0m.1 5.5h0m.3-60.7h0m.1-5.5h0m1 64h0m1.1-64.3h0m0 15.9h0m.1-5.8h0m0 42.6h0m.3 4.7h0m.1-36.8h0m0 49.8h0m.1 39.9h0m0 3.8h0m.2-7.8h0m0-62.3h0m0-32.8h0m0-4.6h0m.1 21.2h0m.2 82.1h0m.1 4.8h0m.6-15.6h0m0-15.9h0m0-7.1h0m0 2.3h0m0 8h0m0 7.3h0m.1 2.8h0m1.6 161.9h0m0-11.2h0m2.7-143.2h0m0 7.6h0m.8-19.8h0m.1 .2h0m.1 4.2h0m.6-43.5h0m0-11.1h0m.1-6h0m0 4.9h0m0 7.2h0m.2 12.1h0m1.2 196.7h0m2.4-7.2h0m.5 5h0m1.7-193.1h0m0-24.2h0m0-6h0m.1 11.2h0m0 23.3h0m.5 4h0m2.5 175.9h0m.8-170.2h0m.9 171.3h0m.5-9h0m.5 6.3h0m2.9-169.2h0m3.6 163.1h0m.5 .8h0m.1-41.4h0m.7-132.8h0m.1-28.3h0m0-6.2h0m.3 186.6h0m0-212.4h0m0 227.4h0m.1-10h0m0 4.7h0m.4-181.7h0m.1-63.3h0m0 70.9h0m.2-34h0m.6-52.4h0m.3 11.2h0m0-8.1h0m.4 10.2h0m.9 44.9h0m.3 171h0m.5 22h0m.1-152.2h0m0-15.8h0m.1 8.2h0m0 14.4h0m.1-29.5h0m.7 39.2h0m0 6.5h0m4.2 153h0m1.1-150.6h0m.5-17.7h0m0-15.4h0m0 4.6h0m0 22.8h0m.3-38.1h0m0-39.9h0m0-33.2h0m0-19h0m.1 18.3h0m0 78.9h0m.9-43.5h0m.1 21.2h0m.2-3.2h0m0-29.6h0m0-10.3h0m0 18.8h0m.2 9.4h0m0-32.8h0m0-19.1h0m0 2.9h0m0 25.7h0m0 42.5h0m.1 45.7h0m.2-38.7h0m0-18.7h0m2 230.9h0m.3-184h0m0-22.3h0m0-9.9h0m.1 7.9h0m.8 76.3h0m0-23.7h0m0-19.4h0m0-22.1h0m0 6.3h0m.1 11.2h0m0 17h0m0 24.8h0m3.2 133.3h0m.1 10.4h0m0-3.9h0m.6-1.3h0m1.9-130.7h0m.4-11.7h0m0-2.5h0m0 7.4h0m.5-47.4h0m.1-11.9h0m0 36.9h0m.1-119.5h0m0-8.4h0m.1 16.3h0m.2 279h0m0-233.5h0m.1 55h0m0-113.4h0m.2 27h0m0 106.9h0m.5-89.5h0m0 62.7h0m.2-14.3h0m.5-84h0m0-13.4h0m.1 6.3h0m0 66.5h0m.1 38h0m.5 24.4h0m0-12.5h0m.1-34.2h0m1.7 8.3h0m.1 33.6h0m1.3-23.9h0m.7 183.3h0m.4 7.9h0m.2 6.9h0m1.8-201.2h0m0 7.7h0m0-11.7h0m.7 193.4h0m4.4-191.4h0m0-18.9h0m.1-20.8h0m0 26.5h0m.7 6h0m1.1-39.6h0m0-15.4h0m1.7 26.4h0m0 6.9h0m1 4.5h0m0-19.3h0m.4 226.6h0m0-9.6h0m1.4-227.9h0m0 4.2h0m.2-25.6h0m0-13.4h0m0 8.5h0m0 25h0m.3-13.7h0m0-45.6h0m0 9.6h0m0 8.4h0m.1-9.9h0m0-5.6h0m.8-.7h0m.1-5.3h0m0 22.9h0m0 34.9h0m.3 250.5h0m.1-.6h0m.2-314.9h0m0 2.8h0m0 61h0m.1-33.3h0m0 28.1h0m.2-17.7h0m.2 58.6h0m.7 201.5h0m.7-255.9h0m1.3 268.6h0m0-6.8h0m2.1 12.6h0m0-2.5h0m.8-232.2h0m.2-21.4h0m.1 46.2h0m0-21.8h0m0-51.9h0m0 15.2h0m.1-14h0m0 36.3h0m0-7.8h0m0-34.7h0m0 47.5h0m.1 36.8h0m1.2-9.9h0m.3-45.8h0m0 10.2h0m.1-13.3h0m1 254.1h0m.2 14.1h0m0-4.1h0m2.6-197.4h0m1.5 201.7h0m.3-233.4h0m0-6.4h0m0 17.6h0m.1 25h0m.1-32.8h0m0-15.1h0m.1-5.4h0m0 11.8h0m.5-3.5h0m0 1.3h0m.5 15h0m2.2 221.4h0m2.7-241.9h0m.1-5.6h0m0 14.2h0m.5-2.2h0m.1-99.6h0m0 55.5h0m.2-30.1h0m.1-20.5h0m.2 25.9h0m0 111.1h0m.1 2.2h0m0-61.8h0m.1-22.3h0m.3 7.3h0m0-74h0m0 62h0m.1 51.9h0m.2-35.4h0m.1-31h0m.1 296.8h0m.1-255.4h0m.2-81h0m.2 91.9h0m.1 8.9h0m0-12.2h0m.1-51.4h0m0-9.5h0m.5 96.3h0m3.4 4.9h0m.1-43.4h0m0-13h0m0 9h0m0 23.4h0m.6 28.5h0m0-2.9h0m.1-7.1h0m0-6.1h0m.3-6h0m0-14.9h0m0-17.7h0m.1 21.1h0m.5 233.9h0m1-150.5h0m0-18h0m0-8.9h0m0-4.4h0m0-4.8h0m0-5.7h0m.1-3.9h0m0 16.1h0m0 23.4h0m.2 152.5h0m0-2.5h0m4.4-159.7h0m0-7.4h0m1.1 18.5h0m.3 152.9h0m1.4-180h0m0-1.7h0m.5 180.1h0m0 4.8h0m6.5-20h0m0 20.2h0m.1-201.5h0m.6-8.3h0m.6-8.7h0m.3-43.9h0m0-72.4h0m.2 51.4h0m0-5h0m.2 10.5h0m0 38.6h0m.1 4h0m.1 12.1h0m.1-23.7h0m.1 19.4h0m0 18.2h0m.1-48.3h0m0 71.5h0m0-29.6h0m0 25.5h0m0-17.3h0m.1 11.1h0m0-100.6h0m0-8.1h0m0 102.9h0m.2-125.6h0m.1 12.2h0m.4 83.1h0m0-24.3h0m.3 247.3h0m.3-324.8h0m0 108.5h0m.1-35.9h0m.2-12.1h0m3.3 273.1h0m.5-199.8h0m0-32.1h0m0-22.9h0m.1-6.6h0m0 10.8h0m0 23.9h0m0 32.4h0m1-52.5h0m0 1.3h0m.1 37.5h0m.1 38.2h0m.2-9.5h0m.2 174.7h0m1.6-181h0m.1-31h0m0-9.6h0m.2-6h0m0-15h0m0 3.2h0m.1 3.6h0m0 2.9h0m0 14.9h0m1 95h0m.1-59.4h0m.2 180.2h0m.2-180.8h0m.4 51.5h0m.1-13.8h0m0-9.5h0m.2 27.9h0m.1-63.3h0m0-16.8h0m0 13h0m3.8 199.7h0m2.4-2.1h0m.1-144.3h0m0-2.2h0m1.5-22.9h0m.3-10h0m1.4 176h0m0 11.4h0m2.8-209.3h0m0-9.5h0m.4-15.3h0m0 30.3h0m0-3.5h0m.1-21.8h0m.1 16.2h0m0 22.3h0m.4 17.1h0m.6-15.7h0m.4 181.8h0m.3 5.2h0m.1-176.7h0m0-4.1h0m0 15.6h0m5.1 164.7h0m1.1-145.8h0m0-20.5h0m0-6.2h0m0 7.5h0m0 12.5h0m.1 15.9h0m1.6 137.1h0m.2-6.4h0m.7-135.8h0m0-20.2h0m0-14.4h0m.1-6h0m0 1.5h0m0 6.8h0m0 11.2h0m0 16.4h0m0 22.5h0m2.4 121.5h0m2.2-15.5h0m1.1-121.1h0m0-5h0m.3 119.4h0m.5-136.8h0m.1-19.4h0m0-16.6h0m0 11.2h0m0 8.2h0m.4-12.9h0m1.6 191.7h0m4.8-187.7h0m2.1 2.2h0m0-3.1h0m.3-9.7h0m.3 18.2h0m1.5 170.8h0m.4 5h0m2.5-174h0m1.1 163.4h0m.1-173.1h0m.6 3.3h0m.1-7.7h0m1.8 180.5h0m.2 12.6h0m.7-296.3h0m0 287.3h0m0-8.5h0m.9-252.2h0m0-14.4h0m0 20.9h0m.2 35.1h0m.4 22.9h0m0-105.4h0m.2 12.4h0m0 50.5h0m.3-58.2h0m.7 97.1h0m.1-5.2h0m0 39.1h0m.9-5.3h0m0-22h0m.1 20.5h0m.9 172.7h0m.4-13.1h0m2 12.7h0m.3-177.7h0m.1-5.7h0m0-9.5h0m0-7.3h0m.1 13.5h0m0 19.3h0m.6 6.9h0m0-7.2h0m0 11.4h0m.6 8h0m0 .7h0m1.1 156.2h0m3.6-172.8h0m0-20.6h0m.1-18h0m0-5.9h0m0 11.7h0m0 25.9h0m0 47.1h0m.9-55h0m0-4.1h0m.6 193.6h0m4.8-.9h0m1.1-202.6h0m.4 5h0m0 17.2h0m.4-201.3h0m0 188.8h0m0-161.6h0m0 75.3h0m.1 55.7h0m0-163.1h0m0 154.9h0m.2-6.2h0m.2-16h0m0-22.1h0m.1 42.1h0m.1-85h0m0-44.5h0m.6 38.3h0m0-27h0m.2 57.9h0m.2 67.6h0m0 37.8h0m.1-214.8h0m0 92.8h0m.1-26.3h0m0 126h0m.1-51.3h0m.2-96.5h0m0 32.7h0m.1 34.6h0m0 87.9h0m3.2 199.4h0m.8 7.7h0m.1-193.6h0m0-11.9h0m0 7.8h0m.3 10.1h0m0 6.4h0m.4 176.7h0m.4-147.4h0m3.3-59.5h0m0-24.5h0m0 1.1h0m0-8.8h0m0 16.2h0m.1 21.2h0m1.1 14.3h0m.7 19.2h0m0-26.3h0m.1-5.5h0m0 6.7h0m.5-7.6h0m.4 39.7h0m0-17.6h0m2.4 173.9h0m.1 8.2h0m1.6-177.2h0m.2-21.4h0m1.1-7.3h0m.3-86.2h0m.1 14.1h0m.1-4.8h0m.2-2.5h0m.1 15.2h0m.1 265.9h0m.3-262.2h0m0 17.2h0m.1-2.8h0m0 24.9h0m.1 11.6h0m0-2.1h0m.3 212h0m0-205h0m.3-33.4h0m.1-23.9h0m.1 4.8h0m.4 19.5h0m.1 1.2h0m0 19.3h0m.2 202h0m.3-236.7h0m0 23.7h0m1.2 218.2h0m1.9-182.8h0m1-14.4h0m1-18h0m0-9.6h0m0 7.4h0m.8 221.1h0m0 11.8h0m.1-6.8h0m.6-187.6h0m.1-23.9h0m0-2.6h0m.2 22.5h0m.1-8.6h0m2 40.8h0m.1-21.5h0m0 14.2h0m3.8-78.9h0m.1-68.1h0m.1 63.8h0m.1 60.9h0m.1-38.7h0m.1-26.3h0m.1-27.5h0m.1 35.7h0m.1-60.8h0m.3 15.8h0m.1-29.3h0m.2 73h0m.1-21.9h0m.2 6.4h0m.1-64.8h0m.1 52.7h0m.1 53.7h0m0 219.1h0m.1-257.1h0m0 89.4h0m.1-39.9h0m0 48h0m.4-8.8h0m1.1-45.1h0m0 3.8h0m.6-15.9h0m0-13.6h0m0 2.7h0m0 7.3h0m.5 38.6h0m0-11.1h0m.1 6.6h0m0 8.1h0m1.1 16.4h0m.4 178.1h0m.2-4.8h0m2.8-186.3h0m1.5 182.7h0m1.4-198.2h0m.1-20.5h0m0-7.6h0m0 5.1h0m0 13.7h0m0 16.3h0m.1 37h0m.1-34.8h0m1.9-44.6h0m.1-14.2h0m0-2h0m0 8.1h0m.3 251.2h0m.3-201.2h0m.4-63.3h0m.1 .8h0m0 67.7h0m.1-56.9h0m0 20.6h0m0-5.5h0m.1-9.5h0m0 3.8h0m.1 58.5h0m.2-20.7h0m.1-4h0m.4 68.8h0m.1-18h0m0-20.3h0m.1 7.5h0m1.1 36h0m0-19h0m0 7.1h0m.2 100.5h0m2.8 32.9h0m1 12.5h0m0 2.2h0m1.2-157.1h0m0-13.1h0m0-6.3h0m.1 27.4h0m0 7.9h0m0-37.2h0m.1-18.1h0m0-13.5h0m0-3.9h0m0 8.9h0m0 19.9h0m0 25.2h0m0 24.5h0m.2-27.4h0m.4-57.3h0m.6 54.9h0m0-24.3h0m.3-39.8h0m0-30.6h0m.1 28.9h0m0-4.8h0m.8 13.6h0m.9 218.2h0m1.2-196.6h0m.4 185.1h0m2.3-223.5h0m0-5.4h0m0 3.9h0m0 12.5h0m1-4.7h0m1.3 212.8h0m1.3-234.6h0m1.6 210.2h0m0 6.1h0m0 23.2h0m0 15.5h0m2.5-27.3h0m.4-214.9h0m0-26.3h0m.2 16h0m1.2-26h0m.9 13.6h0m.6-21.2h0m.1 25.4h0m.5 38.6h0m.2 184.2h0m0-3h0m.8 24h0m.2 3.6h0m0 9.4h0m.1-6.8h0m.5-264.3h0m0 35.9h0m0-15.5h0m0-22.7h0m1.8 22.4h0m0 6.4h0m0 20.4h0m2.1 5h0m0-9h0m.1-1.4h0m.1-8.8h0m.3 230h0m0-6.1h0m1.2 9.1h0m.2-204.9h0m.1-6.3h0m0-4.2h0m0 7.9h0m.5-23.1h0m0-11.9h0m1.5 63.2h0m0-18.5h0m.7 8.4h0m.1-1.7h0m0 6.1h0m.5 21.7h0m1.2 9.6h0m0-5.2h0m0 9.3h0m1.7 157.7h0m1.6-143.7h0m1.1 9.7h0m0-4.1h0m0 13.2h0m1.5 22h0m.9 107h0m1.8-99.6h0m1.7 16.9h0m.1-2.2h0m1 20.4h0m0-13.9h0m0-17.2h0m0 4.1h0m.3 31h0m3.9 10.5h0m0-4.9h0m1.6 68.2h0m3.1-54.2h0m0-5.2h0m7.9 66h0m1-33.3h0m6.9 4h0m2.5 31.6h0m.9-24.8h0m15.2-2.9h0m.5 29.5h0m5.4-38.8h0m0-.7h0m.1 2.9h0m.9 36.4h0m10.3-22.2h0m5.3 6.5h0m.4 16.7h0m4.1-13.2h0m6.3 2.6h0m17.2 2.5h0m16.8 3.9h0m421.2-1.1h0m18.6-4.7h0m22-5.7h0m4.7-.5h0m.2 11.3h0m4.2-.2h0m5-13.3h0m14.5-12.2h0m4.2 23.6h0m2.2-38.3h0m0 3.4h0m.4-20h0m0 6.5h0m0-3h0m3.9 50.5h0m2.6 .1h0m.3-41.2h0m0-4.2h0m.1 1.1h0m4 44h0m5.3-.3h0m2.3-81.2h0m0-5.2h0m.2 18.6h0m.3 4.2h0m0-14.6h0m3.2-31.2h0m1.4 108.4h0m6.9-3.2h0m3.9-6.5h0m2.9 8.2h0m.5-133.1h0m.1 17.6h0m.5-6.5h0m.4-24.2h0m.5-12.7h0m.5 20.7h0m3.4-22.3h0m.5-29.4h0m0-24.5h0m0 35.5h0m.5 22.5h0m.1 14.9h0m0-26.4h0m0 17.7h0m.2-36.1h0m.4 66.2h0m0-36h0m.2-16.9h0m2.2 166h0m2.4-109.4h0m.1-8.2h0m0-5.2h0m0 3.9h0m3.4 113.3h0m.1-2.8h0m.4-121.6h0m.1-9.9h0m0-14h0m0 2.9h0m0 3.2h0m0 4.3h0m.1 9.2h0m.1-29.1h0m.3 141.6h0m0-17.6h0m.5-134h0m0 15.6h0m0-23.9h0m.1-2.2h0m.6 72.8h0m.3 76.4h0m.1-148.1h0m.2 84.5h0m.1-53.2h0m0 46.1h0m.1-42h0m0 68h0m.1 1.3h0m0-85.1h0m.1 32.5h0m0-24.7h0m0-14.8h0m0-5.6h0m0 3h0m.1 26.3h0m0 16.2h0m0-6.2h0m.1 74.1h0m.1-26.2h0" stroke="#1f77b4" stroke-width="5.3" stroke-linecap="round" fill="none"/>
<path d="M116.5 984.1L117.2 981.3L117.9 980.9L118.6 978.7L119.3 974.0L120.0 971.7L120.7 976.2L121.4 984.7L122.1 991.4L122.8 994.5L123.5 995.6L124.2 997.1L124.9 999.0L125.6 999.0L126.3 994.9L127.0 987.2L127.7 979.1L128.4 972.5L129.1 965.3L129.8 956.4L130.5 951.2L131.2 953.5L131.9 958.4L132.6 961.3L133.3 965.0L134.0 971.4L134.7 975.3L135.4 972.2L136.1 964.6L136.8 956.9L137.5 951.2L138.2 948.9L138.9 952.2L139.6 959.9L140.3 965.8L141.0 963.5L141.7 955.6L142.4 951.1L143.1 955.4L143.8 966.8L144.5 978.7L145.3 984.0L146.0 978.7L146.7 966.3L147.4 954.5L148.1 949.6L148.8 953.1L149.5 963.0L150.2 973.0L150.9 975.7L151.6 969.0L152.3 957.2L153.0 948.7L153.7 948.8L154.4 955.9L155.1 963.2L155.8 966.3L156.5 966.8L157.2 966.5L157.9 964.7L158.6 963.2L159.3 967.0L160.0 973.4L160.7 972.7L161.4 963.0L162.1 954.8L162.8 957.5L163.5 968.3L164.2 977.7L164.9 979.1L165.6 971.8L166.3 960.7L167.0 953.8L167.7 955.6L168.4 962.3L169.1 966.2L169.8 966.2L170.5 967.8L171.2 972.2L171.9 973.0L172.6 964.8L173.3 954.1L174.0 953.0L174.7 963.1L175.4 974.0L176.1 976.8L176.8 973.1L177.5 970.5L178.2 971.8L178.9 969.8L179.6 959.6L180.3 951.2L181.0 956.0L181.7 966.5L182.4 966.4L183.1 957.3L183.8 956.8L184.5 969.7L185.2 982.4L185.9 984.4L186.6 979.0L187.3 970.7L188.0 958.3L188.7 944.3L189.4 940.8L190.1 955.0L190.8 975.5L191.5 985.8L192.2 984.8L192.9 982.8L193.6 984.5L194.3 985.8L195.0 984.4L195.7 982.9L196.4 982.7L197.1 981.8L197.8 980.1L198.5 979.8L199.2 980.3L199.9 977.4L200.6 969.8L201.3 963.3L202.0 964.8L202.7 974.5L203.4 985.3L204.1 989.9L204.8 985.6L205.5 976.5L206.2 971.0L206.9 972.6L207.6 974.7L208.3 970.5L209.0 963.5L209.7 960.8L210.4 962.6L211.1 963.2L211.8 961.1L212.6 961.8L213.3 968.8L214.0 977.8L214.7 982.4L215.4 981.2L216.1 978.3L216.8 978.9L217.5 984.9L218.2 992.1L218.9 992.6L219.6 985.2L220.3 977.0L221.0 975.0L221.7 979.1L222.4 983.7L223.1 984.2L223.8 981.2L224.5 979.1L225.2 980.5L225.9 984.1L226.6 988.0L227.3 991.7L228.0 994.1L228.7 994.0L229.4 991.4L230.1 987.4L230.8 984.1L231.5 982.7L232.2 983.4L232.9 985.1L233.6 986.2L234.3 986.3L235.0 986.3L235.7 987.8L236.4 990.7L237.1 992.1L237.8 988.0L238.5 980.2L239.2 976.1L239.9 981.0L240.6 990.3L241.3 994.6L242.0 991.0L242.7 986.4L243.4 986.4L244.1 985.6L244.8 976.9L245.5 964.6L246.2 960.6L246.9 967.5L247.6 975.9L248.3 977.8L249.0 976.1L249.7 977.9L250.4 983.9L251.1 988.2L251.8 987.1L252.5 984.8L253.2 988.0L253.9 993.9L254.6 991.8L255.3 979.3L256.0 968.5L256.7 970.1L257.4 978.9L258.1 981.8L258.8 974.9L259.5 967.2L260.2 968.2L260.9 975.8L261.6 980.7L262.3 981.0L263.0 982.5L263.7 987.9L264.4 992.2L265.1 991.3L265.8 986.9L266.5 983.6L267.2 984.0L267.9 987.3L268.6 988.9L269.3 985.8L270.0 981.4L270.7 981.9L271.4 987.6L272.1 991.1L272.8 988.4L273.5 984.4L274.2 986.4L274.9 993.4L275.6 998.9L276.3 999.5L277.0 996.7L277.7 992.9L278.4 989.7L279.1 988.1L279.9 987.4L280.6 986.1L281.3 983.7L282.0 981.4L282.7 979.9L283.4 979.7L284.1 982.2L284.8 986.5L285.5 987.9L286.2 982.9L286.9 975.4L287.6 974.1L288.3 979.9L289.0 984.1L289.7 981.3L290.4 977.1L291.1 977.0L291.8 976.6L292.5 969.7L293.2 959.8L293.9 956.5L294.6 963.2L295.3 973.8L296.0 981.3L296.7 984.3L297.4 984.2L298.1 982.6L298.8 981.5L299.5 981.7L300.2 982.1L300.9 981.6L301.6 979.0L302.3 972.8L303.0 963.3L303.7 956.3L304.4 957.6L305.1 965.8L305.8 973.7L306.5 975.8L307.2 970.2L307.9 958.1L308.6 945.9L309.3 941.6L310.0 948.3L310.7 960.6L311.4 971.1L312.1 976.3L312.8 977.3L313.5 977.9L314.2 980.2L314.9 981.9L315.6 977.5L316.3 964.2L317.0 949.5L317.7 946.3L318.4 957.5L319.1 972.5L319.8 980.6L320.5 980.6L321.2 977.6L321.9 975.5L322.6 973.7L323.3 969.8L324.0 965.2L324.7 964.1L325.4 967.1L326.1 969.5L326.8 967.0L327.5 961.3L328.2 958.2L328.9 959.7L329.6 963.4L330.3 967.6L331.0 973.2L331.7 977.3L332.4 975.5L333.1 970.0L333.8 968.0L334.5 971.4L335.2 973.1L335.9 968.7L336.6 963.9L337.3 964.3L338.0 965.3L338.7 960.9L339.4 956.2L340.1 959.7L340.8 969.0L341.5 974.5L342.2 972.4L342.9 967.0L343.6 961.7L344.3 956.0L345.0 951.1L345.7 949.7L346.4 951.8L347.2 955.4L347.9 960.0L348.6 965.1L349.3 970.4L350.0 974.7L350.7 975.0L351.4 969.8L352.1 963.0L352.8 957.9L353.5 954.5L354.2 954.4L354.9 959.2L355.6 965.1L356.3 966.5L357.0 965.2L357.7 966.2L358.4 968.4L359.1 965.7L359.8 956.2L360.5 947.5L361.2 949.4L361.9 958.5L362.6 960.9L363.3 952.5L364.0 944.6L364.7 946.5L365.4 952.9L366.1 954.1L366.8 950.3L367.5 949.3L368.2 954.0L368.9 960.6L369.6 965.3L370.3 966.6L371.0 963.9L371.7 958.0L372.4 953.4L373.1 954.7L373.8 959.8L374.5 961.2L375.2 953.0L375.9 936.9L376.6 924.1L377.3 925.1L378.0 934.9L378.7 937.5L379.4 928.6L380.1 920.2L380.8 921.4L381.5 928.7L382.2 934.4L382.9 936.7L383.6 938.6L384.3 941.3L385.0 943.7L385.7 944.0L386.4 942.0L387.1 937.9L387.8 934.2L388.5 934.3L389.2 939.3L389.9 947.2L390.6 953.1L391.3 951.7L392.0 945.2L392.7 943.9L393.4 952.8L394.1 963.8L394.8 966.6L395.5 961.4L396.2 955.8L396.9 955.0L397.6 959.0L398.3 965.1L399.0 969.9L399.7 971.2L400.4 970.0L401.1 968.1L401.8 966.7L402.5 966.8L403.2 968.7L403.9 971.3L404.6 973.1L405.3 973.9L406.0 973.2L406.7 970.4L407.4 967.8L408.1 968.5L408.8 969.4L409.5 962.5L410.2 947.9L410.9 936.8L411.6 936.6L412.3 940.6L413.0 938.2L413.7 929.2L414.5 923.3L415.2 929.4L415.9 944.5L416.6 954.8L417.3 953.0L418.0 948.0L418.7 950.3L419.4 957.0L420.1 959.8L420.8 957.7L421.5 954.2L422.2 951.5L422.9 951.5L423.6 953.3L424.3 951.1L425.0 939.8L425.7 925.0L426.4 920.1L427.1 931.0L427.8 949.1L428.5 961.1L429.2 962.8L429.9 959.2L430.6 956.1L431.3 954.9L432.0 955.0L432.7 954.4L433.4 950.4L434.1 944.8L434.8 942.6L435.5 946.0L436.2 953.0L436.9 961.2L437.6 966.3L438.3 964.8L439.0 959.9L439.7 958.3L440.4 960.7L441.1 960.9L441.8 955.3L442.5 948.4L443.2 946.8L443.9 950.1L444.6 950.4L445.3 943.0L446.0 934.7L446.7 936.9L447.4 950.2L448.1 962.1L448.8 960.4L449.5 947.2L450.2 937.1L450.9 940.7L451.6 952.9L452.3 958.0L453.0 947.5L453.7 929.6L454.4 921.2L455.1 927.7L455.8 938.9L456.5 945.0L457.2 946.7L457.9 947.8L458.6 946.9L459.3 941.5L460.0 933.8L460.7 928.5L461.4 927.4L462.1 929.1L462.8 933.8L463.5 940.9L464.2 944.7L464.9 939.3L465.6 930.6L466.3 928.9L467.0 935.4L467.7 942.6L468.4 943.7L469.1 934.7L469.8 918.7L470.5 906.9L471.2 905.3L471.9 904.0L472.6 892.7L473.3 877.8L474.0 875.8L474.7 895.2L475.4 924.5L476.1 939.6L476.8 925.2L477.5 891.1L478.2 863.3L478.9 858.7L479.6 871.2L480.3 885.8L481.0 896.6L481.8 906.3L482.5 915.4L483.2 921.5L483.9 923.5L484.6 921.6L485.3 918.9L486.0 919.1L486.7 923.0L487.4 928.3L488.1 929.0L488.8 920.9L489.5 908.0L490.2 898.2L490.9 889.7L491.6 874.5L492.3 854.3L493.0 845.3L493.7 857.0L494.4 875.2L495.1 880.7L495.8 876.7L496.5 881.3L497.2 899.7L497.9 921.0L498.6 932.5L499.3 932.0L500.0 926.3L500.7 921.2L501.4 913.1L502.1 897.5L502.8 881.2L503.5 875.9L504.2 882.5L504.9 893.3L505.6 904.6L506.3 912.7L507.0 910.7L507.7 898.4L508.4 884.9L509.1 878.6L509.8 881.2L510.5 890.3L511.2 900.9L511.9 904.5L512.6 897.9L513.3 891.7L514.0 897.7L514.7 910.4L515.4 914.0L516.1 905.6L516.8 895.9L517.5 891.4L518.2 887.5L518.9 879.1L519.6 870.3L520.3 868.7L521.0 875.7L521.7 882.3L522.4 876.1L523.1 855.9L523.8 833.4L524.5 822.2L525.2 826.7L525.9 840.7L526.6 855.6L527.3 869.3L528.0 883.5L528.7 897.1L529.4 905.9L530.1 909.1L530.8 910.1L531.5 912.6L532.2 915.1L532.9 909.9L533.6 890.1L534.3 861.6L535.0 844.0L535.7 852.9L536.4 878.2L537.1 894.7L537.8 896.1L538.5 899.5L539.2 914.9L539.9 930.8L540.6 934.5L541.3 929.8L542.0 928.3L542.7 933.5L543.4 938.7L544.1 936.7L544.8 926.2L545.5 911.6L546.2 898.3L546.9 889.8L547.6 887.9L548.3 890.0L549.1 890.0L549.8 886.8L550.5 886.5L551.2 893.8L551.9 907.3L552.6 920.9L553.3 924.1L554.0 912.2L554.7 897.3L555.4 896.3L556.1 910.6L556.8 924.5L557.5 921.1L558.2 900.6L558.9 881.9L559.6 881.5L560.3 894.0L561.0 902.0L561.7 898.3L562.4 893.7L563.1 897.5L563.8 900.6L564.5 886.4L565.2 858.5L565.9 839.7L566.6 841.8L567.3 851.2L568.0 850.3L568.7 842.5L569.4 842.5L570.1 853.9L570.8 868.6L571.5 878.9L572.2 883.8L572.9 883.5L573.6 874.5L574.3 859.5L575.0 853.8L575.7 867.3L576.4 891.3L577.1 910.7L577.8 917.2L578.5 914.0L579.2 909.8L579.9 905.6L580.6 895.8L581.3 880.5L582.0 867.7L582.7 862.9L583.4 864.9L584.1 874.6L584.8 892.9L585.5 910.2L586.2 915.1L586.9 910.7L587.6 904.4L588.3 893.1L589.0 874.6L589.7 859.3L590.4 859.4L591.1 873.7L591.8 891.2L592.5 902.4L593.2 902.9L593.9 889.8L594.6 866.8L595.3 852.3L596.0 865.7L596.7 898.6L597.4 920.2L598.1 916.7L598.8 907.4L599.5 913.7L600.2 929.2L600.9 932.2L601.6 917.6L602.3 903.0L603.0 904.2L603.7 916.6L604.4 926.1L605.1 928.5L605.8 926.4L606.5 916.4L607.2 897.8L607.9 882.1L608.6 880.8L609.3 889.4L610.0 893.1L610.7 884.4L611.4 874.0L612.1 873.6L612.8 876.1L613.5 867.7L614.2 855.0L614.9 858.9L615.6 881.2L616.4 901.0L617.1 904.9L617.8 902.3L618.5 906.6L619.2 915.5L619.9 917.7L620.6 911.1L621.3 903.4L622.0 897.8L622.7 887.8L623.4 872.3L624.1 864.9L624.8 874.6L625.5 891.2L626.2 904.6L626.9 917.5L627.6 931.9L628.3 942.3L629.0 945.5L629.7 944.2L630.4 940.3L631.1 933.4L631.8 926.0L632.5 922.9L633.2 922.8L633.9 917.7L634.6 906.1L635.3 898.3L636.0 903.4L636.7 914.1L637.4 912.6L638.1 892.8L638.8 872.0L639.5 873.5L640.2 896.9L640.9 919.5L641.6 924.8L642.3 917.4L643.0 911.3L643.7 914.0L644.4 925.7L645.1 939.9L645.8 945.0L646.5 936.6L647.2 928.0L647.9 932.7L648.6 942.4L649.3 940.3L650.0 929.2L650.7 926.1L651.4 934.5L652.1 941.3L652.8 937.2L653.5 929.1L654.2 927.7L654.9 929.3L655.6 921.5L656.3 904.5L657.0 894.8L657.7 899.1L658.4 902.8L659.1 895.8L659.8 890.1L660.5 897.9L661.2 909.2L661.9 907.9L662.6 897.1L663.3 895.2L664.0 906.6L664.7 913.3L665.4 904.3L666.1 895.9L666.8 905.1L667.5 922.2L668.2 928.2L668.9 921.9L669.6 915.7L670.3 913.4L671.0 908.0L671.7 898.3L672.4 895.8L673.1 908.5L673.8 925.3L674.5 927.1L675.2 910.4L675.9 891.7L676.6 886.2L677.3 891.4L678.0 896.4L678.7 899.0L679.4 905.3L680.1 916.0L680.8 922.9L681.5 917.8L682.2 905.6L682.9 903.1L683.7 917.2L684.4 935.0L685.1 942.1L685.8 937.8L686.5 928.1L687.2 915.6L687.9 904.3L688.6 903.1L689.3 912.6L690.0 918.9L690.7 913.0L691.4 905.1L692.1 904.9L692.8 905.4L693.5 900.7L694.2 900.0L694.9 908.1L695.6 910.8L696.3 896.6L697.0 877.6L697.7 872.1L698.4 881.9L699.1 896.5L699.8 905.0L700.5 903.7L701.2 902.6L701.9 911.0L702.6 919.8L703.3 914.3L704.0 899.5L704.7 895.9L705.4 910.1L706.1 925.4L706.8 926.8L707.5 920.5L708.2 917.5L708.9 913.8L709.6 903.9L710.3 897.4L711.0 908.0L711.7 930.1L712.4 941.1L713.1 928.8L713.8 907.5L714.5 898.1L715.2 898.5L715.9 892.2L716.6 878.5L717.3 870.8L718.0 873.5L718.7 878.8L719.4 883.3L720.1 891.4L720.8 903.3L721.5 908.7L722.2 897.3L722.9 874.7L723.6 861.7L724.3 869.9L725.0 887.4L725.7 897.1L726.4 898.4L727.1 900.7L727.8 905.6L728.5 907.9L729.2 908.2L729.9 910.9L730.6 914.0L731.3 909.4L732.0 894.9L732.7 880.5L733.4 877.4L734.1 884.7L734.8 889.9L735.5 882.9L736.2 869.5L736.9 867.0L737.6 883.7L738.3 908.6L739.0 926.0L739.7 931.0L740.4 926.3L741.1 917.4L741.8 912.7L742.5 915.8L743.2 915.9L743.9 903.3L744.6 887.7L745.3 882.5L746.0 880.5L746.7 866.5L747.4 846.6L748.1 844.6L748.8 870.2L749.5 906.2L750.2 931.5L751.0 939.8L751.7 937.8L752.4 934.5L753.1 934.7L753.8 935.2L754.5 925.7L755.2 902.8L755.9 879.5L756.6 873.7L757.3 889.5L758.0 913.5L758.7 926.2L759.4 918.6L760.1 899.8L760.8 886.3L761.5 883.7L762.2 885.6L762.9 886.1L763.6 885.1L764.3 881.5L765.0 873.3L765.7 866.5L766.4 872.7L767.1 887.4L767.8 891.0L768.5 879.0L769.2 865.9L769.9 856.9L770.6 849.6L771.3 850.6L772.0 861.6L772.7 869.5L773.4 869.5L774.1 872.4L774.8 882.3L775.5 891.3L776.2 896.4L776.9 900.9L777.6 900.4L778.3 889.4L779.0 875.9L779.7 872.2L780.4 878.0L781.1 882.9L781.8 884.4L782.5 889.2L783.2 896.8L783.9 899.9L784.6 898.7L785.3 900.7L786.0 913.2L786.7 934.9L787.4 952.7L788.1 951.9L788.8 935.5L789.5 922.6L790.2 925.1L790.9 936.4L791.6 945.1L792.3 949.7L793.0 954.8L793.7 961.3L794.4 966.6L795.1 968.7L795.8 967.6L796.5 965.2L797.2 965.0L797.9 969.1L798.6 976.1L799.3 983.3L800.0 988.2L800.7 989.7L801.4 989.0L802.1 989.0L802.8 991.9L803.5 997.0L804.2 1000.3L804.9 998.1L805.6 991.3L806.3 986.8L807.0 990.6L807.7 1000.2L808.4 1007.7L809.1 1009.7L809.8 1009.4L810.5 1010.9L811.2 1013.7L811.9 1014.9L812.6 1014.0L813.3 1013.6L814.0 1015.2L814.7 1016.7L815.4 1015.9L816.1 1013.8L816.8 1013.6L817.5 1015.8L818.3 1018.2L819.0 1018.4L819.7 1016.9L820.4 1016.1L821.1 1017.0L821.8 1017.6L822.5 1016.1L823.2 1014.4L823.9 1014.6L824.6 1016.3L825.3 1016.9L826.0 1016.4L826.7 1016.6L827.4 1017.9L828.1 1019.0L828.8 1019.4L829.5 1020.1L830.2 1021.5L830.9 1022.4L831.6 1022.1L832.3 1021.8L833.0 1022.6L833.7 1024.2L834.4 1024.5L835.1 1023.1L835.8 1021.3L836.5 1020.9L837.2 1021.9L837.9 1022.9L838.6 1022.8L839.3 1021.3L840.0 1019.6L840.7 1019.0L841.4 1019.7L842.1 1020.4L842.8 1020.7L843.5 1021.1L844.2 1021.6L844.9 1021.3L845.6 1019.5L846.3 1016.7L847.0 1014.3L847.7 1013.5L848.4 1014.7L849.1 1017.5L849.8 1020.9L850.5 1023.4L851.2 1024.0L851.9 1023.6L852.6 1023.7L853.3 1024.4L854.0 1024.7L854.7 1024.1L855.4 1023.7L856.1 1024.3L856.8 1025.3L857.5 1025.2L858.2 1024.0L858.9 1023.0L859.6 1023.5L860.3 1025.0L861.0 1026.1L861.7 1026.1L862.4 1025.8L863.1 1026.1L863.8 1027.0L864.5 1027.6L865.2 1027.6L865.9 1027.4L866.6 1027.2L867.3 1026.9L868.0 1026.6L868.7 1026.5L869.4 1026.8L870.1 1027.1L870.8 1027.0L871.5 1026.8L872.2 1027.0L872.9 1027.6L873.6 1028.1L874.3 1028.4L875.0 1028.7L875.7 1029.1L876.4 1029.2L877.1 1028.9L877.8 1028.6L878.5 1028.6L879.2 1028.8L879.9 1029.0L880.6 1029.0L881.3 1029.1L882.0 1029.1L882.7 1028.7L883.4 1028.2L884.1 1028.2L884.8 1028.7L885.6 1029.3L886.3 1029.4L887.0 1029.0L887.7 1028.7L888.4 1029.0L889.1 1029.6L889.8 1030.0L890.5 1030.0L891.2 1029.7L891.9 1029.6L892.6 1029.7L893.3 1029.8L894.0 1029.8L894.7 1029.7L895.4 1029.8L896.1 1030.0L896.8 1030.3L897.5 1030.5L898.2 1030.4L898.9 1030.2L899.6 1030.1L900.3 1030.1L901.0 1030.3L901.7 1030.4L902.4 1030.4L903.1 1030.4L903.8 1030.4L904.5 1030.5L905.2 1030.6L905.9 1030.7L906.6 1030.7L907.3 1030.6L908.0 1030.4L908.7 1030.2L909.4 1030.4L910.1 1030.6L910.8 1030.8L911.5 1030.8L912.2 1030.8L912.9 1030.8L913.6 1030.9L914.3 1031.0L915.0 1031.0L915.7 1030.9L916.4 1031.0L917.1 1031.1L917.8 1031.2L918.5 1031.2L919.2 1031.2L919.9 1031.1L920.6 1031.2L921.3 1031.3L922.0 1031.4L922.7 1031.5L923.4 1031.5L924.1 1031.6L924.8 1031.6L925.5 1031.6L926.2 1031.6L926.9 1031.6L927.6 1031.7L928.3 1031.8L929.0 1031.9L929.7 1031.9L930.4 1031.9L931.1 1031.9L931.8 1031.9L932.5 1032.0L933.2 1032.0L933.9 1032.0L934.6 1032.0L935.3 1032.0L936.0 1032.1L936.7 1032.1L937.4 1032.1L938.1 1032.1L938.8 1032.2L939.5 1032.2L940.2 1032.2L940.9 1032.2L941.6 1032.2L942.3 1032.2L943.0 1032.3L943.7 1032.3L944.4 1032.4L945.1 1032.4L945.8 1032.4L946.5 1032.4L947.2 1032.4L947.9 1032.4L948.6 1032.4L949.3 1032.4L950.0 1032.5L950.7 1032.5L951.4 1032.5L952.1 1032.5L952.9 1032.5L953.6 1032.6L954.3 1032.5L955.0 1032.5L955.7 1032.5L956.4 1032.5L957.1 1032.5L957.8 1032.5L958.5 1032.5L959.2 1032.6L959.9 1032.6L960.6 1032.5L961.3 1032.5L962.0 1032.5L962.7 1032.5L963.4 1032.5L964.1 1032.5L964.8 1032.5L965.5 1032.5L966.2 1032.5L966.9 1032.5L967.6 1032.5L968.3 1032.5L969.0 1032.5L969.7 1032.5L970.4 1032.5L971.1 1032.5L971.8 1032.5L972.5 1032.5L973.2 1032.5L973.9 1032.5L974.6 1032.5L975.3 1032.5L976.0 1032.5L976.7 1032.5L977.4 1032.6L978.1 1032.6L978.8 1032.6L979.5 1032.5L980.2 1032.5L980.9 1032.5L981.6 1032.6L982.3 1032.6L983.0 1032.6L983.7 1032.5L984.4 1032.5L985.1 1032.5L985.8 1032.5L986.5 1032.5L987.2 1032.5L987.9 1032.4L988.6 1032.4L989.3 1032.5L990.0 1032.5L990.7 1032.5L991.4 1032.5L992.1 1032.6L992.8 1032.6L993.5 1032.6L994.2 1032.5L994.9 1032.5L995.6 1032.5L996.3 1032.5L997.0 1032.5L997.7 1032.5L998.4 1032.5L999.1 1032.5L999.8 1032.5L1000.5 1032.5L1001.2 1032.5L1001.9 1032.5L1002.6 1032.5L1003.3 1032.5L1004.0 1032.5L1004.7 1032.5L1005.4 1032.5L1006.1 1032.5L1006.8 1032.5L1007.5 1032.5L1008.2 1032.5L1008.9 1032.5L1009.6 1032.5L1010.3 1032.5L1011.0 1032.5L1011.7 1032.5L1012.4 1032.5L1013.1 1032.5L1013.8 1032.4L1014.5 1032.4L1015.2 1032.5L1015.9 1032.5L1016.6 1032.5L1017.3 1032.5L1018.0 1032.5L1018.7 1032.5L1019.4 1032.5L1020.2 1032.5L1020.9 1032.4L1021.6 1032.4L1022.3 1032.4L1023.0 1032.5L1023.7 1032.5L1024.4 1032.5L1025.1 1032.5L1025.8 1032.5L1026.5 1032.5L1027.2 1032.5L1027.9 1032.5L1028.6 1032.5L1029.3 1032.5L1030.0 1032.5L1030.7 1032.5L1031.4 1032.5L1032.1 1032.5L1032.8 1032.5L1033.5 1032.5L1034.2 1032.5L1034.9 1032.5L1035.6 1032.6L1036.3 1032.5L1037.0 1032.5L1037.7 1032.5L1038.4 1032.5L1039.1 1032.5L1039.8 1032.5L1040.5 1032.5L1041.2 1032.5L1041.9 1032.5L1042.6 1032.5L1043.3 1032.5L1044.0 1032.5L1044.7 1032.5L1045.4 1032.5L1046.1 1032.5L1046.8 1032.5L1047.5 1032.5L1048.2 1032.5L1048.9 1032.5L1049.6 1032.5L1050.3 1032.5L1051.0 1032.5L1051.7 1032.5L1052.4 1032.5L1053.1 1032.5L1053.8 1032.5L1054.5 1032.5L1055.2 1032.5L1055.9 1032.5L1056.6 1032.5L1057.3 1032.5L1058.0 1032.5L1058.7 1032.5L1059.4 1032.5L1060.1 1032.5L1060.8 1032.5L1061.5 1032.5L1062.2 1032.5L1062.9 1032.5L1063.6 1032.5L1064.3 1032.6L1065.0 1032.6L1065.7 1032.5L1066.4 1032.5L1067.1 1032.5L1067.8 1032.5L1068.5 1032.5L1069.2 1032.5L1069.9 1032.5L1070.6 1032.5L1071.3 1032.5L1072.0 1032.5L1072.7 1032.6L1073.4 1032.5L1074.1 1032.5L1074.8 1032.5L1075.5 1032.6L1076.2 1032.6L1076.9 1032.5L1077.6 1032.5L1078.3 1032.5L1079.0 1032.5L1079.7 1032.5L1080.4 1032.5L1081.1 1032.4L1081.8 1032.4L1082.5 1032.4L1083.2 1032.5L1083.9 1032.5L1084.6 1032.5L1085.3 1032.5L1086.0 1032.5L1086.7 1032.5L1087.5 1032.6L1088.2 1032.6L1088.9 1032.6L1089.6 1032.5L1090.3 1032.5L1091.0 1032.5L1091.7 1032.5L1092.4 1032.5L1093.1 1032.5L1093.8 1032.5L1094.5 1032.5L1095.2 1032.5L1095.9 1032.5L1096.6 1032.5L1097.3 1032.5L1098.0 1032.5L1098.7 1032.5L1099.4 1032.5L1100.1 1032.5L1100.8 1032.5L1101.5 1032.5L1102.2 1032.5L1102.9 1032.5L1103.6 1032.4L1104.3 1032.5L1105.0 1032.5L1105.7 1032.5L1106.4 1032.5L1107.1 1032.5L1107.8 1032.5L1108.5 1032.4L1109.2 1032.4L1109.9 1032.5L1110.6 1032.6L1111.3 1032.6L1112.0 1032.5L1112.7 1032.5L1113.4 1032.5L1114.1 1032.6L1114.8 1032.6L1115.5 1032.5L1116.2 1032.5L1116.9 1032.5L1117.6 1032.5L1118.3 1032.5L1119.0 1032.5L1119.7 1032.6L1120.4 1032.6L1121.1 1032.6L1121.8 1032.6L1122.5 1032.5L1123.2 1032.5L1123.9 1032.5L1124.6 1032.5L1125.3 1032.6L1126.0 1032.6L1126.7 1032.6L1127.4 1032.5L1128.1 1032.5L1128.8 1032.5L1129.5 1032.5L1130.2 1032.5L1130.9 1032.5L1131.6 1032.5L1132.3 1032.5L1133.0 1032.5L1133.7 1032.6L1134.4 1032.6L1135.1 1032.5L1135.8 1032.5L1136.5 1032.5L1137.2 1032.5L1137.9 1032.5L1138.6 1032.5L1139.3 1032.5L1140.0 1032.5L1140.7 1032.5L1141.4 1032.5L1142.1 1032.5L1142.8 1032.6L1143.5 1032.6L1144.2 1032.5L1144.9 1032.5L1145.6 1032.5L1146.3 1032.5L1147.0 1032.5L1147.7 1032.5L1148.4 1032.5L1149.1 1032.5L1149.8 1032.5L1150.5 1032.5L1151.2 1032.5L1151.9 1032.5L1152.6 1032.5L1153.3 1032.5L1154.0 1032.6L1154.8 1032.6L1155.5 1032.5L1156.2 1032.5L1156.9 1032.5L1157.6 1032.5L1158.3 1032.5L1159.0 1032.5L1159.7 1032.4L1160.4 1032.4L1161.1 1032.5L1161.8 1032.5L1162.5 1032.5L1163.2 1032.5L1163.9 1032.5L1164.6 1032.6L1165.3 1032.6L1166.0 1032.6L1166.7 1032.5L1167.4 1032.5L1168.1 1032.5L1168.8 1032.5L1169.5 1032.6L1170.2 1032.6L1170.9 1032.5L1171.6 1032.4L1172.3 1032.5L1173.0 1032.5L1173.7 1032.6L1174.4 1032.5L1175.1 1032.5L1175.8 1032.5L1176.5 1032.6L1177.2 1032.5L1177.9 1032.5L1178.6 1032.5L1179.3 1032.5L1180.0 1032.5L1180.7 1032.5L1181.4 1032.5L1182.1 1032.5L1182.8 1032.6L1183.5 1032.5L1184.2 1032.5L1184.9 1032.5L1185.6 1032.5L1186.3 1032.6L1187.0 1032.5L1187.7 1032.5L1188.4 1032.5L1189.1 1032.5L1189.8 1032.5L1190.5 1032.4L1191.2 1032.4L1191.9 1032.5L1192.6 1032.5L1193.3 1032.5L1194.0 1032.5L1194.7 1032.5L1195.4 1032.5L1196.1 1032.5L1196.8 1032.5L1197.5 1032.4L1198.2 1032.4L1198.9 1032.5L1199.6 1032.5L1200.3 1032.4L1201.0 1032.4L1201.7 1032.4L1202.4 1032.5L1203.1 1032.5L1203.8 1032.5L1204.5 1032.5L1205.2 1032.5L1205.9 1032.5L1206.6 1032.5L1207.3 1032.6L1208.0 1032.6L1208.7 1032.5L1209.4 1032.5L1210.1 1032.4L1210.8 1032.5L1211.5 1032.5L1212.2 1032.5L1212.9 1032.5L1213.6 1032.5L1214.3 1032.4L1215.0 1032.4L1215.7 1032.4L1216.4 1032.4L1217.1 1032.5L1217.8 1032.5L1218.5 1032.5L1219.2 1032.5L1219.9 1032.5L1220.6 1032.5L1221.3 1032.5L1222.1 1032.5L1222.8 1032.5L1223.5 1032.5L1224.2 1032.5L1224.9 1032.5L1225.6 1032.6L1226.3 1032.5L1227.0 1032.5L1227.7 1032.5L1228.4 1032.5L1229.1 1032.5L1229.8 1032.5L1230.5 1032.5L1231.2 1032.5L1231.9 1032.5L1232.6 1032.5L1233.3 1032.5L1234.0 1032.5L1234.7 1032.5L1235.4 1032.5L1236.1 1032.5L1236.8 1032.5L1237.5 1032.5L1238.2 1032.5L1238.9 1032.5L1239.6 1032.4L1240.3 1032.5L1241.0 1032.5L1241.7 1032.5L1242.4 1032.5L1243.1 1032.5L1243.8 1032.5L1244.5 1032.5L1245.2 1032.5L1245.9 1032.5L1246.6 1032.5L1247.3 1032.5L1248.0 1032.5L1248.7 1032.4L1249.4 1032.4L1250.1 1032.5L1250.8 1032.5L1251.5 1032.5L1252.2 1032.5L1252.9 1032.5L1253.6 1032.5L1254.3 1032.5L1255.0 1032.6L1255.7 1032.5L1256.4 1032.5L1257.1 1032.4L1257.8 1032.4L1258.5 1032.5L1259.2 1032.5L1259.9 1032.5L1260.6 1032.5L1261.3 1032.5L1262.0 1032.5L1262.7 1032.5L1263.4 1032.5L1264.1 1032.5L1264.8 1032.6L1265.5 1032.5L1266.2 1032.5L1266.9 1032.5L1267.6 1032.5L1268.3 1032.5L1269.0 1032.5L1269.7 1032.5L1270.4 1032.5L1271.1 1032.5L1271.8 1032.5L1272.5 1032.5L1273.2 1032.5L1273.9 1032.5L1274.6 1032.5L1275.3 1032.5L1276.0 1032.5L1276.7 1032.5L1277.4 1032.5L1278.1 1032.5L1278.8 1032.5L1279.5 1032.4L1280.2 1032.5L1280.9 1032.5L1281.6 1032.5L1282.3 1032.5L1283.0 1032.5L1283.7 1032.5L1284.4 1032.4L1285.1 1032.4L1285.8 1032.4L1286.5 1032.5L1287.2 1032.6L1287.9 1032.6L1288.6 1032.6L1289.4 1032.5L1290.1 1032.4L1290.8 1032.4L1291.5 1032.4L1292.2 1032.5L1292.9 1032.4L1293.6 1032.4L1294.3 1032.5L1295.0 1032.6L1295.7 1032.6L1296.4 1032.5L1297.1 1032.5L1297.8 1032.5L1298.5 1032.5L1299.2 1032.5L1299.9 1032.5L1300.6 1032.5L1301.3 1032.4L1302.0 1032.4L1302.7 1032.4L1303.4 1032.3L1304.1 1032.3L1304.8 1032.2L1305.5 1032.1L1306.2 1032.0L1306.9 1032.0L1307.6 1032.0L1308.3 1032.0L1309.0 1032.0L1309.7 1031.9L1310.4 1031.8L1311.1 1031.8L1311.8 1031.8L1312.5 1031.8L1313.2 1031.8L1313.9 1031.7L1314.6 1031.7L1315.3 1031.6L1316.0 1031.5L1316.7 1031.5L1317.4 1031.5L1318.1 1031.5L1318.8 1031.4L1319.5 1031.3L1320.2 1031.2L1320.9 1031.1L1321.6 1031.0L1322.3 1030.9L1323.0 1030.9L1323.7 1030.9L1324.4 1030.9L1325.1 1030.8L1325.8 1030.6L1326.5 1030.5L1327.2 1030.4L1327.9 1030.2L1328.6 1030.0L1329.3 1029.7L1330.0 1029.5L1330.7 1029.5L1331.4 1029.6L1332.1 1029.6L1332.8 1029.4L1333.5 1029.4L1334.2 1029.4L1334.9 1029.4L1335.6 1029.3L1336.3 1029.0L1337.0 1029.0L1337.7 1029.1L1338.4 1029.2L1339.1 1029.1L1339.8 1028.7L1340.5 1028.3L1341.2 1027.9L1341.9 1027.6L1342.6 1027.5L1343.3 1027.9L1344.0 1028.4L1344.7 1028.7L1345.4 1028.5L1346.1 1028.3L1346.8 1028.2L1347.5 1028.0L1348.2 1027.4L1348.9 1026.8L1349.6 1026.7L1350.3 1027.1L1351.0 1027.5L1351.7 1027.3L1352.4 1026.7L1353.1 1026.4L1353.8 1026.5L1354.5 1026.5L1355.2 1026.4L1355.9 1026.6L1356.7 1027.0L1357.4 1027.2L1358.1 1026.9L1358.8 1026.3L1359.5 1026.1L1360.2 1026.1L1360.9 1025.8L1361.6 1025.3L1362.3 1025.1L1363.0 1025.4L1363.7 1025.9L1364.4 1026.1L1365.1 1025.8L1365.8 1025.4L1366.5 1025.1L1367.2 1025.1L1367.9 1025.4L1368.6 1025.6L1369.3 1025.1L1370.0 1024.4L1370.7 1024.2L1371.4 1024.7L1372.1 1025.2L1372.8 1024.8L1373.5 1023.6L1374.2 1022.5L1374.9 1022.4L1375.6 1022.7L1376.3 1022.7L1377.0 1022.4L1377.7 1022.5L1378.4 1023.1L1379.1 1023.7L1379.8 1024.0L1380.5 1024.0L1381.2 1024.0L1381.9 1024.2L1382.6 1024.5L1383.3 1024.5L1384.0 1024.0L1384.7 1023.2L1385.4 1022.2L1386.1 1021.1L1386.8 1020.2L1387.5 1020.1L1388.2 1020.7L1388.9 1021.4L1389.6 1021.4L1390.3 1020.3L1391.0 1018.4L1391.7 1016.7L1392.4 1015.9L1393.1 1016.3L1393.8 1017.5L1394.5 1018.5L1395.2 1018.3L1395.9 1016.9L1396.6 1015.6L1397.3 1015.5L1398.0 1016.3L1398.7 1016.8L1399.4 1016.3L1400.1 1015.4L1400.8 1015.1L1401.5 1016.0L1402.2 1017.9L1402.9 1019.5L1403.6 1019.0L1404.3 1015.1L1405.0 1008.0L1405.7 1000.9L1406.4 998.4L1407.1 1002.6L1407.8 1010.0L1408.5 1015.0L1409.2 1015.2L1409.9 1011.8L1410.6 1007.8L1411.3 1005.6L1412.0 1005.4L1412.7 1005.5L1413.4 1004.0L1414.1 1002.0L1414.8 1001.4L1415.5 1002.3L1416.2 1002.2L1416.9 999.2L1417.6 995.9L1418.3 995.1L1419.0 996.4L1419.7 997.5L1420.4 997.4L1421.1 997.1L1421.8 997.3L1422.5 996.3L1423.2 990.0L1424.0 978.7L1424.7 970.1L1425.4 971.7L1426.1 979.1L1426.8 981.0L1427.5 975.2L1428.2 970.9L1428.9 971.7L1429.6 969.7L1430.3 961.1L1431.0 955.8L1431.7 960.1L1432.4 964.3L1433.1 958.5L1433.8 951.2L1434.5 956.4L1435.2 970.0L1435.9 975.5L1436.6 967.6L1437.3 957.9L1438.0 955.9L1438.7 958.0L1439.4 958.2L1440.1 957.7L1440.8 958.6L1441.5 959.4L1442.2 959.8L1442.9 959.2L1443.6 952.6L1444.3 939.9L1445.0 931.5L1445.7 936.1L1446.4 946.9L1447.1 949.0L1447.8 937.6L1448.5 922.6L1449.2 917.4L1449.9 926.3L1450.6 945.5L1451.3 968.8L1452.0 988.4L1452.7 995.0L1453.4 985.1L1454.1 967.2L1454.8 954.5L1455.5 953.1L1456.2 959.3L1456.9 966.0L1457.6 969.0L1458.3 963.9L1459.0 946.8L1459.7 922.2L1460.4 902.6L1461.1 894.4L1461.8 893.0" stroke="#ff7f0e" stroke-width="2.1" stroke-linejoin="round" stroke-linecap="square" fill="none"/></g>
<path d="M116.50 1054.5v5M284.75 1054.5v5M453.00 1054.5v5M621.25 1054.5v5M789.50 1054.5v5M957.75 1054.5v5M1126.00 1054.5v5M1294.25 1054.5v5M116.5 627.00h-5M116.5 708.28h-5M116.5 789.56h-5M116.5 870.84h-5M116.5 952.12h-5M116.5 1033.40h-5" stroke="#000" stroke-width="1.1" fill="none"/>
<rect x="116.5" y="575.5" width="1346.0" height="479.0" fill="none" stroke="#000" stroke-width="1.1"/>
<text x="105.9" y="634.70" font-size="22.22" text-anchor="end">0.5</text>
<text x="105.9" y="715.98" font-size="22.22" text-anchor="end">0.4</text>
<text x="105.9" y="797.26" font-size="22.22" text-anchor="end">0.3</text>
<text x="105.9" y="878.54" font-size="22.22" text-anchor="end">0.2</text>
<text x="105.9" y="959.82" font-size="22.22" text-anchor="end">0.1</text>
<text x="105.9" y="1041.10" font-size="22.22" text-anchor="end">0.0</text>
<text transform="translate(57.8 815.8) rotate(-90)" font-size="22.22" text-anchor="middle">Peak Voltage [V]</text>
<rect x="1047.6" y="585.3" width="405.8" height="79.3" rx="3.3" fill="#fff" fill-opacity="0.8" stroke="#ccc" stroke-opacity="0.8" stroke-width="1.1"/>
<circle cx="1073.5" cy="600.1" r="2.9" fill="#1f77b4"/>
<path d="M1053 638.5H1092" stroke="#ff7f0e" stroke-width="2.1"/>
<text font-size="18.52" x="1106" y="605.2">Raw Data</text>
<text font-size="18.52" x="1106" y="632.4">Butterworth Filtered Data</text>
<text font-size="18.52" x="1106" y="654.3">(N=6, Tc=3.3333 min, Type: low)</text>
<text x="784.2" y="29.5" font-size="26.67" text-anchor="middle">2.5 MHz N0000003</text>
<text x="115.1" y="29.5" font-size="26.67">(a)</text>
<text x="115.6" y="566.5" font-size="26.67">(b)</text>
<text x="789.5" y="1158" font-size="22.22" text-anchor="middle">UTC</text>
<text transform="translate(113.20 1078.3) rotate(-30)" font-size="22.22" text-anchor="end">11-01 00</text>
<text transform="translate(281.45 1078.3) rotate(-30)" font-size="22.22" text-anchor="end">11-01 03</text>
<text transform="translate(449.70 1078.3) rotate(-30)" font-size="22.22" text-anchor="end">11-01 06</text>
<text transform="translate(617.95 1078.3) rotate(-30)" font-size="22.22" text-anchor="end">11-01 09</text>
<text transform="translate(786.20 1078.3) rotate(-30)" font-size="22.22" text-anchor="end">11-01 12</text>
<text transform="translate(954.45 1078.3) rotate(-30)" font-size="22.22" text-anchor="end">11-01 15</text>
<text transform="translate(1122.70 1078.3) rotate(-30)" font-size="22.22" text-anchor="end">11-01 18</text>
<text transform="translate(1290.95 1078.3) rotate(-30)" font-size="22.22" text-anchor="end">11-01 21</text>
</svg>
</body></html>
